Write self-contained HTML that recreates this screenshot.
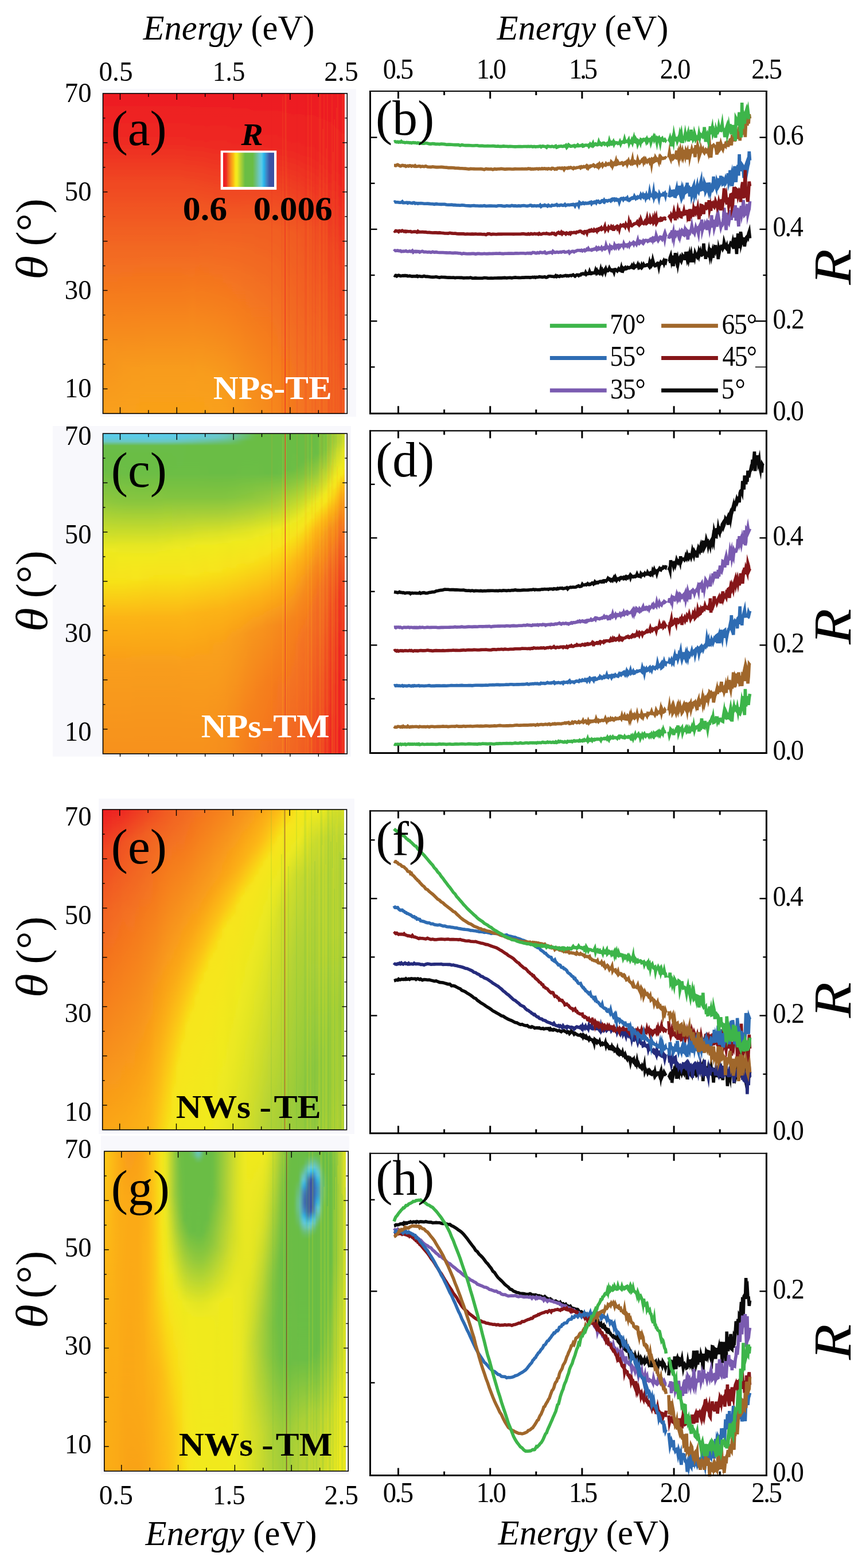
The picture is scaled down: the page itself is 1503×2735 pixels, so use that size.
<!DOCTYPE html>
<html lang="en"><head><meta charset="utf-8"><title>Reflectance maps</title>
<style>
html,body{margin:0;padding:0;background:#fff}
body{width:1503px;height:2735px;overflow:hidden}
svg{display:block}
text{font-family:"Liberation Serif",serif}
</style></head><body>
<svg width="1503" height="2735" viewBox="0 0 1503 2735">
<rect x="175.2" y="154.9" width="445.8" height="571.9" fill="#f8f8fc"/>
<rect x="92" y="743" width="520" height="576.5" fill="#f8f8fc"/>
<rect x="172" y="1393" width="446" height="585" fill="#f8f8fc"/>
<rect x="176" y="1981" width="433" height="591" fill="#f8f8fc"/>
<defs><linearGradient id="g1" x2="0" y2="1"><stop offset="0" stop-color="#ed1c24"/><stop offset=".15" stop-color="#ee2a24"/><stop offset=".275" stop-color="#f04723"/><stop offset=".463" stop-color="#f26521"/><stop offset=".8" stop-color="#f7921d"/><stop offset="1" stop-color="#f9a01a"/></linearGradient><linearGradient id="g2" x2="0" y2="1"><stop offset="0" stop-color="#ed1c24"/><stop offset=".15" stop-color="#ee2a24"/><stop offset=".275" stop-color="#f04723"/><stop offset=".463" stop-color="#f26521"/><stop offset=".8" stop-color="#f7921d"/><stop offset="1" stop-color="#f9a01a"/></linearGradient><linearGradient id="g3" x2="0" y2="1"><stop offset="0" stop-color="#ed1c24"/><stop offset=".15" stop-color="#ee2a24"/><stop offset=".275" stop-color="#f04723"/><stop offset=".463" stop-color="#f26521"/><stop offset=".8" stop-color="#f7921d"/><stop offset="1" stop-color="#f9a01a"/></linearGradient><linearGradient id="g4" x2="0" y2="1"><stop offset="0" stop-color="#ed1c24"/><stop offset=".15" stop-color="#ee2a24"/><stop offset=".275" stop-color="#f04723"/><stop offset=".463" stop-color="#f26521"/><stop offset=".8" stop-color="#f7921d"/><stop offset="1" stop-color="#f9a01a"/></linearGradient><linearGradient id="g5" x2="0" y2="1"><stop offset="0" stop-color="#ed1c24"/><stop offset=".15" stop-color="#ee2a24"/><stop offset=".275" stop-color="#f04723"/><stop offset=".463" stop-color="#f26521"/><stop offset=".812" stop-color="#f7941d"/><stop offset="1" stop-color="#f9a01a"/></linearGradient><linearGradient id="g6" x2="0" y2="1"><stop offset="0" stop-color="#ed1c24"/><stop offset=".15" stop-color="#ee2a24"/><stop offset=".275" stop-color="#f04723"/><stop offset=".463" stop-color="#f26521"/><stop offset=".838" stop-color="#f7971c"/><stop offset="1" stop-color="#f9a01a"/></linearGradient><linearGradient id="g7" x2="0" y2="1"><stop offset="0" stop-color="#ed1c24"/><stop offset=".15" stop-color="#ee2a24"/><stop offset=".275" stop-color="#f04723"/><stop offset=".463" stop-color="#f26521"/><stop offset=".85" stop-color="#f8991c"/><stop offset="1" stop-color="#f9a01a"/></linearGradient><linearGradient id="g8" x2="0" y2="1"><stop offset="0" stop-color="#ed1c24"/><stop offset=".15" stop-color="#ee2a24"/><stop offset=".275" stop-color="#f04723"/><stop offset=".463" stop-color="#f26521"/><stop offset=".85" stop-color="#f8991c"/><stop offset="1" stop-color="#f9a11a"/></linearGradient><linearGradient id="g9" x2="0" y2="1"><stop offset="0" stop-color="#ed1c24"/><stop offset=".15" stop-color="#ee2a24"/><stop offset=".275" stop-color="#f04723"/><stop offset=".463" stop-color="#f26521"/><stop offset=".863" stop-color="#f89b1b"/><stop offset="1" stop-color="#f9a11a"/></linearGradient><linearGradient id="g10" x2="0" y2="1"><stop offset="0" stop-color="#ed1c24"/><stop offset=".15" stop-color="#ee2a24"/><stop offset=".275" stop-color="#f04723"/><stop offset=".463" stop-color="#f26521"/><stop offset=".863" stop-color="#f89b1b"/><stop offset="1" stop-color="#f9a119"/></linearGradient><linearGradient id="g11" x2="0" y2="1"><stop offset="0" stop-color="#ed1c24"/><stop offset=".15" stop-color="#ee2a24"/><stop offset=".275" stop-color="#f04723"/><stop offset=".463" stop-color="#f26521"/><stop offset=".863" stop-color="#f89b1b"/><stop offset="1" stop-color="#f9a119"/></linearGradient><linearGradient id="g12" x2="0" y2="1"><stop offset="0" stop-color="#ed1c24"/><stop offset=".15" stop-color="#ee2a24"/><stop offset=".275" stop-color="#f04723"/><stop offset=".463" stop-color="#f26521"/><stop offset=".863" stop-color="#f89c1b"/><stop offset="1" stop-color="#f9a119"/></linearGradient><linearGradient id="g13" x2="0" y2="1"><stop offset="0" stop-color="#ed1c24"/><stop offset=".15" stop-color="#ee2a24"/><stop offset=".275" stop-color="#f04723"/><stop offset=".463" stop-color="#f26521"/><stop offset=".863" stop-color="#f89c1b"/><stop offset="1" stop-color="#f9a119"/></linearGradient><linearGradient id="g14" x2="0" y2="1"><stop offset="0" stop-color="#ed1c24"/><stop offset=".15" stop-color="#ee2a24"/><stop offset=".275" stop-color="#f04723"/><stop offset=".463" stop-color="#f26521"/><stop offset=".863" stop-color="#f89c1b"/><stop offset="1" stop-color="#f9a119"/></linearGradient><linearGradient id="g15" x2="0" y2="1"><stop offset="0" stop-color="#ed1c24"/><stop offset=".15" stop-color="#ee2a24"/><stop offset=".275" stop-color="#f04723"/><stop offset=".463" stop-color="#f26521"/><stop offset=".863" stop-color="#f89c1b"/><stop offset="1" stop-color="#f9a119"/></linearGradient><linearGradient id="g16" x2="0" y2="1"><stop offset="0" stop-color="#ed1c24"/><stop offset=".15" stop-color="#ee2a24"/><stop offset=".275" stop-color="#f04723"/><stop offset=".463" stop-color="#f26521"/><stop offset=".863" stop-color="#f89c1b"/><stop offset="1" stop-color="#f9a119"/></linearGradient><linearGradient id="g17" x2="0" y2="1"><stop offset="0" stop-color="#ed1c24"/><stop offset=".15" stop-color="#ee2a24"/><stop offset=".275" stop-color="#f04723"/><stop offset=".463" stop-color="#f26521"/><stop offset=".863" stop-color="#f89c1b"/><stop offset="1" stop-color="#f9a119"/></linearGradient><linearGradient id="g18" x2="0" y2="1"><stop offset="0" stop-color="#ed1c24"/><stop offset=".15" stop-color="#ee2a24"/><stop offset=".275" stop-color="#f04723"/><stop offset=".463" stop-color="#f26521"/><stop offset=".863" stop-color="#f89c1b"/><stop offset="1" stop-color="#f9a119"/></linearGradient><linearGradient id="g19" x2="0" y2="1"><stop offset="0" stop-color="#ed1c24"/><stop offset=".15" stop-color="#ee2a24"/><stop offset=".275" stop-color="#f04723"/><stop offset=".463" stop-color="#f26521"/><stop offset=".863" stop-color="#f89c1b"/><stop offset="1" stop-color="#f9a119"/></linearGradient><linearGradient id="g20" x2="0" y2="1"><stop offset="0" stop-color="#ed1c24"/><stop offset=".15" stop-color="#ee2a24"/><stop offset=".288" stop-color="#f04923"/><stop offset=".463" stop-color="#f26521"/><stop offset=".863" stop-color="#f89c1b"/><stop offset="1" stop-color="#f9a119"/></linearGradient><linearGradient id="g21" x2="0" y2="1"><stop offset="0" stop-color="#ed1c24"/><stop offset=".15" stop-color="#ee2924"/><stop offset=".3" stop-color="#f04b23"/><stop offset=".475" stop-color="#f26721"/><stop offset=".863" stop-color="#f89c1b"/><stop offset="1" stop-color="#f9a119"/></linearGradient><linearGradient id="g22" x2="0" y2="1"><stop offset="0" stop-color="#ed1c24"/><stop offset=".15" stop-color="#ee2924"/><stop offset=".312" stop-color="#f04e23"/><stop offset=".688" stop-color="#f6861e"/><stop offset=".9" stop-color="#f99e1a"/><stop offset="1" stop-color="#f9a119"/></linearGradient><linearGradient id="g23" x2="0" y2="1"><stop offset="0" stop-color="#ed1c24"/><stop offset=".15" stop-color="#ee2924"/><stop offset=".35" stop-color="#f15522"/><stop offset=".863" stop-color="#f89c1b"/><stop offset="1" stop-color="#f9a119"/></linearGradient><linearGradient id="g24" x2="0" y2="1"><stop offset="0" stop-color="#ed1c24"/><stop offset=".15" stop-color="#ee2924"/><stop offset=".375" stop-color="#f15a22"/><stop offset=".875" stop-color="#f89d1b"/><stop offset="1" stop-color="#f9a119"/></linearGradient><linearGradient id="g25" x2="0" y2="1"><stop offset="0" stop-color="#ed1c24"/><stop offset=".15" stop-color="#ee2824"/><stop offset=".388" stop-color="#f15c22"/><stop offset=".875" stop-color="#f89c1b"/><stop offset="1" stop-color="#f9a119"/></linearGradient><linearGradient id="g26" x2="0" y2="1"><stop offset="0" stop-color="#ed1c24"/><stop offset=".163" stop-color="#ee2a24"/><stop offset=".388" stop-color="#f15c22"/><stop offset=".888" stop-color="#f89d1b"/><stop offset="1" stop-color="#f9a11a"/></linearGradient><linearGradient id="g27" x2="0" y2="1"><stop offset="0" stop-color="#ed1c24"/><stop offset=".163" stop-color="#ee2a24"/><stop offset=".413" stop-color="#f25f22"/><stop offset=".888" stop-color="#f89c1b"/><stop offset="1" stop-color="#f9a01a"/></linearGradient><linearGradient id="g28" x2="0" y2="1"><stop offset="0" stop-color="#ed1c24"/><stop offset=".163" stop-color="#ee2a24"/><stop offset=".413" stop-color="#f25f22"/><stop offset=".9" stop-color="#f89c1b"/><stop offset="1" stop-color="#f9a01a"/></linearGradient><linearGradient id="g29" x2="0" y2="1"><stop offset="0" stop-color="#ed1c24"/><stop offset=".163" stop-color="#ee2a24"/><stop offset=".413" stop-color="#f25f22"/><stop offset=".9" stop-color="#f89b1b"/><stop offset="1" stop-color="#f99f1a"/></linearGradient><linearGradient id="g30" x2="0" y2="1"><stop offset="0" stop-color="#ed1c24"/><stop offset=".163" stop-color="#ee2924"/><stop offset=".413" stop-color="#f25f22"/><stop offset=".9" stop-color="#f8991c"/><stop offset="1" stop-color="#f99d1a"/></linearGradient><linearGradient id="g31" x2="0" y2="1"><stop offset="0" stop-color="#ed1c24"/><stop offset=".163" stop-color="#ee2924"/><stop offset=".413" stop-color="#f25f22"/><stop offset=".9" stop-color="#f8971c"/><stop offset="1" stop-color="#f89b1b"/></linearGradient><linearGradient id="g32" x2="0" y2="1"><stop offset="0" stop-color="#ed1c24"/><stop offset=".163" stop-color="#ee2924"/><stop offset=".413" stop-color="#f25f22"/><stop offset=".888" stop-color="#f7941d"/><stop offset="1" stop-color="#f8991c"/></linearGradient><linearGradient id="g33" x2="0" y2="1"><stop offset="0" stop-color="#ed1c24"/><stop offset=".163" stop-color="#ee2924"/><stop offset=".413" stop-color="#f15f22"/><stop offset=".888" stop-color="#f7911d"/><stop offset="1" stop-color="#f7971c"/></linearGradient><linearGradient id="g34" x2="0" y2="1"><stop offset="0" stop-color="#ed1c24"/><stop offset=".15" stop-color="#ee2724"/><stop offset=".413" stop-color="#f15f22"/><stop offset=".888" stop-color="#f68f1d"/><stop offset="1" stop-color="#f7941d"/></linearGradient><linearGradient id="g35" x2="0" y2="1"><stop offset="0" stop-color="#ed1c24"/><stop offset=".15" stop-color="#ee2624"/><stop offset=".413" stop-color="#f15f22"/><stop offset=".875" stop-color="#f68c1e"/><stop offset="1" stop-color="#f7921d"/></linearGradient><linearGradient id="g36" x2="0" y2="1"><stop offset="0" stop-color="#ed1c24"/><stop offset=".15" stop-color="#ee2624"/><stop offset=".413" stop-color="#f15e22"/><stop offset=".888" stop-color="#f68b1e"/><stop offset="1" stop-color="#f7901d"/></linearGradient><linearGradient id="g37" x2="0" y2="1"><stop offset="0" stop-color="#ed1c24"/><stop offset=".15" stop-color="#ee2624"/><stop offset=".413" stop-color="#f15e22"/><stop offset=".888" stop-color="#f6891e"/><stop offset="1" stop-color="#f68e1e"/></linearGradient><linearGradient id="g38" x2="0" y2="1"><stop offset="0" stop-color="#ed1c24"/><stop offset=".163" stop-color="#ee2724"/><stop offset=".413" stop-color="#f15e22"/><stop offset=".888" stop-color="#f6871e"/><stop offset="1" stop-color="#f68c1e"/></linearGradient><linearGradient id="g39" x2="0" y2="1"><stop offset="0" stop-color="#ed1c24"/><stop offset=".163" stop-color="#ee2724"/><stop offset=".413" stop-color="#f15d22"/><stop offset=".888" stop-color="#f5851e"/><stop offset="1" stop-color="#f6891e"/></linearGradient><linearGradient id="g40" x2="0" y2="1"><stop offset="0" stop-color="#ed1c24"/><stop offset=".163" stop-color="#ee2724"/><stop offset=".425" stop-color="#f15e22"/><stop offset=".9" stop-color="#f5831e"/><stop offset="1" stop-color="#f6861e"/></linearGradient><linearGradient id="g41" x2="0" y2="1"><stop offset="0" stop-color="#ed1c24"/><stop offset=".163" stop-color="#ee2624"/><stop offset=".425" stop-color="#f15d22"/><stop offset=".9" stop-color="#f5811f"/><stop offset="1" stop-color="#f5831e"/></linearGradient><linearGradient id="g42" x2="0" y2="1"><stop offset="0" stop-color="#ed1c24"/><stop offset=".163" stop-color="#ee2624"/><stop offset=".425" stop-color="#f15c22"/><stop offset=".913" stop-color="#f57e1f"/><stop offset="1" stop-color="#f5801f"/></linearGradient><linearGradient id="g43" x2="0" y2="1"><stop offset="0" stop-color="#ed1c24"/><stop offset=".163" stop-color="#ee2524"/><stop offset=".438" stop-color="#f15c22"/><stop offset=".925" stop-color="#f47b1f"/><stop offset="1" stop-color="#f57d1f"/></linearGradient><linearGradient id="g44" x2="0" y2="1"><stop offset="0" stop-color="#ed1c24"/><stop offset=".163" stop-color="#ee2524"/><stop offset=".312" stop-color="#ef4123"/><stop offset=".425" stop-color="#f15a22"/><stop offset=".925" stop-color="#f4781f"/><stop offset="1" stop-color="#f4791f"/></linearGradient><linearGradient id="g45" x2="0" y2="1"><stop offset="0" stop-color="#ed1c24"/><stop offset=".175" stop-color="#ee2624"/><stop offset=".312" stop-color="#ef4023"/><stop offset=".438" stop-color="#f15a22"/><stop offset=".95" stop-color="#f47620"/><stop offset="1" stop-color="#f47720"/></linearGradient><linearGradient id="g46" x2="0" y2="1"><stop offset="0" stop-color="#ed1c24"/><stop offset=".175" stop-color="#ee2524"/><stop offset=".3" stop-color="#ef3b23"/><stop offset=".425" stop-color="#f15622"/><stop offset=".913" stop-color="#f47320"/><stop offset="1" stop-color="#f47420"/></linearGradient><linearGradient id="g47" x2="0" y2="1"><stop offset="0" stop-color="#ed1c24"/><stop offset=".175" stop-color="#ee2524"/><stop offset=".288" stop-color="#ef3723"/><stop offset=".425" stop-color="#f15422"/><stop offset=".9" stop-color="#f37120"/><stop offset="1" stop-color="#f47220"/></linearGradient><linearGradient id="g48" x2="0" y2="1"><stop offset="0" stop-color="#ed1c24"/><stop offset=".188" stop-color="#ee2624"/><stop offset=".3" stop-color="#ef3823"/><stop offset=".425" stop-color="#f05122"/><stop offset=".825" stop-color="#f36b21"/><stop offset="1" stop-color="#f37020"/></linearGradient><linearGradient id="g49" x2="0" y2="1"><stop offset="0" stop-color="#ed1c24"/><stop offset=".188" stop-color="#ee2524"/><stop offset=".3" stop-color="#ef3624"/><stop offset=".425" stop-color="#f04e22"/><stop offset=".738" stop-color="#f26521"/><stop offset="1" stop-color="#f36e20"/></linearGradient><linearGradient id="g50" x2="0" y2="1"><stop offset="0" stop-color="#ed1c24"/><stop offset=".2" stop-color="#ee2524"/><stop offset=".312" stop-color="#ef3624"/><stop offset=".438" stop-color="#f04c23"/><stop offset=".738" stop-color="#f26221"/><stop offset="1" stop-color="#f36b20"/></linearGradient><linearGradient id="g51" x2="0" y2="1"><stop offset="0" stop-color="#ed1c24"/><stop offset=".213" stop-color="#ee2524"/><stop offset=".325" stop-color="#ef3624"/><stop offset=".45" stop-color="#f04923"/><stop offset=".788" stop-color="#f26221"/><stop offset="1" stop-color="#f26821"/></linearGradient><linearGradient id="g52" x2="0" y2="1"><stop offset="0" stop-color="#ed1c24"/><stop offset=".225" stop-color="#ee2524"/><stop offset=".475" stop-color="#f04723"/><stop offset=".825" stop-color="#f26021"/><stop offset="1" stop-color="#f26421"/></linearGradient><linearGradient id="g53" x2="0" y2="1"><stop offset="0" stop-color="#ed1c24"/><stop offset=".238" stop-color="#ee2424"/><stop offset=".5" stop-color="#f04523"/><stop offset=".875" stop-color="#f15f22"/><stop offset="1" stop-color="#f26121"/></linearGradient><linearGradient id="g54" x2="0" y2="1"><stop offset="0" stop-color="#ed1c24"/><stop offset=".238" stop-color="#ee2324"/><stop offset=".55" stop-color="#f04523"/><stop offset=".938" stop-color="#f15c22"/><stop offset="1" stop-color="#f15d22"/></linearGradient><linearGradient id="g55" x2="0" y2="1"><stop offset="0" stop-color="#ed1c24"/><stop offset=".25" stop-color="#ee2324"/><stop offset=".588" stop-color="#f04523"/><stop offset="1" stop-color="#f15a22"/></linearGradient><linearGradient id="g56" x2="0" y2="1"><stop offset="0" stop-color="#ed1c24"/><stop offset=".25" stop-color="#ee2324"/><stop offset=".6" stop-color="#f04623"/><stop offset="1" stop-color="#f15922"/></linearGradient><linearGradient id="g57" x2="0" y2="1"><stop offset="0" stop-color="#ed1c24"/><stop offset=".25" stop-color="#ee2324"/><stop offset=".6" stop-color="#f04623"/><stop offset="1" stop-color="#f15922"/></linearGradient>
<clipPath id="hca"><rect x="180" y="163" width="421" height="558.3"/></clipPath>
<filter id="hba" filterUnits="userSpaceOnUse" x="144" y="158" width="493" height="568.3"><feGaussianBlur stdDeviation="3 0"/></filter></defs>
<g clip-path="url(#hca)"><g filter="url(#hba)"><rect x="164" y="163" width="8.5" height="558.3" fill="url(#g1)"/><rect x="172" y="163" width="8.5" height="558.3" fill="url(#g2)"/><rect x="180" y="163" width="8.5" height="558.3" fill="url(#g3)"/><rect x="188" y="163" width="8.5" height="558.3" fill="url(#g4)"/><rect x="196" y="163" width="8.5" height="558.3" fill="url(#g5)"/><rect x="204" y="163" width="8.5" height="558.3" fill="url(#g6)"/><rect x="212" y="163" width="8.5" height="558.3" fill="url(#g7)"/><rect x="220" y="163" width="8.5" height="558.3" fill="url(#g8)"/><rect x="228" y="163" width="8.5" height="558.3" fill="url(#g9)"/><rect x="236" y="163" width="8.5" height="558.3" fill="url(#g10)"/><rect x="244" y="163" width="8.5" height="558.3" fill="url(#g11)"/><rect x="252" y="163" width="8.5" height="558.3" fill="url(#g12)"/><rect x="260" y="163" width="8.5" height="558.3" fill="url(#g13)"/><rect x="268" y="163" width="8.5" height="558.3" fill="url(#g14)"/><rect x="276" y="163" width="8.5" height="558.3" fill="url(#g15)"/><rect x="284" y="163" width="8.5" height="558.3" fill="url(#g16)"/><rect x="292" y="163" width="8.5" height="558.3" fill="url(#g17)"/><rect x="300" y="163" width="8.5" height="558.3" fill="url(#g18)"/><rect x="308" y="163" width="8.5" height="558.3" fill="url(#g19)"/><rect x="316" y="163" width="8.5" height="558.3" fill="url(#g20)"/><rect x="324" y="163" width="8.5" height="558.3" fill="url(#g21)"/><rect x="332" y="163" width="8.5" height="558.3" fill="url(#g22)"/><rect x="340" y="163" width="8.5" height="558.3" fill="url(#g23)"/><rect x="348" y="163" width="8.5" height="558.3" fill="url(#g24)"/><rect x="356" y="163" width="8.5" height="558.3" fill="url(#g25)"/><rect x="364" y="163" width="8.5" height="558.3" fill="url(#g26)"/><rect x="372" y="163" width="8.5" height="558.3" fill="url(#g27)"/><rect x="380" y="163" width="8.5" height="558.3" fill="url(#g28)"/><rect x="388" y="163" width="8.5" height="558.3" fill="url(#g29)"/><rect x="396" y="163" width="8.5" height="558.3" fill="url(#g30)"/><rect x="404" y="163" width="8.5" height="558.3" fill="url(#g31)"/><rect x="412" y="163" width="8.5" height="558.3" fill="url(#g32)"/><rect x="420" y="163" width="8.5" height="558.3" fill="url(#g33)"/><rect x="428" y="163" width="8.5" height="558.3" fill="url(#g34)"/><rect x="436" y="163" width="8.5" height="558.3" fill="url(#g35)"/><rect x="444" y="163" width="8.5" height="558.3" fill="url(#g36)"/><rect x="452" y="163" width="8.5" height="558.3" fill="url(#g37)"/><rect x="460" y="163" width="8.5" height="558.3" fill="url(#g38)"/><rect x="468" y="163" width="8.5" height="558.3" fill="url(#g39)"/><rect x="476" y="163" width="8.5" height="558.3" fill="url(#g40)"/><rect x="484" y="163" width="8.5" height="558.3" fill="url(#g41)"/><rect x="492" y="163" width="8.5" height="558.3" fill="url(#g42)"/><rect x="500" y="163" width="8.5" height="558.3" fill="url(#g43)"/><rect x="508" y="163" width="8.5" height="558.3" fill="url(#g44)"/><rect x="516" y="163" width="8.5" height="558.3" fill="url(#g45)"/><rect x="524" y="163" width="8.5" height="558.3" fill="url(#g46)"/><rect x="532" y="163" width="8.5" height="558.3" fill="url(#g47)"/><rect x="540" y="163" width="8.5" height="558.3" fill="url(#g48)"/><rect x="548" y="163" width="8.5" height="558.3" fill="url(#g49)"/><rect x="556" y="163" width="8.5" height="558.3" fill="url(#g50)"/><rect x="564" y="163" width="8.5" height="558.3" fill="url(#g51)"/><rect x="572" y="163" width="8.5" height="558.3" fill="url(#g52)"/><rect x="580" y="163" width="8.5" height="558.3" fill="url(#g53)"/><rect x="588" y="163" width="8.5" height="558.3" fill="url(#g54)"/><rect x="596" y="163" width="8.5" height="558.3" fill="url(#g55)"/><rect x="604" y="163" width="8.5" height="558.3" fill="url(#g56)"/><rect x="612" y="163" width="8.5" height="558.3" fill="url(#g57)"/></g></g>
<path d="M474 163V721M492 241V721M496 163V721M504 262V721M518 163V721M532 163V721M534 163V721M544 163V721M550 252V721M560 163V721M562 163V721M572 163V721M574 163V721M578 219V721M580 163V721M584 301V721M588 220V721M594 237V721M596 240V721M600 225V721" stroke="#ed1c24" stroke-opacity="0.14" stroke-width="1.6" fill="none"/>
<path d="M493 168V721M499 163V721M537 163V721M543 163V721M557 163V721M559 163V721M563 225V721M565 165V721M569 259V721M571 163V721M579 163V721M581 265V721M583 208V721M587 188V721M589 163V721M597 163V721M599 163V721" stroke="#f7941d" stroke-opacity="0.14" stroke-width="1.6" fill="none"/>
<rect x="601" y="163" width="4.3" height="558.3" fill="#fff"/>
<line x1="497.403" y1="163" x2="497.403" y2="721.3" stroke="#ee3a24" stroke-width="1.3"/>
<rect x="179.5" y="163" width="425.8" height="558.3" fill="none" stroke="#000" stroke-width="1.6"/>
<line x1="209.5" y1="163" x2="209.5" y2="174" stroke="#000" stroke-width="1.4"/>
<line x1="209.5" y1="721.3" x2="209.5" y2="710.3" stroke="#000" stroke-width="1.4"/>
<line x1="258.9" y1="163" x2="258.9" y2="169" stroke="#000" stroke-width="1.4"/>
<line x1="258.9" y1="721.3" x2="258.9" y2="715.3" stroke="#000" stroke-width="1.4"/>
<line x1="308.3" y1="163" x2="308.3" y2="174" stroke="#000" stroke-width="1.4"/>
<line x1="308.3" y1="721.3" x2="308.3" y2="710.3" stroke="#000" stroke-width="1.4"/>
<line x1="357.7" y1="163" x2="357.7" y2="169" stroke="#000" stroke-width="1.4"/>
<line x1="357.7" y1="721.3" x2="357.7" y2="715.3" stroke="#000" stroke-width="1.4"/>
<line x1="407.1" y1="163" x2="407.1" y2="174" stroke="#000" stroke-width="1.4"/>
<line x1="407.1" y1="721.3" x2="407.1" y2="710.3" stroke="#000" stroke-width="1.4"/>
<line x1="456.5" y1="163" x2="456.5" y2="169" stroke="#000" stroke-width="1.4"/>
<line x1="456.5" y1="721.3" x2="456.5" y2="715.3" stroke="#000" stroke-width="1.4"/>
<line x1="505.9" y1="163" x2="505.9" y2="174" stroke="#000" stroke-width="1.4"/>
<line x1="505.9" y1="721.3" x2="505.9" y2="710.3" stroke="#000" stroke-width="1.4"/>
<line x1="555.3" y1="163" x2="555.3" y2="169" stroke="#000" stroke-width="1.4"/>
<line x1="555.3" y1="721.3" x2="555.3" y2="715.3" stroke="#000" stroke-width="1.4"/>
<line x1="179.5" y1="205.946" x2="183.5" y2="205.946" stroke="#000" stroke-width="1.4"/>
<line x1="605.3" y1="205.946" x2="601.3" y2="205.946" stroke="#000" stroke-width="1.4"/>
<line x1="179.5" y1="248.892" x2="187.5" y2="248.892" stroke="#000" stroke-width="1.4"/>
<line x1="605.3" y1="248.892" x2="597.3" y2="248.892" stroke="#000" stroke-width="1.4"/>
<line x1="179.5" y1="291.838" x2="183.5" y2="291.838" stroke="#000" stroke-width="1.4"/>
<line x1="605.3" y1="291.838" x2="601.3" y2="291.838" stroke="#000" stroke-width="1.4"/>
<line x1="179.5" y1="334.785" x2="187.5" y2="334.785" stroke="#000" stroke-width="1.4"/>
<line x1="605.3" y1="334.785" x2="597.3" y2="334.785" stroke="#000" stroke-width="1.4"/>
<line x1="179.5" y1="377.731" x2="183.5" y2="377.731" stroke="#000" stroke-width="1.4"/>
<line x1="605.3" y1="377.731" x2="601.3" y2="377.731" stroke="#000" stroke-width="1.4"/>
<line x1="179.5" y1="420.677" x2="187.5" y2="420.677" stroke="#000" stroke-width="1.4"/>
<line x1="605.3" y1="420.677" x2="597.3" y2="420.677" stroke="#000" stroke-width="1.4"/>
<line x1="179.5" y1="463.623" x2="183.5" y2="463.623" stroke="#000" stroke-width="1.4"/>
<line x1="605.3" y1="463.623" x2="601.3" y2="463.623" stroke="#000" stroke-width="1.4"/>
<line x1="179.5" y1="506.569" x2="187.5" y2="506.569" stroke="#000" stroke-width="1.4"/>
<line x1="605.3" y1="506.569" x2="597.3" y2="506.569" stroke="#000" stroke-width="1.4"/>
<line x1="179.5" y1="549.515" x2="183.5" y2="549.515" stroke="#000" stroke-width="1.4"/>
<line x1="605.3" y1="549.515" x2="601.3" y2="549.515" stroke="#000" stroke-width="1.4"/>
<line x1="179.5" y1="592.462" x2="187.5" y2="592.462" stroke="#000" stroke-width="1.4"/>
<line x1="605.3" y1="592.462" x2="597.3" y2="592.462" stroke="#000" stroke-width="1.4"/>
<line x1="179.5" y1="635.408" x2="183.5" y2="635.408" stroke="#000" stroke-width="1.4"/>
<line x1="605.3" y1="635.408" x2="601.3" y2="635.408" stroke="#000" stroke-width="1.4"/>
<line x1="179.5" y1="678.354" x2="187.5" y2="678.354" stroke="#000" stroke-width="1.4"/>
<line x1="605.3" y1="678.354" x2="597.3" y2="678.354" stroke="#000" stroke-width="1.4"/>
<text transform="translate(112.79 178.03) scale(0.9724 1)" font-size="48.01">70</text>
<text transform="translate(112.79 349.82) scale(0.9724 1)" font-size="48.01">50</text>
<text transform="translate(112.79 521.60) scale(0.9724 1)" font-size="48.01">30</text>
<text transform="translate(112.79 693.38) scale(0.9724 1)" font-size="48.01">10</text>
<text transform="translate(82.44 487.86) rotate(-90) scale(1.0925 1)" font-size="78.00" font-style="italic">θ</text>
<text transform="translate(82.38 429.43) rotate(-90) scale(0.9935 1)" font-size="78.52">(°)</text>
<defs><linearGradient id="g58" x2="0" y2="1"><stop offset="0" stop-color="#5bcbe8"/><stop offset=".013" stop-color="#5dcbe4"/><stop offset=".025" stop-color="#6bc7c2"/><stop offset=".038" stop-color="#6abd4a"/><stop offset=".062" stop-color="#6abd45"/><stop offset=".113" stop-color="#6abd45"/><stop offset=".213" stop-color="#91c83c"/><stop offset=".363" stop-color="#ede920"/><stop offset=".463" stop-color="#f7e219"/><stop offset=".575" stop-color="#fcb414"/><stop offset=".713" stop-color="#f99e1a"/><stop offset="1" stop-color="#f7911d"/></linearGradient><linearGradient id="g59" x2="0" y2="1"><stop offset="0" stop-color="#5bcbe8"/><stop offset=".013" stop-color="#5dcbe4"/><stop offset=".025" stop-color="#6bc7c2"/><stop offset=".038" stop-color="#6abd4a"/><stop offset=".062" stop-color="#6abd45"/><stop offset=".113" stop-color="#6abd45"/><stop offset=".213" stop-color="#91c83c"/><stop offset=".363" stop-color="#ede920"/><stop offset=".463" stop-color="#f7e219"/><stop offset=".575" stop-color="#fcb414"/><stop offset=".713" stop-color="#f99e1a"/><stop offset="1" stop-color="#f7911d"/></linearGradient><linearGradient id="g60" x2="0" y2="1"><stop offset="0" stop-color="#5bcbe8"/><stop offset=".013" stop-color="#5dcbe4"/><stop offset=".025" stop-color="#6bc7c2"/><stop offset=".038" stop-color="#6abd4a"/><stop offset=".062" stop-color="#6abd45"/><stop offset=".113" stop-color="#6abd45"/><stop offset=".213" stop-color="#90c83c"/><stop offset=".363" stop-color="#ede920"/><stop offset=".463" stop-color="#f7e219"/><stop offset=".575" stop-color="#fcb414"/><stop offset=".713" stop-color="#f99e1a"/><stop offset="1" stop-color="#f7911d"/></linearGradient><linearGradient id="g61" x2="0" y2="1"><stop offset="0" stop-color="#5bcbe8"/><stop offset=".013" stop-color="#5dcbe4"/><stop offset=".025" stop-color="#6bc7c2"/><stop offset=".038" stop-color="#6abd4a"/><stop offset=".062" stop-color="#6abd45"/><stop offset=".125" stop-color="#6ebe44"/><stop offset=".213" stop-color="#8ec83d"/><stop offset=".363" stop-color="#ede920"/><stop offset=".463" stop-color="#f7e219"/><stop offset=".575" stop-color="#fcb414"/><stop offset=".713" stop-color="#f99e1a"/><stop offset="1" stop-color="#f7911d"/></linearGradient><linearGradient id="g62" x2="0" y2="1"><stop offset="0" stop-color="#5bcbe8"/><stop offset=".013" stop-color="#5dcbe4"/><stop offset=".025" stop-color="#6bc7c2"/><stop offset=".038" stop-color="#6abd4a"/><stop offset=".062" stop-color="#6abd45"/><stop offset=".125" stop-color="#6dbe44"/><stop offset=".213" stop-color="#8cc73d"/><stop offset=".363" stop-color="#ede920"/><stop offset=".463" stop-color="#f7e219"/><stop offset=".575" stop-color="#fcb414"/><stop offset=".713" stop-color="#f99e1a"/><stop offset="1" stop-color="#f7911d"/></linearGradient><linearGradient id="g63" x2="0" y2="1"><stop offset="0" stop-color="#5bcbe8"/><stop offset=".013" stop-color="#5dcbe4"/><stop offset=".025" stop-color="#6bc7c2"/><stop offset=".038" stop-color="#6abd4a"/><stop offset=".062" stop-color="#6abd45"/><stop offset=".125" stop-color="#6dbe44"/><stop offset=".213" stop-color="#8bc73e"/><stop offset=".35" stop-color="#e6e622"/><stop offset=".388" stop-color="#f2e91e"/><stop offset=".463" stop-color="#f7e219"/><stop offset=".575" stop-color="#fcb414"/><stop offset=".713" stop-color="#f99e1a"/><stop offset="1" stop-color="#f7911d"/></linearGradient><linearGradient id="g64" x2="0" y2="1"><stop offset="0" stop-color="#5bcbe8"/><stop offset=".013" stop-color="#5dcbe4"/><stop offset=".025" stop-color="#6bc7c2"/><stop offset=".038" stop-color="#6abd4a"/><stop offset=".062" stop-color="#6abd45"/><stop offset=".125" stop-color="#6cbe44"/><stop offset=".213" stop-color="#8ac63e"/><stop offset=".35" stop-color="#e6e622"/><stop offset=".388" stop-color="#f2e91e"/><stop offset=".463" stop-color="#f7e219"/><stop offset=".575" stop-color="#fcb414"/><stop offset=".713" stop-color="#f99e1a"/><stop offset="1" stop-color="#f7911d"/></linearGradient><linearGradient id="g65" x2="0" y2="1"><stop offset="0" stop-color="#5bcbe8"/><stop offset=".013" stop-color="#5dcbe4"/><stop offset=".025" stop-color="#6bc7c2"/><stop offset=".038" stop-color="#6abd4a"/><stop offset=".062" stop-color="#6abd45"/><stop offset=".125" stop-color="#6cbe45"/><stop offset=".213" stop-color="#8ac63e"/><stop offset=".35" stop-color="#e6e622"/><stop offset=".388" stop-color="#f2e91e"/><stop offset=".463" stop-color="#f7e119"/><stop offset=".575" stop-color="#fcb414"/><stop offset=".713" stop-color="#f99e1a"/><stop offset="1" stop-color="#f7911d"/></linearGradient><linearGradient id="g66" x2="0" y2="1"><stop offset="0" stop-color="#5bcbe8"/><stop offset=".013" stop-color="#5dcbe4"/><stop offset=".025" stop-color="#6bc7c2"/><stop offset=".038" stop-color="#6abd4a"/><stop offset=".062" stop-color="#6abd45"/><stop offset=".125" stop-color="#6cbe45"/><stop offset=".213" stop-color="#89c63e"/><stop offset=".35" stop-color="#e6e622"/><stop offset=".388" stop-color="#f2e91e"/><stop offset=".45" stop-color="#f7e51a"/><stop offset=".575" stop-color="#fcb414"/><stop offset=".725" stop-color="#f89d1b"/><stop offset="1" stop-color="#f7911d"/></linearGradient><linearGradient id="g67" x2="0" y2="1"><stop offset="0" stop-color="#5bcbe8"/><stop offset=".013" stop-color="#5dcbe4"/><stop offset=".025" stop-color="#6bc7c2"/><stop offset=".038" stop-color="#6abd4a"/><stop offset=".062" stop-color="#6abd45"/><stop offset=".125" stop-color="#6cbe45"/><stop offset=".213" stop-color="#89c63e"/><stop offset=".35" stop-color="#e6e623"/><stop offset=".388" stop-color="#f2e91e"/><stop offset=".45" stop-color="#f7e51a"/><stop offset=".575" stop-color="#fcb414"/><stop offset=".725" stop-color="#f89d1b"/><stop offset="1" stop-color="#f7911d"/></linearGradient><linearGradient id="g68" x2="0" y2="1"><stop offset="0" stop-color="#5bcbe8"/><stop offset=".013" stop-color="#5dcbe4"/><stop offset=".025" stop-color="#6bc7c2"/><stop offset=".038" stop-color="#6abd4a"/><stop offset=".062" stop-color="#6abd45"/><stop offset=".125" stop-color="#6cbe45"/><stop offset=".213" stop-color="#89c63e"/><stop offset=".35" stop-color="#e6e623"/><stop offset=".388" stop-color="#f2e91e"/><stop offset=".45" stop-color="#f7e31a"/><stop offset=".575" stop-color="#fcb314"/><stop offset=".725" stop-color="#f89d1b"/><stop offset="1" stop-color="#f7911d"/></linearGradient><linearGradient id="g69" x2="0" y2="1"><stop offset="0" stop-color="#5bcbe8"/><stop offset=".013" stop-color="#5dcbe4"/><stop offset=".025" stop-color="#6bc7c2"/><stop offset=".038" stop-color="#6abd4a"/><stop offset=".062" stop-color="#6abd45"/><stop offset=".125" stop-color="#6cbe45"/><stop offset=".213" stop-color="#89c63e"/><stop offset=".35" stop-color="#e6e623"/><stop offset=".388" stop-color="#f2e91e"/><stop offset=".45" stop-color="#f7e21a"/><stop offset=".575" stop-color="#fcb315"/><stop offset=".725" stop-color="#f89d1b"/><stop offset="1" stop-color="#f7911d"/></linearGradient><linearGradient id="g70" x2="0" y2="1"><stop offset="0" stop-color="#5bcbe8"/><stop offset=".013" stop-color="#5dcbe4"/><stop offset=".025" stop-color="#6bc7c2"/><stop offset=".038" stop-color="#6abd4a"/><stop offset=".062" stop-color="#6abd45"/><stop offset=".125" stop-color="#6cbe45"/><stop offset=".213" stop-color="#89c63e"/><stop offset=".35" stop-color="#e6e623"/><stop offset=".388" stop-color="#f2e91e"/><stop offset=".45" stop-color="#f7e219"/><stop offset=".575" stop-color="#fcb315"/><stop offset=".725" stop-color="#f89d1b"/><stop offset="1" stop-color="#f7911d"/></linearGradient><linearGradient id="g71" x2="0" y2="1"><stop offset="0" stop-color="#5bcbe8"/><stop offset=".013" stop-color="#5dcbe3"/><stop offset=".025" stop-color="#6bc7c2"/><stop offset=".038" stop-color="#6abd4a"/><stop offset=".062" stop-color="#6abd45"/><stop offset=".125" stop-color="#6cbe45"/><stop offset=".213" stop-color="#8ac63e"/><stop offset=".35" stop-color="#e6e622"/><stop offset=".388" stop-color="#f2e91e"/><stop offset=".45" stop-color="#f7e119"/><stop offset=".575" stop-color="#fcb315"/><stop offset=".725" stop-color="#f89d1b"/><stop offset="1" stop-color="#f7911d"/></linearGradient><linearGradient id="g72" x2="0" y2="1"><stop offset="0" stop-color="#5bcbe8"/><stop offset=".013" stop-color="#5ecbe3"/><stop offset=".025" stop-color="#6bc7c1"/><stop offset=".038" stop-color="#6abd4a"/><stop offset=".062" stop-color="#6abd45"/><stop offset=".125" stop-color="#6cbe45"/><stop offset=".213" stop-color="#8ac63e"/><stop offset=".338" stop-color="#e0e425"/><stop offset=".375" stop-color="#f1e91e"/><stop offset=".45" stop-color="#f7e219"/><stop offset=".575" stop-color="#fcb315"/><stop offset=".725" stop-color="#f89d1b"/><stop offset="1" stop-color="#f7911d"/></linearGradient><linearGradient id="g73" x2="0" y2="1"><stop offset="0" stop-color="#5bcbe8"/><stop offset=".013" stop-color="#5ecae2"/><stop offset=".025" stop-color="#6bc7bf"/><stop offset=".038" stop-color="#6abd4a"/><stop offset=".062" stop-color="#6abd45"/><stop offset=".125" stop-color="#6cbe45"/><stop offset=".2" stop-color="#83c43f"/><stop offset=".35" stop-color="#e8e722"/><stop offset=".375" stop-color="#f1e91e"/><stop offset=".45" stop-color="#f7e219"/><stop offset=".575" stop-color="#fcb315"/><stop offset=".725" stop-color="#f89d1b"/><stop offset="1" stop-color="#f7911d"/></linearGradient><linearGradient id="g74" x2="0" y2="1"><stop offset="0" stop-color="#5bcbe7"/><stop offset=".013" stop-color="#5ecae2"/><stop offset=".025" stop-color="#6bc7bd"/><stop offset=".038" stop-color="#6abd4a"/><stop offset=".062" stop-color="#6abd45"/><stop offset=".125" stop-color="#6cbe45"/><stop offset=".2" stop-color="#83c43f"/><stop offset=".35" stop-color="#e9e721"/><stop offset=".375" stop-color="#f1e91e"/><stop offset=".45" stop-color="#f7e219"/><stop offset=".575" stop-color="#fcb315"/><stop offset=".725" stop-color="#f89d1b"/><stop offset="1" stop-color="#f7911d"/></linearGradient><linearGradient id="g75" x2="0" y2="1"><stop offset="0" stop-color="#5bcbe7"/><stop offset=".013" stop-color="#5fcae1"/><stop offset=".025" stop-color="#6bc6ba"/><stop offset=".038" stop-color="#6abd49"/><stop offset=".075" stop-color="#6abd45"/><stop offset=".125" stop-color="#6cbe45"/><stop offset=".2" stop-color="#83c43f"/><stop offset=".263" stop-color="#aed136"/><stop offset=".338" stop-color="#e4e523"/><stop offset=".363" stop-color="#f0ea1f"/><stop offset=".45" stop-color="#f7e219"/><stop offset=".575" stop-color="#fcb315"/><stop offset=".725" stop-color="#f89d1b"/><stop offset="1" stop-color="#f7911d"/></linearGradient><linearGradient id="g76" x2="0" y2="1"><stop offset="0" stop-color="#5ccbe7"/><stop offset=".013" stop-color="#5fcae0"/><stop offset=".025" stop-color="#6bc6b8"/><stop offset=".038" stop-color="#6abd48"/><stop offset=".125" stop-color="#6cbe45"/><stop offset=".2" stop-color="#83c43f"/><stop offset=".263" stop-color="#afd135"/><stop offset=".338" stop-color="#e5e623"/><stop offset=".363" stop-color="#f0ea1f"/><stop offset=".45" stop-color="#f7e219"/><stop offset=".575" stop-color="#fcb315"/><stop offset=".738" stop-color="#f89c1b"/><stop offset="1" stop-color="#f7911d"/></linearGradient><linearGradient id="g77" x2="0" y2="1"><stop offset="0" stop-color="#5ccbe5"/><stop offset=".013" stop-color="#60cade"/><stop offset=".025" stop-color="#6bc5b4"/><stop offset=".038" stop-color="#6abd46"/><stop offset=".125" stop-color="#6cbe45"/><stop offset=".2" stop-color="#83c43f"/><stop offset=".263" stop-color="#afd135"/><stop offset=".338" stop-color="#e5e623"/><stop offset=".375" stop-color="#f2e91e"/><stop offset=".45" stop-color="#f8e119"/><stop offset=".562" stop-color="#fcb614"/><stop offset=".713" stop-color="#f99e1a"/><stop offset="1" stop-color="#f7911d"/></linearGradient><linearGradient id="g78" x2="0" y2="1"><stop offset="0" stop-color="#5ecae2"/><stop offset=".013" stop-color="#61cadb"/><stop offset=".025" stop-color="#6bc5af"/><stop offset=".038" stop-color="#6abd45"/><stop offset=".125" stop-color="#6cbe45"/><stop offset=".2" stop-color="#83c43f"/><stop offset=".263" stop-color="#b0d235"/><stop offset=".338" stop-color="#e6e622"/><stop offset=".363" stop-color="#f1e91e"/><stop offset=".438" stop-color="#f7e51a"/><stop offset=".562" stop-color="#fcb514"/><stop offset=".713" stop-color="#f99e1a"/><stop offset="1" stop-color="#f7911d"/></linearGradient><linearGradient id="g79" x2="0" y2="1"><stop offset="0" stop-color="#5fcadf"/><stop offset=".013" stop-color="#63cad8"/><stop offset=".025" stop-color="#6bc4aa"/><stop offset=".038" stop-color="#6abd45"/><stop offset=".125" stop-color="#6cbe45"/><stop offset=".2" stop-color="#83c43f"/><stop offset=".25" stop-color="#a6cf37"/><stop offset=".325" stop-color="#dfe425"/><stop offset=".35" stop-color="#eee920"/><stop offset=".438" stop-color="#f7e41a"/><stop offset=".562" stop-color="#fcb414"/><stop offset=".713" stop-color="#f99e1a"/><stop offset="1" stop-color="#f7911d"/></linearGradient><linearGradient id="g80" x2="0" y2="1"><stop offset="0" stop-color="#61cadc"/><stop offset=".013" stop-color="#64c9d5"/><stop offset=".025" stop-color="#6cc3a4"/><stop offset=".038" stop-color="#6abd45"/><stop offset=".125" stop-color="#6cbe45"/><stop offset=".2" stop-color="#83c43f"/><stop offset=".25" stop-color="#a6cf37"/><stop offset=".312" stop-color="#d8e127"/><stop offset=".35" stop-color="#efea1f"/><stop offset=".438" stop-color="#f7e31a"/><stop offset=".562" stop-color="#fcb315"/><stop offset=".7" stop-color="#f99f1a"/><stop offset="1" stop-color="#f7911d"/></linearGradient><linearGradient id="g81" x2="0" y2="1"><stop offset="0" stop-color="#62cad9"/><stop offset=".013" stop-color="#66c9d2"/><stop offset=".025" stop-color="#6cc39f"/><stop offset=".038" stop-color="#6abd45"/><stop offset=".125" stop-color="#6cbd45"/><stop offset=".2" stop-color="#83c43f"/><stop offset=".25" stop-color="#a7cf37"/><stop offset=".312" stop-color="#d9e127"/><stop offset=".35" stop-color="#f0ea1f"/><stop offset=".438" stop-color="#f7e219"/><stop offset=".562" stop-color="#fcb215"/><stop offset=".7" stop-color="#f99f1a"/><stop offset="1" stop-color="#f7911d"/></linearGradient><linearGradient id="g82" x2="0" y2="1"><stop offset="0" stop-color="#64c9d6"/><stop offset=".013" stop-color="#67c9d0"/><stop offset=".025" stop-color="#6cc299"/><stop offset=".038" stop-color="#6abd45"/><stop offset=".125" stop-color="#6cbd45"/><stop offset=".2" stop-color="#83c43f"/><stop offset=".25" stop-color="#a7cf37"/><stop offset=".312" stop-color="#dae127"/><stop offset=".35" stop-color="#f0ea1f"/><stop offset=".438" stop-color="#f8e119"/><stop offset=".562" stop-color="#fcb115"/><stop offset=".7" stop-color="#f99f1a"/><stop offset="1" stop-color="#f7901d"/></linearGradient><linearGradient id="g83" x2="0" y2="1"><stop offset="0" stop-color="#65c9d3"/><stop offset=".013" stop-color="#69c8cc"/><stop offset=".025" stop-color="#6cc194"/><stop offset=".038" stop-color="#6abd45"/><stop offset=".125" stop-color="#6bbd45"/><stop offset=".2" stop-color="#83c43f"/><stop offset=".25" stop-color="#a7cf37"/><stop offset=".312" stop-color="#dbe227"/><stop offset=".35" stop-color="#f0ea1f"/><stop offset=".425" stop-color="#f7e51a"/><stop offset=".55" stop-color="#fcb414"/><stop offset=".663" stop-color="#f9a119"/><stop offset=".925" stop-color="#f7921d"/><stop offset="1" stop-color="#f7901d"/></linearGradient><linearGradient id="g84" x2="0" y2="1"><stop offset="0" stop-color="#67c9cf"/><stop offset=".013" stop-color="#6bc8c9"/><stop offset=".025" stop-color="#6cc08e"/><stop offset=".038" stop-color="#6abd45"/><stop offset=".125" stop-color="#6bbd45"/><stop offset=".2" stop-color="#83c43f"/><stop offset=".25" stop-color="#a8cf37"/><stop offset=".312" stop-color="#dbe226"/><stop offset=".35" stop-color="#f1ea1f"/><stop offset=".425" stop-color="#f7e41a"/><stop offset=".55" stop-color="#fcb315"/><stop offset=".663" stop-color="#f9a11a"/><stop offset=".925" stop-color="#f7921d"/><stop offset="1" stop-color="#f78f1d"/></linearGradient><linearGradient id="g85" x2="0" y2="1"><stop offset="0" stop-color="#69c8cb"/><stop offset=".013" stop-color="#6bc7c1"/><stop offset=".025" stop-color="#6cc087"/><stop offset=".038" stop-color="#6abd45"/><stop offset=".125" stop-color="#6bbd45"/><stop offset=".2" stop-color="#83c43f"/><stop offset=".25" stop-color="#a8cf37"/><stop offset=".312" stop-color="#dce226"/><stop offset=".35" stop-color="#f1e91e"/><stop offset=".425" stop-color="#f7e31a"/><stop offset=".55" stop-color="#fcb315"/><stop offset=".663" stop-color="#f9a01a"/><stop offset=".913" stop-color="#f7911d"/><stop offset="1" stop-color="#f68e1d"/></linearGradient><linearGradient id="g86" x2="0" y2="1"><stop offset="0" stop-color="#6bc7c4"/><stop offset=".013" stop-color="#6bc6b7"/><stop offset=".038" stop-color="#6abd45"/><stop offset=".125" stop-color="#6bbd45"/><stop offset=".2" stop-color="#83c43f"/><stop offset=".25" stop-color="#a9cf37"/><stop offset=".312" stop-color="#dee326"/><stop offset=".35" stop-color="#f1e91e"/><stop offset=".425" stop-color="#f7e119"/><stop offset=".55" stop-color="#fcb215"/><stop offset=".663" stop-color="#f99e1a"/><stop offset=".913" stop-color="#f7901d"/><stop offset="1" stop-color="#f68d1e"/></linearGradient><linearGradient id="g87" x2="0" y2="1"><stop offset="0" stop-color="#6bc6b7"/><stop offset=".013" stop-color="#6bc4aa"/><stop offset=".038" stop-color="#6abd45"/><stop offset=".125" stop-color="#6bbd45"/><stop offset=".2" stop-color="#84c53f"/><stop offset=".25" stop-color="#aad037"/><stop offset=".312" stop-color="#dfe325"/><stop offset=".338" stop-color="#eee920"/><stop offset=".425" stop-color="#f8e019"/><stop offset=".537" stop-color="#fcb414"/><stop offset=".638" stop-color="#f99f1a"/><stop offset=".875" stop-color="#f68f1d"/><stop offset="1" stop-color="#f68b1e"/></linearGradient><linearGradient id="g88" x2="0" y2="1"><stop offset="0" stop-color="#6cc3a5"/><stop offset=".013" stop-color="#6cc299"/><stop offset=".025" stop-color="#6bbf6b"/><stop offset=".038" stop-color="#6abd45"/><stop offset=".125" stop-color="#6bbd45"/><stop offset=".2" stop-color="#85c53f"/><stop offset=".25" stop-color="#acd036"/><stop offset=".3" stop-color="#d8e128"/><stop offset=".338" stop-color="#efea1f"/><stop offset=".413" stop-color="#f7e31a"/><stop offset=".537" stop-color="#fcb215"/><stop offset=".638" stop-color="#f89d1b"/><stop offset=".888" stop-color="#f68c1e"/><stop offset="1" stop-color="#f6881e"/></linearGradient><linearGradient id="g89" x2="0" y2="1"><stop offset="0" stop-color="#6cc192"/><stop offset=".013" stop-color="#6cc086"/><stop offset=".025" stop-color="#6bbe5d"/><stop offset=".038" stop-color="#6abd45"/><stop offset=".125" stop-color="#6cbd45"/><stop offset=".2" stop-color="#87c63e"/><stop offset=".25" stop-color="#aed136"/><stop offset=".3" stop-color="#dae127"/><stop offset=".338" stop-color="#f0ea1f"/><stop offset=".413" stop-color="#f8e119"/><stop offset=".537" stop-color="#fcb115"/><stop offset=".638" stop-color="#f89b1b"/><stop offset=".913" stop-color="#f6871e"/><stop offset="1" stop-color="#f5851e"/></linearGradient><linearGradient id="g90" x2="0" y2="1"><stop offset="0" stop-color="#6cbf7f"/><stop offset=".013" stop-color="#6bbf75"/><stop offset=".025" stop-color="#6abd4e"/><stop offset=".038" stop-color="#6abd45"/><stop offset=".125" stop-color="#6cbe45"/><stop offset=".2" stop-color="#89c63e"/><stop offset=".25" stop-color="#b0d235"/><stop offset=".3" stop-color="#dce226"/><stop offset=".338" stop-color="#f0ea1f"/><stop offset=".413" stop-color="#f8df19"/><stop offset=".525" stop-color="#fcb315"/><stop offset=".625" stop-color="#f89a1b"/><stop offset=".863" stop-color="#f6861e"/><stop offset="1" stop-color="#f5811f"/></linearGradient><linearGradient id="g91" x2="0" y2="1"><stop offset="0" stop-color="#6bbf6d"/><stop offset=".013" stop-color="#6bbe63"/><stop offset=".025" stop-color="#6abd45"/><stop offset=".125" stop-color="#6cbe45"/><stop offset=".2" stop-color="#8bc73d"/><stop offset=".25" stop-color="#b2d235"/><stop offset=".3" stop-color="#dee326"/><stop offset=".338" stop-color="#f1e91e"/><stop offset=".4" stop-color="#f7e21a"/><stop offset=".525" stop-color="#fcb115"/><stop offset=".625" stop-color="#f7971c"/><stop offset=".875" stop-color="#f5821f"/><stop offset="1" stop-color="#f57e1f"/></linearGradient><linearGradient id="g92" x2="0" y2="1"><stop offset="0" stop-color="#6bbe59"/><stop offset=".025" stop-color="#6abd45"/><stop offset=".125" stop-color="#6cbe45"/><stop offset=".2" stop-color="#8dc73d"/><stop offset=".25" stop-color="#b4d334"/><stop offset=".3" stop-color="#e0e425"/><stop offset=".338" stop-color="#f1e91e"/><stop offset=".388" stop-color="#f7e51a"/><stop offset=".513" stop-color="#fcb315"/><stop offset=".625" stop-color="#f7941d"/><stop offset=".888" stop-color="#f57f1f"/><stop offset="1" stop-color="#f47b1f"/></linearGradient><linearGradient id="g93" x2="0" y2="1"><stop offset="0" stop-color="#6abd45"/><stop offset=".125" stop-color="#6cbe45"/><stop offset=".213" stop-color="#98ca3b"/><stop offset=".3" stop-color="#e2e524"/><stop offset=".325" stop-color="#f0ea1f"/><stop offset=".388" stop-color="#f7e31a"/><stop offset=".513" stop-color="#fcb215"/><stop offset=".613" stop-color="#f7941d"/><stop offset=".8" stop-color="#f5821f"/><stop offset="1" stop-color="#f4791f"/></linearGradient><linearGradient id="g94" x2="0" y2="1"><stop offset="0" stop-color="#6abd45"/><stop offset=".125" stop-color="#6cbd45"/><stop offset=".213" stop-color="#9acb3a"/><stop offset=".3" stop-color="#e5e623"/><stop offset=".338" stop-color="#f2e81d"/><stop offset=".388" stop-color="#f8e019"/><stop offset=".5" stop-color="#fcb414"/><stop offset=".613" stop-color="#f7921d"/><stop offset=".8" stop-color="#f5801f"/><stop offset="1" stop-color="#f47620"/></linearGradient><linearGradient id="g95" x2="0" y2="1"><stop offset="0" stop-color="#6abd45"/><stop offset=".125" stop-color="#6bbd45"/><stop offset=".213" stop-color="#9dcc3a"/><stop offset=".3" stop-color="#e7e722"/><stop offset=".325" stop-color="#f2e91e"/><stop offset=".375" stop-color="#f7e31a"/><stop offset=".5" stop-color="#fcb115"/><stop offset=".6" stop-color="#f7911d"/><stop offset=".775" stop-color="#f57f1f"/><stop offset="1" stop-color="#f47420"/></linearGradient><linearGradient id="g96" x2="0" y2="1"><stop offset="0" stop-color="#6abd45"/><stop offset=".125" stop-color="#6bbd45"/><stop offset=".213" stop-color="#a0cd39"/><stop offset=".3" stop-color="#eae821"/><stop offset=".338" stop-color="#f4e71c"/><stop offset=".363" stop-color="#f7e51a"/><stop offset=".488" stop-color="#fcb315"/><stop offset=".6" stop-color="#f68f1d"/><stop offset=".775" stop-color="#f57d1f"/><stop offset="1" stop-color="#f37120"/></linearGradient><linearGradient id="g97" x2="0" y2="1"><stop offset="0" stop-color="#6abd45"/><stop offset=".125" stop-color="#6bbd45"/><stop offset=".225" stop-color="#add136"/><stop offset=".3" stop-color="#eee920"/><stop offset=".363" stop-color="#f8e119"/><stop offset=".475" stop-color="#fcb414"/><stop offset=".6" stop-color="#f68c1e"/><stop offset=".788" stop-color="#f4791f"/><stop offset="1" stop-color="#f36f20"/></linearGradient><linearGradient id="g98" x2="0" y2="1"><stop offset="0" stop-color="#6abd45"/><stop offset=".125" stop-color="#6cbe45"/><stop offset=".225" stop-color="#b2d235"/><stop offset=".3" stop-color="#f0ea1f"/><stop offset=".35" stop-color="#f7e31a"/><stop offset=".463" stop-color="#fcb414"/><stop offset=".6" stop-color="#f6891e"/><stop offset=".8" stop-color="#f47620"/><stop offset="1" stop-color="#f36d20"/></linearGradient><linearGradient id="g99" x2="0" y2="1"><stop offset="0" stop-color="#6abd45"/><stop offset=".113" stop-color="#6abd45"/><stop offset=".15" stop-color="#7ec340"/><stop offset=".25" stop-color="#cddc2b"/><stop offset=".288" stop-color="#ece820"/><stop offset=".338" stop-color="#f7e51a"/><stop offset=".438" stop-color="#fdb714"/><stop offset=".6" stop-color="#f6861e"/><stop offset=".863" stop-color="#f37020"/><stop offset="1" stop-color="#f36b21"/></linearGradient><linearGradient id="g100" x2="0" y2="1"><stop offset="0" stop-color="#6abd45"/><stop offset=".113" stop-color="#6bbd45"/><stop offset=".163" stop-color="#8cc73d"/><stop offset=".263" stop-color="#dde326"/><stop offset=".288" stop-color="#f0ea1f"/><stop offset=".338" stop-color="#f8e019"/><stop offset=".425" stop-color="#fcb614"/><stop offset=".588" stop-color="#f5851e"/><stop offset=".812" stop-color="#f37120"/><stop offset="1" stop-color="#f26821"/></linearGradient><linearGradient id="g101" x2="0" y2="1"><stop offset="0" stop-color="#6abd45"/><stop offset=".113" stop-color="#6dbe44"/><stop offset=".163" stop-color="#92c93c"/><stop offset=".275" stop-color="#ede920"/><stop offset=".325" stop-color="#f7e219"/><stop offset=".4" stop-color="#fdb813"/><stop offset=".575" stop-color="#f5841e"/><stop offset=".775" stop-color="#f37120"/><stop offset="1" stop-color="#f26521"/></linearGradient><linearGradient id="g102" x2="0" y2="1"><stop offset="0" stop-color="#6abd45"/><stop offset=".1" stop-color="#6cbd45"/><stop offset=".138" stop-color="#81c440"/><stop offset=".263" stop-color="#ebe821"/><stop offset=".3" stop-color="#f6e61b"/><stop offset=".4" stop-color="#fcb215"/><stop offset=".537" stop-color="#f6881e"/><stop offset=".663" stop-color="#f47520"/><stop offset="1" stop-color="#f26221"/></linearGradient><linearGradient id="g103" x2="0" y2="1"><stop offset="0" stop-color="#6abd45"/><stop offset=".088" stop-color="#6bbd45"/><stop offset=".125" stop-color="#7dc341"/><stop offset=".25" stop-color="#eae821"/><stop offset=".288" stop-color="#f6e61b"/><stop offset=".375" stop-color="#fcb414"/><stop offset=".5" stop-color="#f68b1e"/><stop offset=".638" stop-color="#f47320"/><stop offset="1" stop-color="#f15e22"/></linearGradient><linearGradient id="g104" x2="0" y2="1"><stop offset="0" stop-color="#6abd45"/><stop offset=".075" stop-color="#6abd45"/><stop offset=".125" stop-color="#84c53f"/><stop offset=".238" stop-color="#ebe821"/><stop offset=".275" stop-color="#f7e51a"/><stop offset=".35" stop-color="#fcb514"/><stop offset=".463" stop-color="#f68c1e"/><stop offset=".613" stop-color="#f37120"/><stop offset="1" stop-color="#f15822"/></linearGradient><linearGradient id="g105" x2="0" y2="1"><stop offset="0" stop-color="#6abd45"/><stop offset=".075" stop-color="#6dbe44"/><stop offset=".125" stop-color="#8dc73d"/><stop offset=".225" stop-color="#ece820"/><stop offset=".263" stop-color="#f7e31a"/><stop offset=".312" stop-color="#fdbc13"/><stop offset=".438" stop-color="#f68a1e"/><stop offset=".562" stop-color="#f37120"/><stop offset=".763" stop-color="#f26021"/><stop offset="1" stop-color="#f05022"/></linearGradient><linearGradient id="g106" x2="0" y2="1"><stop offset="0" stop-color="#6abd45"/><stop offset=".062" stop-color="#6bbd45"/><stop offset=".125" stop-color="#97ca3b"/><stop offset=".213" stop-color="#ede920"/><stop offset=".238" stop-color="#f5e61b"/><stop offset=".263" stop-color="#f9d317"/><stop offset=".3" stop-color="#fcb514"/><stop offset=".413" stop-color="#f6881e"/><stop offset=".525" stop-color="#f36e20"/><stop offset=".75" stop-color="#f15b22"/><stop offset="1" stop-color="#f04623"/></linearGradient><linearGradient id="g107" x2="0" y2="1"><stop offset="0" stop-color="#6dbe44"/><stop offset=".062" stop-color="#72bf43"/><stop offset=".15" stop-color="#bbd532"/><stop offset=".2" stop-color="#eee920"/><stop offset=".225" stop-color="#f6e61b"/><stop offset=".275" stop-color="#fdb813"/><stop offset=".338" stop-color="#f8971c"/><stop offset=".475" stop-color="#f36d20"/><stop offset=".75" stop-color="#f05122"/><stop offset="1" stop-color="#ef3b23"/></linearGradient><linearGradient id="g108" x2="0" y2="1"><stop offset="0" stop-color="#79c142"/><stop offset=".05" stop-color="#7ec340"/><stop offset=".088" stop-color="#98ca3b"/><stop offset=".163" stop-color="#dae127"/><stop offset=".188" stop-color="#f0ea1f"/><stop offset=".213" stop-color="#f6e51a"/><stop offset=".263" stop-color="#fcb414"/><stop offset=".312" stop-color="#f7951d"/><stop offset=".45" stop-color="#f36921"/><stop offset=".675" stop-color="#f04a23"/><stop offset="1" stop-color="#ee2c24"/></linearGradient><linearGradient id="g109" x2="0" y2="1"><stop offset="0" stop-color="#8ac63e"/><stop offset=".038" stop-color="#91c93c"/><stop offset=".088" stop-color="#b0d235"/><stop offset=".163" stop-color="#eee920"/><stop offset=".2" stop-color="#f8e019"/><stop offset=".238" stop-color="#fdba13"/><stop offset=".3" stop-color="#f68e1e"/><stop offset=".425" stop-color="#f26421"/><stop offset=".575" stop-color="#f04823"/><stop offset=".95" stop-color="#ee2624"/><stop offset="1" stop-color="#ee2424"/></linearGradient><linearGradient id="g110" x2="0" y2="1"><stop offset="0" stop-color="#9ecc39"/><stop offset=".025" stop-color="#a1cd39"/><stop offset=".125" stop-color="#e5e623"/><stop offset=".138" stop-color="#f0ea1f"/><stop offset=".163" stop-color="#f6e61b"/><stop offset=".188" stop-color="#f9d317"/><stop offset=".225" stop-color="#fcb115"/><stop offset=".288" stop-color="#f6861e"/><stop offset=".388" stop-color="#f26221"/><stop offset=".525" stop-color="#ef4123"/><stop offset=".788" stop-color="#ee2824"/><stop offset="1" stop-color="#ed2024"/></linearGradient><linearGradient id="g111" x2="0" y2="1"><stop offset="0" stop-color="#b3d234"/><stop offset=".025" stop-color="#b7d433"/><stop offset=".062" stop-color="#d2de2a"/><stop offset=".113" stop-color="#f0ea1f"/><stop offset=".138" stop-color="#f6e61b"/><stop offset=".188" stop-color="#fcb614"/><stop offset=".275" stop-color="#f57d1f"/><stop offset=".363" stop-color="#f15d22"/><stop offset=".5" stop-color="#ef3823"/><stop offset=".688" stop-color="#ee2624"/><stop offset="1" stop-color="#ed1d24"/></linearGradient><linearGradient id="g112" x2="0" y2="1"><stop offset="0" stop-color="#c7da2d"/><stop offset=".025" stop-color="#cddc2b"/><stop offset=".05" stop-color="#e2e424"/><stop offset=".1" stop-color="#f2e91e"/><stop offset=".125" stop-color="#f7e51a"/><stop offset=".163" stop-color="#fdb714"/><stop offset=".213" stop-color="#f68f1d"/><stop offset=".312" stop-color="#f26121"/><stop offset=".438" stop-color="#ef3b23"/><stop offset=".537" stop-color="#ee2a24"/><stop offset=".85" stop-color="#ed1d24"/><stop offset="1" stop-color="#ed1c24"/></linearGradient><linearGradient id="g113" x2="0" y2="1"><stop offset="0" stop-color="#c9db2d"/><stop offset=".025" stop-color="#cfdd2b"/><stop offset=".05" stop-color="#e4e523"/><stop offset=".1" stop-color="#f2e81d"/><stop offset=".125" stop-color="#f7e31a"/><stop offset=".163" stop-color="#fcb514"/><stop offset=".2" stop-color="#f7941d"/><stop offset=".3" stop-color="#f26521"/><stop offset=".425" stop-color="#ef3d23"/><stop offset=".525" stop-color="#ee2a24"/><stop offset=".838" stop-color="#ed1d24"/><stop offset="1" stop-color="#ed1c24"/></linearGradient><linearGradient id="g114" x2="0" y2="1"><stop offset="0" stop-color="#c9db2d"/><stop offset=".025" stop-color="#cfdd2b"/><stop offset=".05" stop-color="#e4e523"/><stop offset=".1" stop-color="#f2e81d"/><stop offset=".125" stop-color="#f7e31a"/><stop offset=".163" stop-color="#fcb514"/><stop offset=".2" stop-color="#f7941d"/><stop offset=".3" stop-color="#f26521"/><stop offset=".425" stop-color="#ef3d23"/><stop offset=".525" stop-color="#ee2a24"/><stop offset=".838" stop-color="#ed1d24"/><stop offset="1" stop-color="#ed1c24"/></linearGradient>
<clipPath id="hcc"><rect x="180" y="756.2" width="421" height="558.6"/></clipPath>
<filter id="hbc" filterUnits="userSpaceOnUse" x="144" y="751.2" width="493" height="568.6"><feGaussianBlur stdDeviation="3 0"/></filter></defs>
<g clip-path="url(#hcc)"><g filter="url(#hbc)"><rect x="164" y="756.2" width="8.5" height="558.6" fill="url(#g58)"/><rect x="172" y="756.2" width="8.5" height="558.6" fill="url(#g59)"/><rect x="180" y="756.2" width="8.5" height="558.6" fill="url(#g60)"/><rect x="188" y="756.2" width="8.5" height="558.6" fill="url(#g61)"/><rect x="196" y="756.2" width="8.5" height="558.6" fill="url(#g62)"/><rect x="204" y="756.2" width="8.5" height="558.6" fill="url(#g63)"/><rect x="212" y="756.2" width="8.5" height="558.6" fill="url(#g64)"/><rect x="220" y="756.2" width="8.5" height="558.6" fill="url(#g65)"/><rect x="228" y="756.2" width="8.5" height="558.6" fill="url(#g66)"/><rect x="236" y="756.2" width="8.5" height="558.6" fill="url(#g67)"/><rect x="244" y="756.2" width="8.5" height="558.6" fill="url(#g68)"/><rect x="252" y="756.2" width="8.5" height="558.6" fill="url(#g69)"/><rect x="260" y="756.2" width="8.5" height="558.6" fill="url(#g70)"/><rect x="268" y="756.2" width="8.5" height="558.6" fill="url(#g71)"/><rect x="276" y="756.2" width="8.5" height="558.6" fill="url(#g72)"/><rect x="284" y="756.2" width="8.5" height="558.6" fill="url(#g73)"/><rect x="292" y="756.2" width="8.5" height="558.6" fill="url(#g74)"/><rect x="300" y="756.2" width="8.5" height="558.6" fill="url(#g75)"/><rect x="308" y="756.2" width="8.5" height="558.6" fill="url(#g76)"/><rect x="316" y="756.2" width="8.5" height="558.6" fill="url(#g77)"/><rect x="324" y="756.2" width="8.5" height="558.6" fill="url(#g78)"/><rect x="332" y="756.2" width="8.5" height="558.6" fill="url(#g79)"/><rect x="340" y="756.2" width="8.5" height="558.6" fill="url(#g80)"/><rect x="348" y="756.2" width="8.5" height="558.6" fill="url(#g81)"/><rect x="356" y="756.2" width="8.5" height="558.6" fill="url(#g82)"/><rect x="364" y="756.2" width="8.5" height="558.6" fill="url(#g83)"/><rect x="372" y="756.2" width="8.5" height="558.6" fill="url(#g84)"/><rect x="380" y="756.2" width="8.5" height="558.6" fill="url(#g85)"/><rect x="388" y="756.2" width="8.5" height="558.6" fill="url(#g86)"/><rect x="396" y="756.2" width="8.5" height="558.6" fill="url(#g87)"/><rect x="404" y="756.2" width="8.5" height="558.6" fill="url(#g88)"/><rect x="412" y="756.2" width="8.5" height="558.6" fill="url(#g89)"/><rect x="420" y="756.2" width="8.5" height="558.6" fill="url(#g90)"/><rect x="428" y="756.2" width="8.5" height="558.6" fill="url(#g91)"/><rect x="436" y="756.2" width="8.5" height="558.6" fill="url(#g92)"/><rect x="444" y="756.2" width="8.5" height="558.6" fill="url(#g93)"/><rect x="452" y="756.2" width="8.5" height="558.6" fill="url(#g94)"/><rect x="460" y="756.2" width="8.5" height="558.6" fill="url(#g95)"/><rect x="468" y="756.2" width="8.5" height="558.6" fill="url(#g96)"/><rect x="476" y="756.2" width="8.5" height="558.6" fill="url(#g97)"/><rect x="484" y="756.2" width="8.5" height="558.6" fill="url(#g98)"/><rect x="492" y="756.2" width="8.5" height="558.6" fill="url(#g99)"/><rect x="500" y="756.2" width="8.5" height="558.6" fill="url(#g100)"/><rect x="508" y="756.2" width="8.5" height="558.6" fill="url(#g101)"/><rect x="516" y="756.2" width="8.5" height="558.6" fill="url(#g102)"/><rect x="524" y="756.2" width="8.5" height="558.6" fill="url(#g103)"/><rect x="532" y="756.2" width="8.5" height="558.6" fill="url(#g104)"/><rect x="540" y="756.2" width="8.5" height="558.6" fill="url(#g105)"/><rect x="548" y="756.2" width="8.5" height="558.6" fill="url(#g106)"/><rect x="556" y="756.2" width="8.5" height="558.6" fill="url(#g107)"/><rect x="564" y="756.2" width="8.5" height="558.6" fill="url(#g108)"/><rect x="572" y="756.2" width="8.5" height="558.6" fill="url(#g109)"/><rect x="580" y="756.2" width="8.5" height="558.6" fill="url(#g110)"/><rect x="588" y="756.2" width="8.5" height="558.6" fill="url(#g111)"/><rect x="596" y="756.2" width="8.5" height="558.6" fill="url(#g112)"/><rect x="604" y="756.2" width="8.5" height="558.6" fill="url(#g113)"/><rect x="612" y="756.2" width="8.5" height="558.6" fill="url(#g114)"/></g></g>
<path d="M474 756V1315M492 834V1315M496 756V1315M504 855V1315M518 756V1315M532 756V1315M534 756V1315M544 756V1315M550 846V1315M560 756V1315M562 756V1315M572 756V1315M574 756V1315M578 812V1315M580 756V1315M584 894V1315M588 813V1315M594 830V1315M596 833V1315M600 819V1315" stroke="#f7941d" stroke-opacity="0.14" stroke-width="1.6" fill="none"/>
<path d="M493 762V1315M499 756V1315M537 756V1315M543 756V1315M557 756V1315M559 756V1315M563 818V1315M565 759V1315M569 853V1315M571 756V1315M579 756V1315M581 859V1315M583 801V1315M587 781V1315M589 756V1315M597 756V1315M599 756V1315" stroke="#f5eb1b" stroke-opacity="0.14" stroke-width="1.6" fill="none"/>
<rect x="601" y="756.2" width="4.2" height="558.6" fill="#fff"/>
<line x1="497.403" y1="756.2" x2="497.403" y2="1314.8" stroke="#e8452a" stroke-width="1.3"/>
<rect x="179.5" y="756.2" width="425.7" height="558.6" fill="none" stroke="#000" stroke-width="1.6"/>
<line x1="209.5" y1="756.2" x2="209.5" y2="767.2" stroke="#000" stroke-width="1.4"/>
<line x1="209.5" y1="1314.8" x2="209.5" y2="1319.8" stroke="#000" stroke-width="1.4"/>
<line x1="258.9" y1="756.2" x2="258.9" y2="762.2" stroke="#000" stroke-width="1.4"/>
<line x1="258.9" y1="1314.8" x2="258.9" y2="1319.8" stroke="#000" stroke-width="1.4"/>
<line x1="308.3" y1="756.2" x2="308.3" y2="767.2" stroke="#000" stroke-width="1.4"/>
<line x1="308.3" y1="1314.8" x2="308.3" y2="1319.8" stroke="#000" stroke-width="1.4"/>
<line x1="357.7" y1="756.2" x2="357.7" y2="762.2" stroke="#000" stroke-width="1.4"/>
<line x1="357.7" y1="1314.8" x2="357.7" y2="1319.8" stroke="#000" stroke-width="1.4"/>
<line x1="407.1" y1="756.2" x2="407.1" y2="767.2" stroke="#000" stroke-width="1.4"/>
<line x1="407.1" y1="1314.8" x2="407.1" y2="1319.8" stroke="#000" stroke-width="1.4"/>
<line x1="456.5" y1="756.2" x2="456.5" y2="762.2" stroke="#000" stroke-width="1.4"/>
<line x1="456.5" y1="1314.8" x2="456.5" y2="1319.8" stroke="#000" stroke-width="1.4"/>
<line x1="505.9" y1="756.2" x2="505.9" y2="767.2" stroke="#000" stroke-width="1.4"/>
<line x1="505.9" y1="1314.8" x2="505.9" y2="1319.8" stroke="#000" stroke-width="1.4"/>
<line x1="555.3" y1="756.2" x2="555.3" y2="762.2" stroke="#000" stroke-width="1.4"/>
<line x1="555.3" y1="1314.8" x2="555.3" y2="1319.8" stroke="#000" stroke-width="1.4"/>
<line x1="179.5" y1="799.169" x2="183.5" y2="799.169" stroke="#000" stroke-width="1.4"/>
<line x1="605.2" y1="799.169" x2="601.2" y2="799.169" stroke="#000" stroke-width="1.4"/>
<line x1="179.5" y1="842.138" x2="187.5" y2="842.138" stroke="#000" stroke-width="1.4"/>
<line x1="605.2" y1="842.138" x2="597.2" y2="842.138" stroke="#000" stroke-width="1.4"/>
<line x1="179.5" y1="885.108" x2="183.5" y2="885.108" stroke="#000" stroke-width="1.4"/>
<line x1="605.2" y1="885.108" x2="601.2" y2="885.108" stroke="#000" stroke-width="1.4"/>
<line x1="179.5" y1="928.077" x2="187.5" y2="928.077" stroke="#000" stroke-width="1.4"/>
<line x1="605.2" y1="928.077" x2="597.2" y2="928.077" stroke="#000" stroke-width="1.4"/>
<line x1="179.5" y1="971.046" x2="183.5" y2="971.046" stroke="#000" stroke-width="1.4"/>
<line x1="605.2" y1="971.046" x2="601.2" y2="971.046" stroke="#000" stroke-width="1.4"/>
<line x1="179.5" y1="1014.02" x2="187.5" y2="1014.02" stroke="#000" stroke-width="1.4"/>
<line x1="605.2" y1="1014.02" x2="597.2" y2="1014.02" stroke="#000" stroke-width="1.4"/>
<line x1="179.5" y1="1056.98" x2="183.5" y2="1056.98" stroke="#000" stroke-width="1.4"/>
<line x1="605.2" y1="1056.98" x2="601.2" y2="1056.98" stroke="#000" stroke-width="1.4"/>
<line x1="179.5" y1="1099.95" x2="187.5" y2="1099.95" stroke="#000" stroke-width="1.4"/>
<line x1="605.2" y1="1099.95" x2="597.2" y2="1099.95" stroke="#000" stroke-width="1.4"/>
<line x1="179.5" y1="1142.92" x2="183.5" y2="1142.92" stroke="#000" stroke-width="1.4"/>
<line x1="605.2" y1="1142.92" x2="601.2" y2="1142.92" stroke="#000" stroke-width="1.4"/>
<line x1="179.5" y1="1185.89" x2="187.5" y2="1185.89" stroke="#000" stroke-width="1.4"/>
<line x1="605.2" y1="1185.89" x2="597.2" y2="1185.89" stroke="#000" stroke-width="1.4"/>
<line x1="179.5" y1="1228.86" x2="183.5" y2="1228.86" stroke="#000" stroke-width="1.4"/>
<line x1="605.2" y1="1228.86" x2="601.2" y2="1228.86" stroke="#000" stroke-width="1.4"/>
<line x1="179.5" y1="1271.83" x2="187.5" y2="1271.83" stroke="#000" stroke-width="1.4"/>
<line x1="605.2" y1="1271.83" x2="597.2" y2="1271.83" stroke="#000" stroke-width="1.4"/>
<text transform="translate(112.79 776.23) scale(0.9724 1)" font-size="48.01">70</text>
<text transform="translate(112.79 948.11) scale(0.9724 1)" font-size="48.01">50</text>
<text transform="translate(112.79 1119.98) scale(0.9724 1)" font-size="48.01">30</text>
<text transform="translate(112.79 1291.86) scale(0.9724 1)" font-size="48.01">10</text>
<text transform="translate(82.44 1101.96) rotate(-90) scale(1.0925 1)" font-size="78.00" font-style="italic">θ</text>
<text transform="translate(82.38 1043.53) rotate(-90) scale(0.9935 1)" font-size="78.52">(°)</text>
<defs><linearGradient id="g115" x2="0" y2="1"><stop offset="0" stop-color="#ed1d24"/><stop offset=".138" stop-color="#f04723"/><stop offset=".325" stop-color="#f26421"/><stop offset="1" stop-color="#faa618"/></linearGradient><linearGradient id="g116" x2="0" y2="1"><stop offset="0" stop-color="#ed1d24"/><stop offset=".138" stop-color="#f04723"/><stop offset=".325" stop-color="#f26421"/><stop offset="1" stop-color="#faa618"/></linearGradient><linearGradient id="g117" x2="0" y2="1"><stop offset="0" stop-color="#ed1e24"/><stop offset=".125" stop-color="#f04623"/><stop offset=".312" stop-color="#f26321"/><stop offset="1" stop-color="#faa618"/></linearGradient><linearGradient id="g118" x2="0" y2="1"><stop offset="0" stop-color="#ed2124"/><stop offset=".125" stop-color="#f04a23"/><stop offset=".325" stop-color="#f26721"/><stop offset=".988" stop-color="#faa618"/><stop offset="1" stop-color="#faa718"/></linearGradient><linearGradient id="g119" x2="0" y2="1"><stop offset="0" stop-color="#ee2424"/><stop offset=".113" stop-color="#f04c23"/><stop offset=".312" stop-color="#f36921"/><stop offset=".988" stop-color="#faa718"/><stop offset="1" stop-color="#faa718"/></linearGradient><linearGradient id="g120" x2="0" y2="1"><stop offset="0" stop-color="#ee2624"/><stop offset=".113" stop-color="#f05022"/><stop offset=".338" stop-color="#f36d20"/><stop offset=".988" stop-color="#faa818"/><stop offset="1" stop-color="#faa818"/></linearGradient><linearGradient id="g121" x2="0" y2="1"><stop offset="0" stop-color="#ee2924"/><stop offset=".1" stop-color="#f05222"/><stop offset=".3" stop-color="#f36d20"/><stop offset=".988" stop-color="#faa917"/><stop offset="1" stop-color="#faa917"/></linearGradient><linearGradient id="g122" x2="0" y2="1"><stop offset="0" stop-color="#ee2e24"/><stop offset=".1" stop-color="#f15622"/><stop offset=".338" stop-color="#f47220"/><stop offset=".988" stop-color="#fbaa17"/><stop offset="1" stop-color="#fbaa17"/></linearGradient><linearGradient id="g123" x2="0" y2="1"><stop offset="0" stop-color="#ef3424"/><stop offset=".1" stop-color="#f15a22"/><stop offset=".35" stop-color="#f47620"/><stop offset=".988" stop-color="#fbac17"/><stop offset="1" stop-color="#fbac17"/></linearGradient><linearGradient id="g124" x2="0" y2="1"><stop offset="0" stop-color="#ef3923"/><stop offset=".088" stop-color="#f15b22"/><stop offset=".35" stop-color="#f4781f"/><stop offset=".975" stop-color="#fbad16"/><stop offset="1" stop-color="#fbae16"/></linearGradient><linearGradient id="g125" x2="0" y2="1"><stop offset="0" stop-color="#ef3f23"/><stop offset=".088" stop-color="#f15e22"/><stop offset=".35" stop-color="#f47b1f"/><stop offset=".963" stop-color="#fbaf16"/><stop offset="1" stop-color="#fbb016"/></linearGradient><linearGradient id="g126" x2="0" y2="1"><stop offset="0" stop-color="#f04423"/><stop offset=".075" stop-color="#f15f22"/><stop offset=".35" stop-color="#f57e1f"/><stop offset=".938" stop-color="#fcb015"/><stop offset="1" stop-color="#fcb215"/></linearGradient><linearGradient id="g127" x2="0" y2="1"><stop offset="0" stop-color="#f04923"/><stop offset=".075" stop-color="#f26221"/><stop offset=".363" stop-color="#f5821f"/><stop offset=".888" stop-color="#fcb115"/><stop offset="1" stop-color="#fdb713"/></linearGradient><linearGradient id="g128" x2="0" y2="1"><stop offset="0" stop-color="#f04f22"/><stop offset=".088" stop-color="#f26721"/><stop offset=".75" stop-color="#fbad16"/><stop offset="1" stop-color="#fcc214"/></linearGradient><linearGradient id="g129" x2="0" y2="1"><stop offset="0" stop-color="#f15422"/><stop offset=".113" stop-color="#f36e20"/><stop offset=".9" stop-color="#fcc214"/><stop offset="1" stop-color="#face16"/></linearGradient><linearGradient id="g130" x2="0" y2="1"><stop offset="0" stop-color="#f15922"/><stop offset=".138" stop-color="#f47320"/><stop offset=".625" stop-color="#fbaa17"/><stop offset=".838" stop-color="#fbc715"/><stop offset="1" stop-color="#f8da18"/></linearGradient><linearGradient id="g131" x2="0" y2="1"><stop offset="0" stop-color="#f15d22"/><stop offset=".138" stop-color="#f47620"/><stop offset=".562" stop-color="#faa818"/><stop offset=".75" stop-color="#fbc515"/><stop offset="1" stop-color="#f7e51a"/></linearGradient><linearGradient id="g132" x2="0" y2="1"><stop offset="0" stop-color="#f26121"/><stop offset=".15" stop-color="#f47a1f"/><stop offset=".525" stop-color="#faa818"/><stop offset=".688" stop-color="#fbc515"/><stop offset=".888" stop-color="#f7e51a"/><stop offset="1" stop-color="#f4e71c"/></linearGradient><linearGradient id="g133" x2="0" y2="1"><stop offset="0" stop-color="#f26421"/><stop offset=".163" stop-color="#f57d1f"/><stop offset=".488" stop-color="#faa718"/><stop offset=".638" stop-color="#fbc415"/><stop offset=".8" stop-color="#f7e51a"/><stop offset="1" stop-color="#f3e81d"/></linearGradient><linearGradient id="g134" x2="0" y2="1"><stop offset="0" stop-color="#f26721"/><stop offset=".175" stop-color="#f5811f"/><stop offset=".463" stop-color="#faa917"/><stop offset=".6" stop-color="#fbc615"/><stop offset=".738" stop-color="#f7e51a"/><stop offset="1" stop-color="#f2e81d"/></linearGradient><linearGradient id="g135" x2="0" y2="1"><stop offset="0" stop-color="#f36a21"/><stop offset=".425" stop-color="#faa818"/><stop offset=".55" stop-color="#fcc315"/><stop offset=".675" stop-color="#f7e51a"/><stop offset="1" stop-color="#f2e91e"/></linearGradient><linearGradient id="g136" x2="0" y2="1"><stop offset="0" stop-color="#f36d20"/><stop offset=".388" stop-color="#faa618"/><stop offset=".513" stop-color="#fcc315"/><stop offset=".638" stop-color="#f7e51a"/><stop offset="1" stop-color="#f2e91e"/></linearGradient><linearGradient id="g137" x2="0" y2="1"><stop offset="0" stop-color="#f37120"/><stop offset=".35" stop-color="#faa419"/><stop offset=".475" stop-color="#fcc214"/><stop offset=".588" stop-color="#f7e51a"/><stop offset="1" stop-color="#f1e91e"/></linearGradient><linearGradient id="g138" x2="0" y2="1"><stop offset="0" stop-color="#f47420"/><stop offset=".312" stop-color="#f9a219"/><stop offset=".438" stop-color="#fcc014"/><stop offset=".55" stop-color="#f7e51a"/><stop offset="1" stop-color="#f1e91e"/></linearGradient><linearGradient id="g139" x2="0" y2="1"><stop offset="0" stop-color="#f47720"/><stop offset=".288" stop-color="#f9a219"/><stop offset=".413" stop-color="#fcc214"/><stop offset=".513" stop-color="#f7e51a"/><stop offset=".988" stop-color="#f1ea1f"/><stop offset="1" stop-color="#f1ea1f"/></linearGradient><linearGradient id="g140" x2="0" y2="1"><stop offset="0" stop-color="#f47a1f"/><stop offset=".263" stop-color="#f9a219"/><stop offset=".388" stop-color="#fcc415"/><stop offset=".475" stop-color="#f7e51a"/><stop offset="1" stop-color="#f0ea1f"/></linearGradient><linearGradient id="g141" x2="0" y2="1"><stop offset="0" stop-color="#f57d1f"/><stop offset=".25" stop-color="#faa519"/><stop offset=".35" stop-color="#fcc114"/><stop offset=".45" stop-color="#f7e51a"/><stop offset="1" stop-color="#eee920"/></linearGradient><linearGradient id="g142" x2="0" y2="1"><stop offset="0" stop-color="#f5801f"/><stop offset=".225" stop-color="#faa419"/><stop offset=".325" stop-color="#fcc114"/><stop offset=".413" stop-color="#f7e41a"/><stop offset=".75" stop-color="#f1ea1f"/><stop offset="1" stop-color="#ebe821"/></linearGradient><linearGradient id="g143" x2="0" y2="1"><stop offset="0" stop-color="#f5831e"/><stop offset=".213" stop-color="#faa718"/><stop offset=".312" stop-color="#fbc615"/><stop offset=".375" stop-color="#f7e41a"/><stop offset=".763" stop-color="#f0ea1f"/><stop offset="1" stop-color="#e7e722"/></linearGradient><linearGradient id="g144" x2="0" y2="1"><stop offset="0" stop-color="#f6861e"/><stop offset=".2" stop-color="#faa917"/><stop offset=".288" stop-color="#fbc715"/><stop offset=".363" stop-color="#f6e61b"/><stop offset=".838" stop-color="#eae821"/><stop offset="1" stop-color="#e3e523"/></linearGradient><linearGradient id="g145" x2="0" y2="1"><stop offset="0" stop-color="#f68a1e"/><stop offset=".188" stop-color="#fbac17"/><stop offset=".25" stop-color="#fcc114"/><stop offset=".338" stop-color="#f7e51a"/><stop offset=".75" stop-color="#ebe821"/><stop offset="1" stop-color="#dfe325"/></linearGradient><linearGradient id="g146" x2="0" y2="1"><stop offset="0" stop-color="#f68d1e"/><stop offset=".175" stop-color="#fbaf16"/><stop offset=".225" stop-color="#fcc014"/><stop offset=".3" stop-color="#f7e31a"/><stop offset=".575" stop-color="#efea1f"/><stop offset="1" stop-color="#dbe227"/></linearGradient><linearGradient id="g147" x2="0" y2="1"><stop offset="0" stop-color="#f7911d"/><stop offset=".163" stop-color="#fcb215"/><stop offset=".225" stop-color="#fbcb16"/><stop offset=".275" stop-color="#f7e51a"/><stop offset=".613" stop-color="#eae821"/><stop offset="1" stop-color="#d6e028"/></linearGradient><linearGradient id="g148" x2="0" y2="1"><stop offset="0" stop-color="#f7951d"/><stop offset=".15" stop-color="#fcb614"/><stop offset=".263" stop-color="#f6e61b"/><stop offset=".55" stop-color="#eae821"/><stop offset="1" stop-color="#d1de2a"/></linearGradient><linearGradient id="g149" x2="0" y2="1"><stop offset="0" stop-color="#f8991c"/><stop offset=".125" stop-color="#fcb514"/><stop offset=".238" stop-color="#f7e51a"/><stop offset=".488" stop-color="#ebe821"/><stop offset="1" stop-color="#cadb2c"/></linearGradient><linearGradient id="g150" x2="0" y2="1"><stop offset="0" stop-color="#f99e1a"/><stop offset=".113" stop-color="#fdb813"/><stop offset=".213" stop-color="#f7e51a"/><stop offset=".425" stop-color="#ebe821"/><stop offset="1" stop-color="#c3d92f"/></linearGradient><linearGradient id="g151" x2="0" y2="1"><stop offset="0" stop-color="#f9a219"/><stop offset=".1" stop-color="#fdbc14"/><stop offset=".188" stop-color="#f6e51a"/><stop offset=".375" stop-color="#ebe821"/><stop offset=".888" stop-color="#c5d92e"/><stop offset="1" stop-color="#bbd532"/></linearGradient><linearGradient id="g152" x2="0" y2="1"><stop offset="0" stop-color="#faa818"/><stop offset=".088" stop-color="#fcc214"/><stop offset=".163" stop-color="#f7e51a"/><stop offset=".325" stop-color="#ebe821"/><stop offset=".875" stop-color="#bfd730"/><stop offset="1" stop-color="#b4d334"/></linearGradient><linearGradient id="g153" x2="0" y2="1"><stop offset="0" stop-color="#fbad16"/><stop offset=".075" stop-color="#fbc815"/><stop offset=".15" stop-color="#f6e61b"/><stop offset=".275" stop-color="#ebe821"/><stop offset=".513" stop-color="#d4df29"/><stop offset=".85" stop-color="#bbd532"/><stop offset="1" stop-color="#afd135"/></linearGradient><linearGradient id="g154" x2="0" y2="1"><stop offset="0" stop-color="#fcb414"/><stop offset=".113" stop-color="#f7e31a"/><stop offset=".238" stop-color="#ebe821"/><stop offset=".375" stop-color="#d8e128"/><stop offset="1" stop-color="#aad036"/></linearGradient><linearGradient id="g155" x2="0" y2="1"><stop offset="0" stop-color="#fdbc13"/><stop offset=".088" stop-color="#f7e51a"/><stop offset=".213" stop-color="#ebe821"/><stop offset=".312" stop-color="#d6e028"/><stop offset=".975" stop-color="#a7cf37"/><stop offset="1" stop-color="#a6cf37"/></linearGradient><linearGradient id="g156" x2="0" y2="1"><stop offset="0" stop-color="#fbc615"/><stop offset=".062" stop-color="#f7e41a"/><stop offset=".175" stop-color="#ebe821"/><stop offset=".312" stop-color="#cfdd2b"/><stop offset=".95" stop-color="#a3ce38"/><stop offset="1" stop-color="#a3ce38"/></linearGradient><linearGradient id="g157" x2="0" y2="1"><stop offset="0" stop-color="#fad117"/><stop offset=".05" stop-color="#f7e51a"/><stop offset=".138" stop-color="#ece920"/><stop offset=".263" stop-color="#cfdd2b"/><stop offset=".575" stop-color="#b4d334"/><stop offset=".938" stop-color="#9fcc39"/><stop offset="1" stop-color="#9fcd39"/></linearGradient><linearGradient id="g158" x2="0" y2="1"><stop offset="0" stop-color="#f8dd19"/><stop offset=".05" stop-color="#f5e61b"/><stop offset=".125" stop-color="#ebe821"/><stop offset=".213" stop-color="#cfdd2b"/><stop offset=".463" stop-color="#b4d334"/><stop offset=".938" stop-color="#9acb3a"/><stop offset="1" stop-color="#9ccc3a"/></linearGradient><linearGradient id="g159" x2="0" y2="1"><stop offset="0" stop-color="#f6e61b"/><stop offset=".1" stop-color="#eee920"/><stop offset=".2" stop-color="#cbdb2c"/><stop offset=".4" stop-color="#b4d334"/><stop offset=".913" stop-color="#95ca3b"/><stop offset="1" stop-color="#99cb3a"/></linearGradient><linearGradient id="g160" x2="0" y2="1"><stop offset="0" stop-color="#f4e71c"/><stop offset=".075" stop-color="#ebe821"/><stop offset=".213" stop-color="#c3d82f"/><stop offset=".425" stop-color="#b0d235"/><stop offset=".875" stop-color="#91c93c"/><stop offset="1" stop-color="#97ca3b"/></linearGradient><linearGradient id="g161" x2="0" y2="1"><stop offset="0" stop-color="#f2e81d"/><stop offset=".038" stop-color="#ece820"/><stop offset=".188" stop-color="#c2d82f"/><stop offset=".363" stop-color="#b3d235"/><stop offset=".838" stop-color="#8fc83d"/><stop offset=".988" stop-color="#94c93c"/><stop offset="1" stop-color="#95ca3b"/></linearGradient><linearGradient id="g162" x2="0" y2="1"><stop offset="0" stop-color="#f1e91e"/><stop offset=".125" stop-color="#c9db2d"/><stop offset=".238" stop-color="#b9d433"/><stop offset=".525" stop-color="#a6cf37"/><stop offset=".812" stop-color="#8dc73d"/><stop offset=".963" stop-color="#90c83c"/><stop offset="1" stop-color="#94c93c"/></linearGradient><linearGradient id="g163" x2="0" y2="1"><stop offset="0" stop-color="#f1ea1f"/><stop offset=".1" stop-color="#c9db2d"/><stop offset=".213" stop-color="#b8d433"/><stop offset=".5" stop-color="#a9cf37"/><stop offset=".8" stop-color="#8cc73d"/><stop offset=".963" stop-color="#90c83c"/><stop offset="1" stop-color="#94c93c"/></linearGradient><linearGradient id="g164" x2="0" y2="1"><stop offset="0" stop-color="#ede920"/><stop offset=".088" stop-color="#c7da2e"/><stop offset=".2" stop-color="#b7d433"/><stop offset=".475" stop-color="#abd036"/><stop offset=".788" stop-color="#8dc73d"/><stop offset=".963" stop-color="#91c93c"/><stop offset="1" stop-color="#95ca3b"/></linearGradient><linearGradient id="g165" x2="0" y2="1"><stop offset="0" stop-color="#e4e523"/><stop offset=".088" stop-color="#c2d82f"/><stop offset=".2" stop-color="#b5d334"/><stop offset=".425" stop-color="#afd135"/><stop offset=".75" stop-color="#91c93c"/><stop offset=".938" stop-color="#93c93c"/><stop offset="1" stop-color="#99cb3a"/></linearGradient><linearGradient id="g166" x2="0" y2="1"><stop offset="0" stop-color="#dae127"/><stop offset=".088" stop-color="#bdd631"/><stop offset=".213" stop-color="#b3d334"/><stop offset=".4" stop-color="#b1d235"/><stop offset=".688" stop-color="#98ca3b"/><stop offset=".863" stop-color="#95ca3b"/><stop offset="1" stop-color="#9ecc39"/></linearGradient><linearGradient id="g167" x2="0" y2="1"><stop offset="0" stop-color="#d2de2a"/><stop offset=".088" stop-color="#bad532"/><stop offset=".225" stop-color="#b3d235"/><stop offset=".388" stop-color="#b2d235"/><stop offset=".65" stop-color="#9ccc3a"/><stop offset=".863" stop-color="#9bcb3a"/><stop offset="1" stop-color="#a4ce38"/></linearGradient><linearGradient id="g168" x2="0" y2="1"><stop offset="0" stop-color="#d0dd2a"/><stop offset=".088" stop-color="#b8d433"/><stop offset=".238" stop-color="#b2d235"/><stop offset=".388" stop-color="#b2d235"/><stop offset=".625" stop-color="#9ecc39"/><stop offset=".863" stop-color="#a3ce38"/><stop offset="1" stop-color="#acd036"/></linearGradient><linearGradient id="g169" x2="0" y2="1"><stop offset="0" stop-color="#cfdd2b"/><stop offset=".088" stop-color="#b7d433"/><stop offset=".238" stop-color="#b2d235"/><stop offset=".375" stop-color="#b2d235"/><stop offset=".625" stop-color="#a0cd39"/><stop offset="1" stop-color="#b2d235"/></linearGradient><linearGradient id="g170" x2="0" y2="1"><stop offset="0" stop-color="#cfdd2b"/><stop offset=".088" stop-color="#b7d433"/><stop offset=".238" stop-color="#b2d235"/><stop offset=".375" stop-color="#b2d235"/><stop offset=".625" stop-color="#a0cd39"/><stop offset="1" stop-color="#b3d235"/></linearGradient><linearGradient id="g171" x2="0" y2="1"><stop offset="0" stop-color="#cfdd2b"/><stop offset=".088" stop-color="#b7d433"/><stop offset=".238" stop-color="#b2d235"/><stop offset=".375" stop-color="#b2d235"/><stop offset=".625" stop-color="#a0cd39"/><stop offset="1" stop-color="#b3d235"/></linearGradient>
<clipPath id="hce"><rect x="179" y="1412" width="421" height="558.7"/></clipPath>
<filter id="hbe" filterUnits="userSpaceOnUse" x="143" y="1407" width="493" height="568.7"><feGaussianBlur stdDeviation="3 0"/></filter></defs>
<g clip-path="url(#hce)"><g filter="url(#hbe)"><rect x="163" y="1412" width="8.5" height="558.7" fill="url(#g115)"/><rect x="171" y="1412" width="8.5" height="558.7" fill="url(#g116)"/><rect x="179" y="1412" width="8.5" height="558.7" fill="url(#g117)"/><rect x="187" y="1412" width="8.5" height="558.7" fill="url(#g118)"/><rect x="195" y="1412" width="8.5" height="558.7" fill="url(#g119)"/><rect x="203" y="1412" width="8.5" height="558.7" fill="url(#g120)"/><rect x="211" y="1412" width="8.5" height="558.7" fill="url(#g121)"/><rect x="219" y="1412" width="8.5" height="558.7" fill="url(#g122)"/><rect x="227" y="1412" width="8.5" height="558.7" fill="url(#g123)"/><rect x="235" y="1412" width="8.5" height="558.7" fill="url(#g124)"/><rect x="243" y="1412" width="8.5" height="558.7" fill="url(#g125)"/><rect x="251" y="1412" width="8.5" height="558.7" fill="url(#g126)"/><rect x="259" y="1412" width="8.5" height="558.7" fill="url(#g127)"/><rect x="267" y="1412" width="8.5" height="558.7" fill="url(#g128)"/><rect x="275" y="1412" width="8.5" height="558.7" fill="url(#g129)"/><rect x="283" y="1412" width="8.5" height="558.7" fill="url(#g130)"/><rect x="291" y="1412" width="8.5" height="558.7" fill="url(#g131)"/><rect x="299" y="1412" width="8.5" height="558.7" fill="url(#g132)"/><rect x="307" y="1412" width="8.5" height="558.7" fill="url(#g133)"/><rect x="315" y="1412" width="8.5" height="558.7" fill="url(#g134)"/><rect x="323" y="1412" width="8.5" height="558.7" fill="url(#g135)"/><rect x="331" y="1412" width="8.5" height="558.7" fill="url(#g136)"/><rect x="339" y="1412" width="8.5" height="558.7" fill="url(#g137)"/><rect x="347" y="1412" width="8.5" height="558.7" fill="url(#g138)"/><rect x="355" y="1412" width="8.5" height="558.7" fill="url(#g139)"/><rect x="363" y="1412" width="8.5" height="558.7" fill="url(#g140)"/><rect x="371" y="1412" width="8.5" height="558.7" fill="url(#g141)"/><rect x="379" y="1412" width="8.5" height="558.7" fill="url(#g142)"/><rect x="387" y="1412" width="8.5" height="558.7" fill="url(#g143)"/><rect x="395" y="1412" width="8.5" height="558.7" fill="url(#g144)"/><rect x="403" y="1412" width="8.5" height="558.7" fill="url(#g145)"/><rect x="411" y="1412" width="8.5" height="558.7" fill="url(#g146)"/><rect x="419" y="1412" width="8.5" height="558.7" fill="url(#g147)"/><rect x="427" y="1412" width="8.5" height="558.7" fill="url(#g148)"/><rect x="435" y="1412" width="8.5" height="558.7" fill="url(#g149)"/><rect x="443" y="1412" width="8.5" height="558.7" fill="url(#g150)"/><rect x="451" y="1412" width="8.5" height="558.7" fill="url(#g151)"/><rect x="459" y="1412" width="8.5" height="558.7" fill="url(#g152)"/><rect x="467" y="1412" width="8.5" height="558.7" fill="url(#g153)"/><rect x="475" y="1412" width="8.5" height="558.7" fill="url(#g154)"/><rect x="483" y="1412" width="8.5" height="558.7" fill="url(#g155)"/><rect x="491" y="1412" width="8.5" height="558.7" fill="url(#g156)"/><rect x="499" y="1412" width="8.5" height="558.7" fill="url(#g157)"/><rect x="507" y="1412" width="8.5" height="558.7" fill="url(#g158)"/><rect x="515" y="1412" width="8.5" height="558.7" fill="url(#g159)"/><rect x="523" y="1412" width="8.5" height="558.7" fill="url(#g160)"/><rect x="531" y="1412" width="8.5" height="558.7" fill="url(#g161)"/><rect x="539" y="1412" width="8.5" height="558.7" fill="url(#g162)"/><rect x="547" y="1412" width="8.5" height="558.7" fill="url(#g163)"/><rect x="555" y="1412" width="8.5" height="558.7" fill="url(#g164)"/><rect x="563" y="1412" width="8.5" height="558.7" fill="url(#g165)"/><rect x="571" y="1412" width="8.5" height="558.7" fill="url(#g166)"/><rect x="579" y="1412" width="8.5" height="558.7" fill="url(#g167)"/><rect x="587" y="1412" width="8.5" height="558.7" fill="url(#g168)"/><rect x="595" y="1412" width="8.5" height="558.7" fill="url(#g169)"/><rect x="603" y="1412" width="8.5" height="558.7" fill="url(#g170)"/><rect x="611" y="1412" width="8.5" height="558.7" fill="url(#g171)"/></g></g>
<path d="M473 1412V1971M491 1490V1971M495 1412V1971M503 1511V1971M517 1412V1971M531 1412V1971M533 1412V1971M543 1412V1971M549 1502V1971M559 1412V1971M561 1412V1971M571 1412V1971M573 1412V1971M577 1468V1971M579 1412V1971M583 1550V1971M587 1469V1971M593 1486V1971M595 1489V1971M599 1474V1971" stroke="#6abd45" stroke-opacity="0.2" stroke-width="1.6" fill="none"/>
<path d="M492 1417V1971M498 1412V1971M536 1412V1971M542 1412V1971M556 1412V1971M558 1412V1971M562 1474V1971M564 1414V1971M568 1508V1971M570 1412V1971M578 1412V1971M580 1514V1971M582 1457V1971M586 1437V1971M588 1412V1971M596 1412V1971M598 1412V1971" stroke="#f5eb1b" stroke-opacity="0.2" stroke-width="1.6" fill="none"/>
<rect x="600" y="1412" width="4.5" height="558.7" fill="#fff"/>
<line x1="496.603" y1="1412" x2="496.603" y2="1970.7" stroke="#b5652a" stroke-width="1.3"/>
<rect x="178.7" y="1412" width="425.8" height="558.7" fill="none" stroke="#000" stroke-width="1.6"/>
<line x1="208.7" y1="1412" x2="208.7" y2="1423" stroke="#000" stroke-width="1.4"/>
<line x1="208.7" y1="1970.7" x2="208.7" y2="1959.7" stroke="#000" stroke-width="1.4"/>
<line x1="258.1" y1="1412" x2="258.1" y2="1418" stroke="#000" stroke-width="1.4"/>
<line x1="258.1" y1="1970.7" x2="258.1" y2="1964.7" stroke="#000" stroke-width="1.4"/>
<line x1="307.5" y1="1412" x2="307.5" y2="1423" stroke="#000" stroke-width="1.4"/>
<line x1="307.5" y1="1970.7" x2="307.5" y2="1959.7" stroke="#000" stroke-width="1.4"/>
<line x1="356.9" y1="1412" x2="356.9" y2="1418" stroke="#000" stroke-width="1.4"/>
<line x1="356.9" y1="1970.7" x2="356.9" y2="1964.7" stroke="#000" stroke-width="1.4"/>
<line x1="406.3" y1="1412" x2="406.3" y2="1423" stroke="#000" stroke-width="1.4"/>
<line x1="406.3" y1="1970.7" x2="406.3" y2="1959.7" stroke="#000" stroke-width="1.4"/>
<line x1="455.7" y1="1412" x2="455.7" y2="1418" stroke="#000" stroke-width="1.4"/>
<line x1="455.7" y1="1970.7" x2="455.7" y2="1964.7" stroke="#000" stroke-width="1.4"/>
<line x1="505.1" y1="1412" x2="505.1" y2="1423" stroke="#000" stroke-width="1.4"/>
<line x1="505.1" y1="1970.7" x2="505.1" y2="1959.7" stroke="#000" stroke-width="1.4"/>
<line x1="554.5" y1="1412" x2="554.5" y2="1418" stroke="#000" stroke-width="1.4"/>
<line x1="554.5" y1="1970.7" x2="554.5" y2="1964.7" stroke="#000" stroke-width="1.4"/>
<line x1="178.7" y1="1454.98" x2="182.7" y2="1454.98" stroke="#000" stroke-width="1.4"/>
<line x1="604.5" y1="1454.98" x2="600.5" y2="1454.98" stroke="#000" stroke-width="1.4"/>
<line x1="178.7" y1="1497.95" x2="186.7" y2="1497.95" stroke="#000" stroke-width="1.4"/>
<line x1="604.5" y1="1497.95" x2="596.5" y2="1497.95" stroke="#000" stroke-width="1.4"/>
<line x1="178.7" y1="1540.93" x2="182.7" y2="1540.93" stroke="#000" stroke-width="1.4"/>
<line x1="604.5" y1="1540.93" x2="600.5" y2="1540.93" stroke="#000" stroke-width="1.4"/>
<line x1="178.7" y1="1583.91" x2="186.7" y2="1583.91" stroke="#000" stroke-width="1.4"/>
<line x1="604.5" y1="1583.91" x2="596.5" y2="1583.91" stroke="#000" stroke-width="1.4"/>
<line x1="178.7" y1="1626.88" x2="182.7" y2="1626.88" stroke="#000" stroke-width="1.4"/>
<line x1="604.5" y1="1626.88" x2="600.5" y2="1626.88" stroke="#000" stroke-width="1.4"/>
<line x1="178.7" y1="1669.86" x2="186.7" y2="1669.86" stroke="#000" stroke-width="1.4"/>
<line x1="604.5" y1="1669.86" x2="596.5" y2="1669.86" stroke="#000" stroke-width="1.4"/>
<line x1="178.7" y1="1712.84" x2="182.7" y2="1712.84" stroke="#000" stroke-width="1.4"/>
<line x1="604.5" y1="1712.84" x2="600.5" y2="1712.84" stroke="#000" stroke-width="1.4"/>
<line x1="178.7" y1="1755.82" x2="186.7" y2="1755.82" stroke="#000" stroke-width="1.4"/>
<line x1="604.5" y1="1755.82" x2="596.5" y2="1755.82" stroke="#000" stroke-width="1.4"/>
<line x1="178.7" y1="1798.79" x2="182.7" y2="1798.79" stroke="#000" stroke-width="1.4"/>
<line x1="604.5" y1="1798.79" x2="600.5" y2="1798.79" stroke="#000" stroke-width="1.4"/>
<line x1="178.7" y1="1841.77" x2="186.7" y2="1841.77" stroke="#000" stroke-width="1.4"/>
<line x1="604.5" y1="1841.77" x2="596.5" y2="1841.77" stroke="#000" stroke-width="1.4"/>
<line x1="178.7" y1="1884.75" x2="182.7" y2="1884.75" stroke="#000" stroke-width="1.4"/>
<line x1="604.5" y1="1884.75" x2="600.5" y2="1884.75" stroke="#000" stroke-width="1.4"/>
<line x1="178.7" y1="1927.72" x2="186.7" y2="1927.72" stroke="#000" stroke-width="1.4"/>
<line x1="604.5" y1="1927.72" x2="596.5" y2="1927.72" stroke="#000" stroke-width="1.4"/>
<text transform="translate(112.79 1439.63) scale(0.9724 1)" font-size="48.01">70</text>
<text transform="translate(112.79 1611.54) scale(0.9724 1)" font-size="48.01">50</text>
<text transform="translate(112.79 1783.45) scale(0.9724 1)" font-size="48.01">30</text>
<text transform="translate(112.79 1955.35) scale(0.9724 1)" font-size="48.01">10</text>
<text transform="translate(82.44 1740.16) rotate(-90) scale(1.0925 1)" font-size="78.00" font-style="italic">θ</text>
<text transform="translate(82.38 1681.73) rotate(-90) scale(0.9935 1)" font-size="78.52">(°)</text>
<defs><linearGradient id="g172" x2="0" y2="1"><stop offset="0" stop-color="#fbc916"/><stop offset=".413" stop-color="#fcb115"/><stop offset="1" stop-color="#fbae16"/></linearGradient><linearGradient id="g173" x2="0" y2="1"><stop offset="0" stop-color="#fbc916"/><stop offset=".413" stop-color="#fcb115"/><stop offset="1" stop-color="#fbae16"/></linearGradient><linearGradient id="g174" x2="0" y2="1"><stop offset="0" stop-color="#fbc615"/><stop offset=".438" stop-color="#fcb115"/><stop offset="1" stop-color="#fbad16"/></linearGradient><linearGradient id="g175" x2="0" y2="1"><stop offset="0" stop-color="#fdbc13"/><stop offset=".675" stop-color="#fbab17"/><stop offset="1" stop-color="#fbac16"/></linearGradient><linearGradient id="g176" x2="0" y2="1"><stop offset="0" stop-color="#fcb215"/><stop offset=".988" stop-color="#fbaa17"/><stop offset="1" stop-color="#fbaa17"/></linearGradient><linearGradient id="g177" x2="0" y2="1"><stop offset="0" stop-color="#faa917"/><stop offset=".263" stop-color="#fbad16"/><stop offset="1" stop-color="#faa718"/></linearGradient><linearGradient id="g178" x2="0" y2="1"><stop offset="0" stop-color="#f9a01a"/><stop offset=".2" stop-color="#fbac17"/><stop offset=".825" stop-color="#faa618"/><stop offset="1" stop-color="#faa419"/></linearGradient><linearGradient id="g179" x2="0" y2="1"><stop offset="0" stop-color="#f89d1b"/><stop offset=".175" stop-color="#fbaa17"/><stop offset=".788" stop-color="#faa718"/><stop offset="1" stop-color="#f9a319"/></linearGradient><linearGradient id="g180" x2="0" y2="1"><stop offset="0" stop-color="#f99e1a"/><stop offset=".163" stop-color="#fbaa17"/><stop offset=".763" stop-color="#faa818"/><stop offset="1" stop-color="#f9a319"/></linearGradient><linearGradient id="g181" x2="0" y2="1"><stop offset="0" stop-color="#f9a219"/><stop offset=".163" stop-color="#fbaa17"/><stop offset=".688" stop-color="#fbab17"/><stop offset="1" stop-color="#f9a319"/></linearGradient><linearGradient id="g182" x2="0" y2="1"><stop offset="0" stop-color="#faa817"/><stop offset=".312" stop-color="#fcb115"/><stop offset=".725" stop-color="#fbaa17"/><stop offset="1" stop-color="#faa519"/></linearGradient><linearGradient id="g183" x2="0" y2="1"><stop offset="0" stop-color="#fcb315"/><stop offset=".5" stop-color="#fdb614"/><stop offset=".95" stop-color="#faa917"/><stop offset="1" stop-color="#faa917"/></linearGradient><linearGradient id="g184" x2="0" y2="1"><stop offset="0" stop-color="#fcc215"/><stop offset=".475" stop-color="#fcc014"/><stop offset=".788" stop-color="#fbae16"/><stop offset="1" stop-color="#fbae16"/></linearGradient><linearGradient id="g185" x2="0" y2="1"><stop offset="0" stop-color="#f9d618"/><stop offset=".45" stop-color="#facd16"/><stop offset=".688" stop-color="#fdb714"/><stop offset="1" stop-color="#fcb215"/></linearGradient><linearGradient id="g186" x2="0" y2="1"><stop offset="0" stop-color="#f5e61b"/><stop offset=".375" stop-color="#f7e219"/><stop offset=".7" stop-color="#fcbd14"/><stop offset="1" stop-color="#fdb614"/></linearGradient><linearGradient id="g187" x2="0" y2="1"><stop offset="0" stop-color="#e5e623"/><stop offset=".175" stop-color="#e9e721"/><stop offset=".375" stop-color="#f4e71c"/><stop offset=".488" stop-color="#f8e119"/><stop offset=".713" stop-color="#fbc515"/><stop offset=".963" stop-color="#fdbb13"/><stop offset="1" stop-color="#fdbb13"/></linearGradient><linearGradient id="g188" x2="0" y2="1"><stop offset="0" stop-color="#bad532"/><stop offset=".138" stop-color="#bbd532"/><stop offset=".263" stop-color="#d4df29"/><stop offset=".388" stop-color="#f0ea1f"/><stop offset=".55" stop-color="#f8e019"/><stop offset=".838" stop-color="#fbc515"/><stop offset="1" stop-color="#fcc214"/></linearGradient><linearGradient id="g189" x2="0" y2="1"><stop offset="0" stop-color="#8fc83d"/><stop offset=".138" stop-color="#93c93c"/><stop offset=".238" stop-color="#abd036"/><stop offset=".375" stop-color="#dfe325"/><stop offset=".45" stop-color="#f1e91e"/><stop offset=".625" stop-color="#f8e019"/><stop offset=".9" stop-color="#fbcb16"/><stop offset="1" stop-color="#fbcb16"/></linearGradient><linearGradient id="g190" x2="0" y2="1"><stop offset="0" stop-color="#6cbe45"/><stop offset=".175" stop-color="#7bc241"/><stop offset=".238" stop-color="#8dc73d"/><stop offset=".438" stop-color="#e6e623"/><stop offset=".475" stop-color="#f1e91e"/><stop offset=".713" stop-color="#f8e019"/><stop offset=".913" stop-color="#f9d517"/><stop offset="1" stop-color="#f9d517"/></linearGradient><linearGradient id="g191" x2="0" y2="1"><stop offset="0" stop-color="#6abd45"/><stop offset=".213" stop-color="#6abd45"/><stop offset=".338" stop-color="#a7cf37"/><stop offset=".475" stop-color="#ece920"/><stop offset=".6" stop-color="#f4e71c"/><stop offset="1" stop-color="#f8e019"/></linearGradient><linearGradient id="g192" x2="0" y2="1"><stop offset="0" stop-color="#6abd45"/><stop offset=".25" stop-color="#6cbe45"/><stop offset=".375" stop-color="#b0d235"/><stop offset=".475" stop-color="#e8e722"/><stop offset=".513" stop-color="#f1ea1f"/><stop offset="1" stop-color="#f6e61b"/></linearGradient><linearGradient id="g193" x2="0" y2="1"><stop offset="0" stop-color="#6bbf75"/><stop offset=".013" stop-color="#6bbe66"/><stop offset=".025" stop-color="#6abd45"/><stop offset=".25" stop-color="#6abd45"/><stop offset=".338" stop-color="#93c93c"/><stop offset=".475" stop-color="#e5e623"/><stop offset=".525" stop-color="#f1ea1f"/><stop offset="1" stop-color="#f4e71c"/></linearGradient><linearGradient id="g194" x2="0" y2="1"><stop offset="0" stop-color="#6bc8c7"/><stop offset=".013" stop-color="#6bc4ad"/><stop offset=".025" stop-color="#6bbf72"/><stop offset=".038" stop-color="#6abd45"/><stop offset=".263" stop-color="#6cbe45"/><stop offset=".338" stop-color="#90c83c"/><stop offset=".475" stop-color="#e3e524"/><stop offset=".525" stop-color="#f0ea1f"/><stop offset="1" stop-color="#f3e81d"/></linearGradient><linearGradient id="g195" x2="0" y2="1"><stop offset="0" stop-color="#6bbe5b"/><stop offset=".025" stop-color="#6abd45"/><stop offset=".25" stop-color="#6abd45"/><stop offset=".338" stop-color="#91c93c"/><stop offset=".475" stop-color="#e4e523"/><stop offset=".525" stop-color="#f0ea1f"/><stop offset="1" stop-color="#f2e91e"/></linearGradient><linearGradient id="g196" x2="0" y2="1"><stop offset="0" stop-color="#6abd45"/><stop offset=".213" stop-color="#6bbd45"/><stop offset=".312" stop-color="#8bc73d"/><stop offset=".475" stop-color="#e6e622"/><stop offset=".525" stop-color="#f0ea1f"/><stop offset="1" stop-color="#f2e91e"/></linearGradient><linearGradient id="g197" x2="0" y2="1"><stop offset="0" stop-color="#6abd45"/><stop offset=".138" stop-color="#6cbe45"/><stop offset=".288" stop-color="#8ec73d"/><stop offset=".363" stop-color="#b1d235"/><stop offset=".475" stop-color="#eae821"/><stop offset=".537" stop-color="#f1ea1f"/><stop offset="1" stop-color="#f1e91e"/></linearGradient><linearGradient id="g198" x2="0" y2="1"><stop offset="0" stop-color="#7bc241"/><stop offset=".138" stop-color="#7ec341"/><stop offset=".3" stop-color="#a0cd39"/><stop offset=".475" stop-color="#ede920"/><stop offset=".85" stop-color="#f1e91e"/><stop offset="1" stop-color="#f1e91e"/></linearGradient><linearGradient id="g199" x2="0" y2="1"><stop offset="0" stop-color="#92c93c"/><stop offset=".15" stop-color="#95ca3b"/><stop offset=".312" stop-color="#b4d334"/><stop offset=".475" stop-color="#f0ea1f"/><stop offset="1" stop-color="#f1e91e"/></linearGradient><linearGradient id="g200" x2="0" y2="1"><stop offset="0" stop-color="#a8cf37"/><stop offset=".163" stop-color="#acd036"/><stop offset=".3" stop-color="#c0d730"/><stop offset=".463" stop-color="#efea1f"/><stop offset="1" stop-color="#f1e91e"/></linearGradient><linearGradient id="g201" x2="0" y2="1"><stop offset="0" stop-color="#bdd631"/><stop offset=".213" stop-color="#c3d92f"/><stop offset=".338" stop-color="#d6e028"/><stop offset=".463" stop-color="#efea1f"/><stop offset="1" stop-color="#f0ea1f"/></linearGradient><linearGradient id="g202" x2="0" y2="1"><stop offset="0" stop-color="#d1de2a"/><stop offset=".275" stop-color="#d7e028"/><stop offset=".425" stop-color="#ebe821"/><stop offset="1" stop-color="#ede920"/></linearGradient><linearGradient id="g203" x2="0" y2="1"><stop offset="0" stop-color="#e1e424"/><stop offset=".288" stop-color="#e1e424"/><stop offset=".438" stop-color="#eae821"/><stop offset="1" stop-color="#e9e722"/></linearGradient><linearGradient id="g204" x2="0" y2="1"><stop offset="0" stop-color="#ede920"/><stop offset=".488" stop-color="#e3e524"/><stop offset=".713" stop-color="#dde326"/><stop offset="1" stop-color="#e4e523"/></linearGradient><linearGradient id="g205" x2="0" y2="1"><stop offset="0" stop-color="#f1e91e"/><stop offset=".363" stop-color="#e5e623"/><stop offset=".613" stop-color="#d1de2a"/><stop offset=".763" stop-color="#d6e028"/><stop offset=".95" stop-color="#dee325"/><stop offset="1" stop-color="#dee325"/></linearGradient><linearGradient id="g206" x2="0" y2="1"><stop offset="0" stop-color="#f1e91e"/><stop offset=".338" stop-color="#e1e424"/><stop offset=".6" stop-color="#c1d830"/><stop offset=".75" stop-color="#cadb2d"/><stop offset=".913" stop-color="#d7e028"/><stop offset="1" stop-color="#d6e028"/></linearGradient><linearGradient id="g207" x2="0" y2="1"><stop offset="0" stop-color="#f1e91e"/><stop offset=".25" stop-color="#e0e425"/><stop offset=".575" stop-color="#b1d235"/><stop offset=".713" stop-color="#b7d433"/><stop offset=".875" stop-color="#cddc2b"/><stop offset="1" stop-color="#cedd2b"/></linearGradient><linearGradient id="g208" x2="0" y2="1"><stop offset="0" stop-color="#f0ea1f"/><stop offset=".238" stop-color="#d7e028"/><stop offset=".513" stop-color="#a6ce37"/><stop offset=".625" stop-color="#a0cd39"/><stop offset=".888" stop-color="#c4d92f"/><stop offset="1" stop-color="#c5d92e"/></linearGradient><linearGradient id="g209" x2="0" y2="1"><stop offset="0" stop-color="#e7e722"/><stop offset=".225" stop-color="#c7da2e"/><stop offset=".388" stop-color="#a3ce38"/><stop offset=".537" stop-color="#91c83c"/><stop offset=".638" stop-color="#92c93c"/><stop offset=".863" stop-color="#b7d433"/><stop offset="1" stop-color="#bcd632"/></linearGradient><linearGradient id="g210" x2="0" y2="1"><stop offset="0" stop-color="#d5e028"/><stop offset=".25" stop-color="#a8cf37"/><stop offset=".413" stop-color="#89c63e"/><stop offset=".55" stop-color="#80c340"/><stop offset=".638" stop-color="#83c43f"/><stop offset=".863" stop-color="#acd036"/><stop offset="1" stop-color="#b3d334"/></linearGradient><linearGradient id="g211" x2="0" y2="1"><stop offset="0" stop-color="#bcd631"/><stop offset=".375" stop-color="#79c142"/><stop offset=".525" stop-color="#70bf44"/><stop offset=".65" stop-color="#79c142"/><stop offset=".863" stop-color="#a3ce38"/><stop offset="1" stop-color="#acd036"/></linearGradient><linearGradient id="g212" x2="0" y2="1"><stop offset="0" stop-color="#9fcc39"/><stop offset=".138" stop-color="#83c43f"/><stop offset=".338" stop-color="#6abd45"/><stop offset=".638" stop-color="#6dbe44"/><stop offset=".875" stop-color="#9ecc39"/><stop offset="1" stop-color="#a5ce38"/></linearGradient><linearGradient id="g213" x2="0" y2="1"><stop offset="0" stop-color="#83c43f"/><stop offset=".1" stop-color="#6abd45"/><stop offset=".663" stop-color="#6dbe44"/><stop offset=".875" stop-color="#9bcb3a"/><stop offset="1" stop-color="#a2cd38"/></linearGradient><linearGradient id="g214" x2="0" y2="1"><stop offset="0" stop-color="#6bbd45"/><stop offset=".663" stop-color="#6dbe44"/><stop offset=".875" stop-color="#a0cd39"/><stop offset="1" stop-color="#a7cf37"/></linearGradient><linearGradient id="g215" x2="0" y2="1"><stop offset="0" stop-color="#6abd45"/><stop offset=".65" stop-color="#6cbd45"/><stop offset=".863" stop-color="#a6cf37"/><stop offset="1" stop-color="#b0d135"/></linearGradient><linearGradient id="g216" x2="0" y2="1"><stop offset="0" stop-color="#6abd45"/><stop offset=".088" stop-color="#6abd48"/><stop offset=".125" stop-color="#6cc086"/><stop offset=".15" stop-color="#6cc3a3"/><stop offset=".163" stop-color="#6cc4a8"/><stop offset=".175" stop-color="#6cc3a6"/><stop offset=".188" stop-color="#6cc29b"/><stop offset=".225" stop-color="#6bbe64"/><stop offset=".238" stop-color="#6abd4f"/><stop offset=".25" stop-color="#6abd45"/><stop offset=".65" stop-color="#6cbe45"/><stop offset=".85" stop-color="#aad036"/><stop offset=".963" stop-color="#b5d334"/><stop offset="1" stop-color="#b6d334"/></linearGradient><linearGradient id="g217" x2="0" y2="1"><stop offset="0" stop-color="#6abd45"/><stop offset=".038" stop-color="#6abd45"/><stop offset=".05" stop-color="#6bbe60"/><stop offset=".062" stop-color="#6cc087"/><stop offset=".075" stop-color="#6bc6ba"/><stop offset=".088" stop-color="#61cadd"/><stop offset=".1" stop-color="#3fbfe9"/><stop offset=".113" stop-color="#2fa5de"/><stop offset=".125" stop-color="#3f86c6"/><stop offset=".138" stop-color="#3d74ba"/><stop offset=".15" stop-color="#3d6bb4"/><stop offset=".163" stop-color="#3d6cb5"/><stop offset=".175" stop-color="#3e79bd"/><stop offset=".188" stop-color="#3a90ce"/><stop offset=".2" stop-color="#29b1e7"/><stop offset=".213" stop-color="#4ec6e8"/><stop offset=".225" stop-color="#65c9d3"/><stop offset=".238" stop-color="#6cc4a8"/><stop offset=".25" stop-color="#6cbf7a"/><stop offset=".263" stop-color="#6abe56"/><stop offset=".275" stop-color="#6abd45"/><stop offset=".65" stop-color="#6cbe45"/><stop offset=".838" stop-color="#abd036"/><stop offset=".938" stop-color="#b8d433"/><stop offset="1" stop-color="#bad532"/></linearGradient><linearGradient id="g218" x2="0" y2="1"><stop offset="0" stop-color="#6abd45"/><stop offset=".013" stop-color="#6abd45"/><stop offset=".025" stop-color="#6bbe60"/><stop offset=".038" stop-color="#6cc08d"/><stop offset=".05" stop-color="#6ac8cb"/><stop offset=".062" stop-color="#4ec5e9"/><stop offset=".075" stop-color="#339dd8"/><stop offset=".088" stop-color="#3d68b1"/><stop offset=".1" stop-color="#3b52a3"/><stop offset=".188" stop-color="#3b52a3"/><stop offset=".2" stop-color="#3c66b0"/><stop offset=".213" stop-color="#349bd6"/><stop offset=".225" stop-color="#4bc4e9"/><stop offset=".238" stop-color="#69c8cc"/><stop offset=".25" stop-color="#6cc190"/><stop offset=".263" stop-color="#6bbe62"/><stop offset=".275" stop-color="#6abd45"/><stop offset=".65" stop-color="#6cbe45"/><stop offset=".738" stop-color="#8ac63e"/><stop offset=".812" stop-color="#a7cf37"/><stop offset=".913" stop-color="#bad532"/><stop offset="1" stop-color="#bdd631"/></linearGradient><linearGradient id="g219" x2="0" y2="1"><stop offset="0" stop-color="#6abd45"/><stop offset=".013" stop-color="#6abe52"/><stop offset=".025" stop-color="#6cbf7c"/><stop offset=".038" stop-color="#6bc5b5"/><stop offset=".05" stop-color="#5ecae1"/><stop offset=".062" stop-color="#28b5ea"/><stop offset=".075" stop-color="#3e7ec1"/><stop offset=".088" stop-color="#3b55a5"/><stop offset=".175" stop-color="#3b53a4"/><stop offset=".188" stop-color="#3d6bb4"/><stop offset=".2" stop-color="#329fd9"/><stop offset=".213" stop-color="#4dc5e9"/><stop offset=".225" stop-color="#69c8cc"/><stop offset=".238" stop-color="#6cc191"/><stop offset=".25" stop-color="#6bbe64"/><stop offset=".263" stop-color="#6abd45"/><stop offset=".638" stop-color="#6abd45"/><stop offset=".738" stop-color="#8bc73d"/><stop offset=".812" stop-color="#a9cf37"/><stop offset=".913" stop-color="#bcd632"/><stop offset="1" stop-color="#bfd730"/></linearGradient><linearGradient id="g220" x2="0" y2="1"><stop offset="0" stop-color="#6abd45"/><stop offset=".013" stop-color="#6abd45"/><stop offset=".025" stop-color="#6bbe5b"/><stop offset=".038" stop-color="#6cc080"/><stop offset=".05" stop-color="#6bc5ae"/><stop offset=".062" stop-color="#65c9d4"/><stop offset=".075" stop-color="#54c8e8"/><stop offset=".088" stop-color="#32baea"/><stop offset=".1" stop-color="#2ea7df"/><stop offset=".113" stop-color="#3698d4"/><stop offset=".125" stop-color="#3894d1"/><stop offset=".138" stop-color="#349bd6"/><stop offset=".15" stop-color="#2cace3"/><stop offset=".163" stop-color="#39bde9"/><stop offset=".175" stop-color="#5bcbe7"/><stop offset=".188" stop-color="#68c9cf"/><stop offset=".213" stop-color="#6cbf7b"/><stop offset=".225" stop-color="#6bbe59"/><stop offset=".238" stop-color="#6abd45"/><stop offset=".625" stop-color="#6bbd45"/><stop offset=".725" stop-color="#89c63e"/><stop offset=".812" stop-color="#aad036"/><stop offset=".913" stop-color="#bdd631"/><stop offset="1" stop-color="#c1d830"/></linearGradient><linearGradient id="g221" x2="0" y2="1"><stop offset="0" stop-color="#6abd45"/><stop offset=".05" stop-color="#6abd45"/><stop offset=".088" stop-color="#6bbf70"/><stop offset=".113" stop-color="#6cbf7b"/><stop offset=".138" stop-color="#6bbf72"/><stop offset=".175" stop-color="#6abd47"/><stop offset=".6" stop-color="#6dbe44"/><stop offset=".725" stop-color="#8fc83d"/><stop offset=".825" stop-color="#b2d235"/><stop offset=".913" stop-color="#c1d830"/><stop offset="1" stop-color="#c5d92e"/></linearGradient><linearGradient id="g222" x2="0" y2="1"><stop offset="0" stop-color="#6abd45"/><stop offset=".5" stop-color="#6cbe45"/><stop offset=".65" stop-color="#87c53e"/><stop offset=".838" stop-color="#bfd730"/><stop offset=".95" stop-color="#cddc2b"/><stop offset="1" stop-color="#cfdd2b"/></linearGradient><linearGradient id="g223" x2="0" y2="1"><stop offset="0" stop-color="#74c043"/><stop offset=".05" stop-color="#6abd45"/><stop offset=".35" stop-color="#6dbe44"/><stop offset=".638" stop-color="#99cb3a"/><stop offset=".825" stop-color="#ccdc2c"/><stop offset=".963" stop-color="#dbe227"/><stop offset="1" stop-color="#dce226"/></linearGradient><linearGradient id="g224" x2="0" y2="1"><stop offset="0" stop-color="#92c93c"/><stop offset=".1" stop-color="#84c43f"/><stop offset=".338" stop-color="#88c63e"/><stop offset=".525" stop-color="#a4ce38"/><stop offset=".638" stop-color="#b0d135"/><stop offset=".812" stop-color="#d9e127"/><stop offset=".975" stop-color="#e7e622"/><stop offset="1" stop-color="#e7e622"/></linearGradient><linearGradient id="g225" x2="0" y2="1"><stop offset="0" stop-color="#b6d334"/><stop offset=".125" stop-color="#add136"/><stop offset=".35" stop-color="#b1d235"/><stop offset=".537" stop-color="#c3d82f"/><stop offset=".638" stop-color="#cbdc2c"/><stop offset=".788" stop-color="#e4e523"/><stop offset=".975" stop-color="#f0ea1f"/><stop offset="1" stop-color="#f0ea1f"/></linearGradient><linearGradient id="g226" x2="0" y2="1"><stop offset="0" stop-color="#dbe226"/><stop offset=".388" stop-color="#dbe227"/><stop offset=".638" stop-color="#e4e523"/><stop offset=".763" stop-color="#efea1f"/><stop offset="1" stop-color="#f2e91e"/></linearGradient><linearGradient id="g227" x2="0" y2="1"><stop offset="0" stop-color="#dfe325"/><stop offset=".425" stop-color="#dfe425"/><stop offset=".638" stop-color="#e6e623"/><stop offset=".75" stop-color="#f0ea1f"/><stop offset="1" stop-color="#f2e91e"/></linearGradient><linearGradient id="g228" x2="0" y2="1"><stop offset="0" stop-color="#dfe325"/><stop offset=".425" stop-color="#dfe425"/><stop offset=".638" stop-color="#e6e623"/><stop offset=".75" stop-color="#f0ea1f"/><stop offset="1" stop-color="#f2e91e"/></linearGradient>
<clipPath id="hcg"><rect x="182" y="2008.2" width="421" height="557.8"/></clipPath>
<filter id="hbg" filterUnits="userSpaceOnUse" x="146" y="2003.2" width="493" height="567.8"><feGaussianBlur stdDeviation="3 0"/></filter></defs>
<g clip-path="url(#hcg)"><g filter="url(#hbg)"><rect x="166" y="2008.2" width="8.5" height="557.8" fill="url(#g172)"/><rect x="174" y="2008.2" width="8.5" height="557.8" fill="url(#g173)"/><rect x="182" y="2008.2" width="8.5" height="557.8" fill="url(#g174)"/><rect x="190" y="2008.2" width="8.5" height="557.8" fill="url(#g175)"/><rect x="198" y="2008.2" width="8.5" height="557.8" fill="url(#g176)"/><rect x="206" y="2008.2" width="8.5" height="557.8" fill="url(#g177)"/><rect x="214" y="2008.2" width="8.5" height="557.8" fill="url(#g178)"/><rect x="222" y="2008.2" width="8.5" height="557.8" fill="url(#g179)"/><rect x="230" y="2008.2" width="8.5" height="557.8" fill="url(#g180)"/><rect x="238" y="2008.2" width="8.5" height="557.8" fill="url(#g181)"/><rect x="246" y="2008.2" width="8.5" height="557.8" fill="url(#g182)"/><rect x="254" y="2008.2" width="8.5" height="557.8" fill="url(#g183)"/><rect x="262" y="2008.2" width="8.5" height="557.8" fill="url(#g184)"/><rect x="270" y="2008.2" width="8.5" height="557.8" fill="url(#g185)"/><rect x="278" y="2008.2" width="8.5" height="557.8" fill="url(#g186)"/><rect x="286" y="2008.2" width="8.5" height="557.8" fill="url(#g187)"/><rect x="294" y="2008.2" width="8.5" height="557.8" fill="url(#g188)"/><rect x="302" y="2008.2" width="8.5" height="557.8" fill="url(#g189)"/><rect x="310" y="2008.2" width="8.5" height="557.8" fill="url(#g190)"/><rect x="318" y="2008.2" width="8.5" height="557.8" fill="url(#g191)"/><rect x="326" y="2008.2" width="8.5" height="557.8" fill="url(#g192)"/><rect x="334" y="2008.2" width="8.5" height="557.8" fill="url(#g193)"/><rect x="342" y="2008.2" width="8.5" height="557.8" fill="url(#g194)"/><rect x="350" y="2008.2" width="8.5" height="557.8" fill="url(#g195)"/><rect x="358" y="2008.2" width="8.5" height="557.8" fill="url(#g196)"/><rect x="366" y="2008.2" width="8.5" height="557.8" fill="url(#g197)"/><rect x="374" y="2008.2" width="8.5" height="557.8" fill="url(#g198)"/><rect x="382" y="2008.2" width="8.5" height="557.8" fill="url(#g199)"/><rect x="390" y="2008.2" width="8.5" height="557.8" fill="url(#g200)"/><rect x="398" y="2008.2" width="8.5" height="557.8" fill="url(#g201)"/><rect x="406" y="2008.2" width="8.5" height="557.8" fill="url(#g202)"/><rect x="414" y="2008.2" width="8.5" height="557.8" fill="url(#g203)"/><rect x="422" y="2008.2" width="8.5" height="557.8" fill="url(#g204)"/><rect x="430" y="2008.2" width="8.5" height="557.8" fill="url(#g205)"/><rect x="438" y="2008.2" width="8.5" height="557.8" fill="url(#g206)"/><rect x="446" y="2008.2" width="8.5" height="557.8" fill="url(#g207)"/><rect x="454" y="2008.2" width="8.5" height="557.8" fill="url(#g208)"/><rect x="462" y="2008.2" width="8.5" height="557.8" fill="url(#g209)"/><rect x="470" y="2008.2" width="8.5" height="557.8" fill="url(#g210)"/><rect x="478" y="2008.2" width="8.5" height="557.8" fill="url(#g211)"/><rect x="486" y="2008.2" width="8.5" height="557.8" fill="url(#g212)"/><rect x="494" y="2008.2" width="8.5" height="557.8" fill="url(#g213)"/><rect x="502" y="2008.2" width="8.5" height="557.8" fill="url(#g214)"/><rect x="510" y="2008.2" width="8.5" height="557.8" fill="url(#g215)"/><rect x="518" y="2008.2" width="8.5" height="557.8" fill="url(#g216)"/><rect x="526" y="2008.2" width="8.5" height="557.8" fill="url(#g217)"/><rect x="534" y="2008.2" width="8.5" height="557.8" fill="url(#g218)"/><rect x="542" y="2008.2" width="8.5" height="557.8" fill="url(#g219)"/><rect x="550" y="2008.2" width="8.5" height="557.8" fill="url(#g220)"/><rect x="558" y="2008.2" width="8.5" height="557.8" fill="url(#g221)"/><rect x="566" y="2008.2" width="8.5" height="557.8" fill="url(#g222)"/><rect x="574" y="2008.2" width="8.5" height="557.8" fill="url(#g223)"/><rect x="582" y="2008.2" width="8.5" height="557.8" fill="url(#g224)"/><rect x="590" y="2008.2" width="8.5" height="557.8" fill="url(#g225)"/><rect x="598" y="2008.2" width="8.5" height="557.8" fill="url(#g226)"/><rect x="606" y="2008.2" width="8.5" height="557.8" fill="url(#g227)"/><rect x="614" y="2008.2" width="8.5" height="557.8" fill="url(#g228)"/></g></g>
<path d="M476 2008V2566M494 2086V2566M498 2008V2566M506 2107V2566M520 2008V2566M534 2008V2566M536 2008V2566M546 2008V2566M552 2098V2566M562 2008V2566M564 2008V2566M574 2008V2566M576 2008V2566M580 2064V2566M582 2008V2566M586 2146V2566M590 2065V2566M596 2082V2566M598 2085V2566M602 2071V2566" stroke="#6abd45" stroke-opacity="0.2" stroke-width="1.6" fill="none"/>
<path d="M495 2014V2566M501 2008V2566M539 2008V2566M545 2008V2566M559 2008V2566M561 2008V2566M565 2070V2566M567 2011V2566M571 2104V2566M573 2008V2566M581 2008V2566M583 2110V2566M585 2053V2566M589 2033V2566M591 2008V2566M599 2008V2566M601 2008V2566" stroke="#f5eb1b" stroke-opacity="0.2" stroke-width="1.6" fill="none"/>
<rect x="603" y="2008.2" width="4.2" height="557.8" fill="#fff"/>
<line x1="499.703" y1="2008.2" x2="499.703" y2="2566" stroke="#7a4a2a" stroke-width="1.3"/>
<rect x="181.8" y="2008.2" width="425.4" height="557.8" fill="none" stroke="#000" stroke-width="1.6"/>
<line x1="211.8" y1="2008.2" x2="211.8" y2="2019.2" stroke="#000" stroke-width="1.4"/>
<line x1="211.8" y1="2566" x2="211.8" y2="2555" stroke="#000" stroke-width="1.4"/>
<line x1="261.2" y1="2008.2" x2="261.2" y2="2014.2" stroke="#000" stroke-width="1.4"/>
<line x1="261.2" y1="2566" x2="261.2" y2="2560" stroke="#000" stroke-width="1.4"/>
<line x1="310.6" y1="2008.2" x2="310.6" y2="2019.2" stroke="#000" stroke-width="1.4"/>
<line x1="310.6" y1="2566" x2="310.6" y2="2555" stroke="#000" stroke-width="1.4"/>
<line x1="360" y1="2008.2" x2="360" y2="2014.2" stroke="#000" stroke-width="1.4"/>
<line x1="360" y1="2566" x2="360" y2="2560" stroke="#000" stroke-width="1.4"/>
<line x1="409.4" y1="2008.2" x2="409.4" y2="2019.2" stroke="#000" stroke-width="1.4"/>
<line x1="409.4" y1="2566" x2="409.4" y2="2555" stroke="#000" stroke-width="1.4"/>
<line x1="458.8" y1="2008.2" x2="458.8" y2="2014.2" stroke="#000" stroke-width="1.4"/>
<line x1="458.8" y1="2566" x2="458.8" y2="2560" stroke="#000" stroke-width="1.4"/>
<line x1="508.2" y1="2008.2" x2="508.2" y2="2019.2" stroke="#000" stroke-width="1.4"/>
<line x1="508.2" y1="2566" x2="508.2" y2="2555" stroke="#000" stroke-width="1.4"/>
<line x1="557.6" y1="2008.2" x2="557.6" y2="2014.2" stroke="#000" stroke-width="1.4"/>
<line x1="557.6" y1="2566" x2="557.6" y2="2560" stroke="#000" stroke-width="1.4"/>
<line x1="181.8" y1="2051.11" x2="185.8" y2="2051.11" stroke="#000" stroke-width="1.4"/>
<line x1="607.2" y1="2051.11" x2="603.2" y2="2051.11" stroke="#000" stroke-width="1.4"/>
<line x1="181.8" y1="2094.02" x2="189.8" y2="2094.02" stroke="#000" stroke-width="1.4"/>
<line x1="607.2" y1="2094.02" x2="599.2" y2="2094.02" stroke="#000" stroke-width="1.4"/>
<line x1="181.8" y1="2136.92" x2="185.8" y2="2136.92" stroke="#000" stroke-width="1.4"/>
<line x1="607.2" y1="2136.92" x2="603.2" y2="2136.92" stroke="#000" stroke-width="1.4"/>
<line x1="181.8" y1="2179.83" x2="189.8" y2="2179.83" stroke="#000" stroke-width="1.4"/>
<line x1="607.2" y1="2179.83" x2="599.2" y2="2179.83" stroke="#000" stroke-width="1.4"/>
<line x1="181.8" y1="2222.74" x2="185.8" y2="2222.74" stroke="#000" stroke-width="1.4"/>
<line x1="607.2" y1="2222.74" x2="603.2" y2="2222.74" stroke="#000" stroke-width="1.4"/>
<line x1="181.8" y1="2265.65" x2="189.8" y2="2265.65" stroke="#000" stroke-width="1.4"/>
<line x1="607.2" y1="2265.65" x2="599.2" y2="2265.65" stroke="#000" stroke-width="1.4"/>
<line x1="181.8" y1="2308.55" x2="185.8" y2="2308.55" stroke="#000" stroke-width="1.4"/>
<line x1="607.2" y1="2308.55" x2="603.2" y2="2308.55" stroke="#000" stroke-width="1.4"/>
<line x1="181.8" y1="2351.46" x2="189.8" y2="2351.46" stroke="#000" stroke-width="1.4"/>
<line x1="607.2" y1="2351.46" x2="599.2" y2="2351.46" stroke="#000" stroke-width="1.4"/>
<line x1="181.8" y1="2394.37" x2="185.8" y2="2394.37" stroke="#000" stroke-width="1.4"/>
<line x1="607.2" y1="2394.37" x2="603.2" y2="2394.37" stroke="#000" stroke-width="1.4"/>
<line x1="181.8" y1="2437.28" x2="189.8" y2="2437.28" stroke="#000" stroke-width="1.4"/>
<line x1="607.2" y1="2437.28" x2="599.2" y2="2437.28" stroke="#000" stroke-width="1.4"/>
<line x1="181.8" y1="2480.18" x2="185.8" y2="2480.18" stroke="#000" stroke-width="1.4"/>
<line x1="607.2" y1="2480.18" x2="603.2" y2="2480.18" stroke="#000" stroke-width="1.4"/>
<line x1="181.8" y1="2523.09" x2="189.8" y2="2523.09" stroke="#000" stroke-width="1.4"/>
<line x1="607.2" y1="2523.09" x2="599.2" y2="2523.09" stroke="#000" stroke-width="1.4"/>
<text transform="translate(112.79 2020.03) scale(0.9724 1)" font-size="48.01">70</text>
<text transform="translate(112.79 2191.66) scale(0.9724 1)" font-size="48.01">50</text>
<text transform="translate(112.79 2363.29) scale(0.9724 1)" font-size="48.01">30</text>
<text transform="translate(112.79 2534.92) scale(0.9724 1)" font-size="48.01">10</text>
<text transform="translate(82.44 2316.96) rotate(-90) scale(1.0925 1)" font-size="78.00" font-style="italic">θ</text>
<text transform="translate(82.38 2265.03) rotate(-90) scale(0.9935 1)" font-size="78.52">(°)</text>
<text transform="translate(193.66 253.19) scale(1.0117 1)" font-size="86.46">(a)</text>
<text transform="translate(193.76 849.19) scale(1.0117 1)" font-size="86.46">(c)</text>
<text transform="translate(193.76 1505.59) scale(1.0117 1)" font-size="86.46">(e)</text>
<text transform="translate(193.75 2100.80) scale(1.0159 1)" font-size="86.19">(g)</text>
<text transform="translate(371.84 695.74) scale(1.0699 1)" font-size="57.03" font-weight="bold" fill="#fff">NPs-TE</text>
<text transform="translate(350.84 1285.94) scale(1.0682 1)" font-size="57.18" font-weight="bold" fill="#fff">NPs-TM</text>
<text transform="translate(306.82 1950.34) scale(1.0824 1)" font-size="57.02" font-weight="bold"><tspan>NWs -</tspan><tspan dx="3.99">TE</tspan></text>
<text transform="translate(311.84 2538.84) scale(1.0727 1)" font-size="57.02" font-weight="bold"><tspan>NWs -</tspan><tspan dx="3.99">TM</tspan></text>
<defs><linearGradient id="cb" x1="0" y1="0" x2="1" y2="0"><stop offset="0" stop-color="#ed1c24"/><stop offset="0.06" stop-color="#ee2a24"/><stop offset="0.095" stop-color="#f15a22"/><stop offset="0.155" stop-color="#f7941d"/><stop offset="0.2" stop-color="#fdb913"/><stop offset="0.24" stop-color="#f7e51a"/><stop offset="0.275" stop-color="#f0ea1f"/><stop offset="0.34" stop-color="#b5d334"/><stop offset="0.43" stop-color="#6abd45"/><stop offset="0.58" stop-color="#6abd45"/><stop offset="0.65" stop-color="#6cc08b"/><stop offset="0.71" stop-color="#6bc8c8"/><stop offset="0.755" stop-color="#5bcbe8"/><stop offset="0.8" stop-color="#27b5ea"/><stop offset="0.85" stop-color="#3f86c6"/><stop offset="0.91" stop-color="#3b55a5"/><stop offset="1" stop-color="#3b50a2"/></linearGradient></defs>
<rect x="384.7" y="262.7" width="97.5" height="68.2" fill="#fff"/>
<rect x="389" y="266.3" width="89" height="59.7" fill="url(#cb)"/>
<text transform="translate(420.38 252.50) scale(1.0245 1)" font-size="55.90" font-weight="bold" font-style="italic">R</text>
<text transform="translate(318.85 383.56) scale(1.0392 1)" font-size="59.48" font-weight="bold">0.6</text>
<text transform="translate(441.66 383.56) scale(1.0322 1)" font-size="59.48" font-weight="bold">0.006</text>
<text transform="translate(172.40 141.02) scale(0.9920 1)" font-size="47.70">0.5</text>
<text transform="translate(172.70 2624.12) scale(0.9799 1)" font-size="48.29">0.5</text>
<text transform="translate(370.82 141.02) scale(0.9433 1)" font-size="48.05">1.5</text>
<text transform="translate(371.12 2624.11) scale(0.9318 1)" font-size="48.64">1.5</text>
<text transform="translate(565.31 141.02) scale(0.9927 1)" font-size="47.91">2.5</text>
<text transform="translate(565.61 2624.11) scale(0.9806 1)" font-size="48.50">2.5</text>
<text transform="translate(249.41 69.19) scale(0.9833 1)" font-size="61.67"><tspan font-style="italic">Energy</tspan><tspan>&#160;(eV)</tspan></text>
<text transform="translate(866.51 68.69) scale(0.9826 1)" font-size="61.67"><tspan font-style="italic">Energy</tspan><tspan>&#160;(eV)</tspan></text>
<text transform="translate(253.41 2695.19) scale(0.9829 1)" font-size="61.67"><tspan font-style="italic">Energy</tspan><tspan>&#160;(eV)</tspan></text>
<text transform="translate(868.61 2694.19) scale(0.9842 1)" font-size="61.67"><tspan font-style="italic">Energy</tspan><tspan>&#160;(eV)</tspan></text>
<rect x="645.5" y="159" width="690.9" height="562.3" fill="#fff"/>
<clipPath id="clb"><rect x="645.5" y="159" width="690.9" height="564.3"/></clipPath>
<g clip-path="url(#clb)" fill="none" stroke-width="5.6" stroke-linejoin="miter" stroke-miterlimit="7">
<path d="M687 288.5l1.6 0 1.6 .5 1.6-1.3 1.6-.4 1.6 .9 1.6 .7 1.6 .8 1.6-.4 1.6-.9 1.6 .1 1.6 .8 1.6-.5 1.6 1.5 1.6-.6 1.6-.5 1.6 .7 1.6-1 1.6 .1 1.6 1 1.6-.7 1.6 .2 1.6 .6 1.6-1.2 1.6 1.4 1.6-.1 1.6-.2 1.6-.3 1.6 0 1.6 1.1 3-.7 3 .6 3-1 3 1.3 3 .2 3 .2 3-.6 3 .4 3 .4 3 0 3-.1 3-.2 3 .3 3 .4 3 .1 3 .5 3 0 3-.1 3 .2 3 .4 3 .1 3 .2 3 .3 3 0 3 .3 3 .1 3 .3 3 .6 3-.6 3 .1 3 .1 3 .1 3 .1 3-.1 3-.1 3 .4 3 .7 3-1.3 3 .5 3 .1 3-.2 3 .9 3-1 3 .4 3-.4 3-.1 3-.3 3 .4 3 .4 3-.2 3-.2 3 .1 3 .2 3-.1 3-.3 3 .1 3 0 3 0 3-.2 3 .3 3-.2 3 .1 1.6-.7 1.6 .4 1.6-.3 1.6 1 1.6-.4 1.6 .2 1.6 0 1.6-.4 1.6 .1 1.6-.3 1.6 0 1.6 .6 1.6-.7 1.6 .3 1.6 .1 1.6-.7 1.6 .7 1.6-.5 1.6-.2 1.6 .6 1.6-.3 1.6 .7 1.6-.9 1.6 .2 1.6 .3 1.6 .4 1.6-1.5 1.6 .1 1.6 .7 1.6 1 1.6-.9 1.6 .6 1.6-1.6 1.6 0 1.6-.2 1.6 .2 1.6 .6 1.6-1 1.6 .4 1.6 2.4 1.6-2.8 1.6 .6 1.6-.4 1.6 .5 1.6-1.2 1.6 .6 1.6-.9 1.6 .4 1.6 .9 1.6 .9 1.6-1.8 1.6 .7 1.6-.2 1.6-.7 1.6 0 1.6-.4 1.6-.6 1.6 1.6 1.6-2 1.6 .9 1.1-.8 1.2-.6 1.1 .8 1.2-.4 1.1-.3 1.2-1.1 1.1 2.6 1.2-1.3 1.1 2.3 1.2-1.6 1.1-.1 1.2-1.7 1.1 .4 1.2-.9 1.1 .1 1.2-.2 1.1-1.4 1.2 .7 1.1 1.9 1.2-.7 1.1 .1 1.2 .8 1.1-3.1 1.2-.7 1.1 3.2 1.2-2.8 1.1 2.2 1.2-1.5 1.1-1 1.2-.8 1.1 3.2 1.2-1.8 1.1 .1 1.2 .5 1.1 .4 1.2-2.7 1.1 1.3 1.2-.4 1.1 .3 1.2-1.4 1.1 .3 1.2 .2 1.1 1.5 1.2-4.8 1.1 1.1 1.2 5.2 1.1-2.6 1.2-1.3 1.1 1.2 1.2-1.4 1.1-3.6 1.2 5.6 1.1-.4 1.2-3.4 1.1 1.9 1.2 .3 1.1 .4 1.2-.5 1.1-1 1.2-.4 1.1 1.2 1.2 2.2 1.1-1 1.2-2.2 1.1-.5 1.2 1.3 1.1-1.5 1.2 3.3 1.1-2.9 1.2-2.8 1.1 3.2 1.2 .3 1.1 1 1.2-2.7 1.1 1.2 1.2-5.3 1.1 6.8 1.2-.7 1.1-.1 1.2-2.4 1.1 .7 1.2 .1 1.1 2.3 1.2-6 1.1 3.5 1.2-.3 1.1 1.6 1.2-1.5 1.1-1.2 1.2 .2 1.1-3.4 1.2-.9 1.1 4.9 1.2-3.3 1.1 2.6 1.2-2.8 1.1 2.4 1.2 1.3 1.1-1.8 1.2-1 1.1-.8 1.2 3.1 1.1-3.3 1.2-.3 1.1 7.3 1.2-7.8 1.1 .6 1.2-1.1 1.1 4.4 1.2-.8 1.1-5.9 1.2 2.1 1.1 1.9 1.2-1.3 1.1 .7 1.2 3.5 1.1-5.3 1.2 2.7 1.1-5.5 1.2 1.5 1.1 1.2 1.2 .2 1.1-.5 1.2-.4 1.1 0 1.2-.5 1.1 1.5M1166 274.5l1.2-7.5 1.1 7.3 1.2 2.9 1.1-5.7 1.2 .1 1.1-.3 1.2 4.9 1.1-1.1 1.2-.3 1.1-3.2 1.2-1.7 1.1-7.1 1.2 15.6 1.1-7 1.2 5 1.1-10.2 1.2 3.7 1.1-7.2 1.2 5.1 1.1 4.3 1.2-6.4 1.1 5.3 1.2-6.7 1.1 .8 1.2 5.5 1.1-6.6 1.2 3.3 1.1-2.9 1.2 13.9 1.1-9.9 1.2-8.1 1.1 12.2 1.2-5.9 1.1-.5 1.2-5.2 1.1 4 1.2-.2 1.1-1.8 1.2 3 1.1 8.1 1.2-20.9 1.1 7.5 1.2 6.8 1.1-11.8 1.2 5.3 1.1 12.1 1.2-3.6 1.1-3.1 1.2-6.7 1.1 3.8 1.2-.3 1.1-2.3 1.2 3.9 1.1 1.6 1.2-2.6 1.1-2.1 1.2 2 1.1-1.6 1.2 .8 1.1 3.5 1.2-8.2 1.1-4.7 1.2 14.9 1.1 6.6 1.2-14.9 1.1-5.3 1.2-.7 1.1-1 1.2 1.5 1.1 .8 1.2 1.3 1.1 4.5 1.2 8.5 1.1-19.5 1.2-.1 1.1 12.9 1.2-1.6 1.1-5.8 1.2-5.3 1.1 3.5 1.2 4.7 1.1 2.1 1.2-4.6 1.1-2.2 1.2 .1 1.1 1.1 1.2-8.1 1.1 9.2 1.2-10.6 1.1 10.7 1.2-9.8 1.1 6.9 1.2-9.4 1.1-.6 1.2 10.4 1.1-13.2 1.2 1.3 1.1-3.3 1.2-13.7 1.1 22 1.2-6.7 1.1-5.9 1.2 8.2 1.1-8.1 1.2-4.1 1.1 11.6 1.2-14.8 1.1 18.4 1.2-14.2 1.1-3.8 1.2-14.1 1.1 18.9 1.2-1.7 1.1-3.7 1.2-28.4 1.1 40.8 1.2-27.3 1.1-4.4 1.2 11.7 1.1-16.8 1.2 13.3 1.1-16.1 1.2 7.2" stroke="#a0672b"/>
<path d="M687 247.5l1.6-.6 1.6 .4 1.6 .5 1.6-.5 1.6 .8 1.6-.6 1.6 .4 1.6-1.4 1.6 1.5 1.6 .3 1.6 0 1.6 .5 1.6-.2 1.6-.3 1.6 .4 1.6-.1 1.6 .5 1.6-.3 1.6 .7 1.6-.5 1.6-.4 1.6 .5 1.6-.3 1.6 .5 1.6 .3 1.6-.5 1.6 .9 1.6-.5 1.6 .2 3 .5 3 0 3-.7 3 .6 3 .8 3 .2 3-.5 3 .3 3 .5 3-.2 3 .4 3-.5 3 .2 3 .3 3 .6 3-.1 3 0 3 .1 3 .3 3 .1 3 0 3 0 3 1.1 3-1 3 .5 3 .4 3 0 3 0 3 .2 3 .2 3 0 3-.3 3 .1 3 .7 3-.2 3 .1 3 .4 3-.1 3-.2 3 .2 3 0 3-.2 3 .4 3 .4 3-.4 3 .5 3 0 3-.5 3 .2 3 .1 3 .4 3-.3 3 .2 3 .2 3 .2 3-.1 3-.2 3-.1 3 .3 3-.3 3 0 3 .1 1.6-.3 1.6 .3 1.6-.1 1.6-.1 1.6 .1 1.6 .5 1.6-.5 1.6 .1 1.6 .5 1.6-.4 1.6 0 1.6-.1 1.6-.4 1.6-.2 1.6 1.2 1.6-1.1 1.6-.2 1.6 .4 1.6 .2 1.6 .3 1.6 1.3 1.6-2.1 1.6 .1 1.6 .3 1.6 .4 1.6-.1 1.6-.6 1.6 .5 1.6 .4 1.6-.8 1.6-.7 1.6 2.6 1.6-.6 1.6-1.2 1.6 .1 1.6-.4 1.6-.2 1.6 .6 1.6 0 1.6-.8 1.6 .5 1.6-1.5 1.6 3.5 1.6-1.8 1.6-2.8 1.6 1.1 1.6 1.6 1.6 0 1.6-.7 1.6 .1 1.6-.7 1.6 1.7 1.6-1.3 1.6 .2 1.6-1.7 1.6 1.7 1.6-.3 1.6-.1 1.6-.7 1.6-.6 1.1 2.3 1.2-.2 1.1-.8 1.2-.8 1.1 0 1.2-.2 1.1 .5 1.2 .1 1.1-.5 1.2 2.1 1.1-1.3 1.2-2.5 1.1 1.3 1.2 1.2 1.1-1.6 1.2-2.3 1.1 3.7 1.2-1.1 1.1-1.1 1.2-.6 1.1 1.1 1.2 .5 1.1 0 1.2-.9 1.1-3.9 1.2 3.1 1.1-.7 1.2 2.1 1.1 .5 1.2-1.8 1.1-1.2 1.2-.5 1.1 .2 1.2 2.2 1.1-.6 1.2 .5 1.1-.9 1.2 1.8 1.1-1.9 1.2 .8 1.1-5 1.2 4 1.1 1 1.2 .1 1.1-3 1.2 .7 1.1-1.9 1.2 3.7 1.1-2.5 1.2 1.3 1.1-.6 1.2-.4 1.1 .3 1.2 1.2 1.1-.6 1.2 .3 1.1-2.4 1.2 3.2 1.1-2.7 1.2-.3 1.1-.4 1.2 .9 1.1-.3 1.2-4.8 1.1 4 1.2-.9 1.1 .5 1.2 .1 1.1-.6 1.2-2.1 1.1 5.6 1.2-3 1.1 1.2 1.2 .7 1.1-3.3 1.2 3.3 1.1-3.8 1.2-3.9 1.1 5.8 1.2 .5 1.1-4.7 1.2 2 1.1-.2 1.2 6.5 1.1-2.9 1.2-2.2 1.1-.4 1.2 3.3 1.1-5.4 1.2 .5 1.1 2.3 1.2-1.3 1.1-1.8 1.2 .1 1.1 1.1 1.2-1.1 1.1 3.4 1.2-3.2 1.1 2.9 1.2-2.7 1.1 .8 1.2-1 1.1-.6 1.2 5.8 1.1-3.4 1.2-4.2 1.1 .8 1.2-2.6 1.1 4 1.2-3 1.1 3.2 1.2-.4 1.1 5 1.2-7 1.1 .9 1.2-1.3 1.1 2.9 1.2 5.6 1.1-6.9 1.2 .3 1.1-1 1.2 3.1 1.1 .8 1.2-.9 1.1-1 1.2 1.7 1.1-1.7M1166 242.5l1.2 1.9 1.1-3.5 1.2 4.5 1.1 9.9 1.2-11.3 1.1-3.6 1.2 5.7 1.1-10.1 1.2 6.1 1.1 .9 1.2-2 1.1 .2 1.2 5 1.1-2.9 1.2-3 1.1 1.7 1.2-7.7 1.1 4.1 1.2-5.3 1.1 7.7 1.2 8.6 1.1-9.1 1.2 .2 1.1 .7 1.2-7.4 1.1 6 1.2-3.1 1.1 .7 1.2-4 1.1 13.4 1.2-7.6 1.1 3.1 1.2 0 1.1-16 1.2 10.7 1.1 1.7 1.2 4.7 1.1-1.9 1.2-8.8 1.1 3.8 1.2 6.1 1.1-2.1 1.2-1.2 1.1 1.6 1.2 .9 1.1-7.7 1.2 5.5 1.1-5.2 1.2 1.2 1.1 1 1.2 1.3 1.1-3.6 1.2 7.1 1.1-19.7 1.2 11.6 1.1 14.1 1.2-10.7 1.1-2.3 1.2 5.2 1.1 4.9 1.2-8.6 1.1-5.5 1.2-10 1.1 13.7 1.2-6.1 1.1-5 1.2 9.9 1.1-3.2 1.2 7.2 1.1-13.5 1.2 16.8 1.1-13.3 1.2 3.9 1.1 .5 1.2-2.9 1.1-7.8 1.2 5 1.1 1.6 1.2 .3 1.1-4.1 1.2-6.8 1.1 9.6 1.2-.6 1.1 1.1 1.2 12.6 1.1-11 1.2-3.6 1.1-3.3 1.2 12.6 1.1-4.5 1.2-8.3 1.1 7.4 1.2-12 1.1 7.5 1.2 10 1.1-8.3 1.2 .3 1.1-8.2 1.2 20.4 1.1-13.4 1.2 20.7 1.1-38.9 1.2 2.4 1.1 9.8 1.2-8.8 1.1-3.5 1.2-10.8 1.1 28.4 1.2-1 1.1 16.5 1.2-60.7 1.1 45.7 1.2-25.6 1.1 4.2 1.2 12.5 1.1-18.1 1.2-1.6 1.1-4.1 1.2 5.4 1.1-4.9 1.2 9.5 1.1 2.8 1.2-.5" stroke="#3db54a"/>
<path d="M687 352.8l1.6-.8 1.6 .7 1.6 0 1.6 .1 1.6 .2 1.6 .2 1.6 .1 1.6-.4 1.6-1.2 1.6 2.1 1.6 0 1.6-.3 1.6 0 1.6-.3 1.6 1.1 1.6-1 1.6 .1 1.6 .7 1.6 .1 1.6 .3 1.6-1 1.6 0 1.6 1.4 1.6-.4 1.6 0 1.6 .7 1.6-.6 1.6 .1 1.6-.2 3 .3 3 .4 3 0 3-.1 3 .3 3 .3 3 0 3 .6 3-.7 3 .4 3 .3 3 .1 3-.1 3 0 3 .7 3 .2 3 0 3-.1 3 .5 3 0 3 .4 3 0 3 .3 3-.5 3 .2 3 .5 3 .2 3 .2 3 .2 3-.4 3-.1 3 .4 3 0 3 .2 3-.2 3 .2 3-.5 3 .8 3-.2 3-.2 3 0 3 .1 3 .1 3 .3 3-.9 3 .1 3 .1 3 .6 3 .1 3-.8 3 .5 3 .1 3-.9 3 .6 3-.2 3 .6 3-.6 3 .4 3-.5 3-.3 3 .5 3 .4 1.6-.5 1.6-.2 1.6-.7 1.6 .1 1.6 1.1 1.6-.3 1.6 .2 1.6-.4 1.6 .4 1.6 .2 1.6-.4 1.6 .1 1.6 .1 1.6-1.4 1.6 2.5 1.6-1.2 1.6-.6 1.6 .3 1.6-1.1 1.6 1 1.6 0 1.6 1 1.6-1.7 1.6 1 1.6 .3 1.6 .2 1.6-1.6 1.6 .4 1.6 .1 1.6-.4 1.6-.3 1.6-.8 1.6 1.8 1.6-.5 1.6 .4 1.6-.8 1.6-.3 1.6 .6 1.6 .4 1.6-.4 1.6-1.5 1.6 2 1.6-.7 1.6-.4 1.6 0 1.6 .3 1.6-.4 1.6-.4 1.6 .3 1.6-.9 1.6 .5 1.6 2.5 1.6-3 1.6-.2 1.6-.5 1.6 3.1 1.6-5.5 1.6 1.2 1.6 1.1 1.6-.7 1.1-1 1.2 1.2 1.1 .4 1.2-1.1 1.1-.1 1.2 .6 1.1-.1 1.2-.4 1.1 .4 1.2-.3 1.1-1.2 1.2 .1 1.1-.6 1.2 2.5 1.1-1.5 1.2-.7 1.1 .8 1.2-.2 1.1-1.6 1.2-.1 1.1 1.6 1.2-2.5 1.1 .3 1.2-.4 1.1 1.4 1.2 1.1 1.1-.1 1.2-1 1.1-1.5 1.2-1 1.1 0 1.2 1.5 1.1-1.9 1.2 2.1 1.1-1.6 1.2-.1 1.1 .2 1.2 .8 1.1-.6 1.2-.7 1.1-.2 1.2-.1 1.1 1.1 1.2-1.9 1.1 .6 1.2-1.9 1.1 .2 1.2-.3 1.1 1.7 1.2-1.5 1.1-.1 1.2 2.1 1.1-.2 1.2-.8 1.1 .5 1.2 3.7 1.1-3.1 1.2-2.4 1.1-.7 1.2-.2 1.1 .2 1.2 1.9 1.1-1.8 1.2 .8 1.1 .2 1.2-1.2 1.1 .8 1.2-1.6 1.1 3.2 1.2-.3 1.1 1.3 1.2-.8 1.1-1.9 1.2-.2 1.1-1.4 1.2-.3 1.1 1.1 1.2-.5 1.1-2.9 1.2 2.1 1.1 1.6 1.2-1.5 1.1 .7 1.2-1.8 1.1 1 1.2-.2 1.1-1.5 1.2 1.3 1.1-4.1 1.2 2.1 1.1 .7 1.2-2.8 1.1 2.3 1.2-2.6 1.1-.1 1.2 4.7 1.1-3.4 1.2 4.2 1.1-.7 1.2-2.7 1.1 1.5 1.2-7.5 1.1 5.9 1.2-.3 1.1-.3 1.2-1.1 1.1 2.3 1.2-7.2 1.1 8.6 1.2-3.4 1.1-1.8 1.2 2.8 1.1-2.1 1.2 1.5 1.1-.4 1.2 4.7 1.1-6.3 1.2 2.6 1.1-1.1 1.2-.5 1.1 .1 1.2 .2 1.1-2.4 1.2 .6 1.1-1.2 1.2 4.2 1.1-5.3M1166 343.9l1.2-2.9 1.1-6.6 1.2 4.4 1.1 1.9 1.2-.4 1.1-6.9 1.2-.2 1.1 3.8 1.2 5.6 1.1 .2 1.2-9.6 1.1-4.3 1.2 8.5 1.1-1.5 1.2 .7 1.1-12.5 1.2 11.9 1.1 4.4 1.2-6.3 1.1 11 1.2-2.8 1.1-9.8 1.2 4.8 1.1-4.9 1.2-2.8 1.1 5.8 1.2-.9 1.1-15.7 1.2 15.2 1.1-10.2 1.2 10.2 1.1 8.6 1.2-9.2 1.1-7.2 1.2 15.1 1.1-3.9 1.2-10.7 1.1-2.9 1.2 14 1.1-5.2 1.2 4.5 1.1-8.1 1.2-5 1.1 8.9 1.2 2 1.1-4.9 1.2-6.3 1.1-3.5 1.2-4.7 1.1 15.2 1.2-.4 1.1-3.5 1.2 2 1.1-10.2 1.2 3.1 1.1 12.2 1.2-2.6 1.1-12.6 1.2 10.1 1.1 3.8 1.2-14.2 1.1 10.1 1.2 5.9 1.1-5.5 1.2 1.4 1.1-6.7 1.2 1 1.1-16.6 1.2 15.4 1.1-2.8 1.2 3.4 1.1 3.6 1.2-11.1 1.1 3.2 1.2-8.8 1.1 12.8 1.2-2.2 1.1-5.1 1.2-9.7 1.1 13.2 1.2-11.6 1.1 13 1.2-.7 1.1-10.9 1.2 6.8 1.1-3.9 1.2 4.6 1.1-2.3 1.2-3.4 1.1-9.2 1.2 14.5 1.1-4.4 1.2-15.5 1.1 13.3 1.2-5 1.1 19.3 1.2-6.9 1.1-10.3 1.2-9.1 1.1-8.2 1.2 14.1 1.1 13.6 1.2-20.2 1.1 8.1 1.2-17.9 1.1 18.7 1.2-37.4 1.1 25.4 1.2-9.2 1.1 13.5 1.2-11.5 1.1 1.6 1.2 9.1 1.1 12.3 1.2-7.6 1.1-10.1 1.2-4.4 1.1-3.1 1.2 10.6 1.1-6.1 1.2-4.3 1.1-21.1 1.2 15.7" stroke="#2e6cb3"/>
<path d="M687 438.6l1.6-1.6 1.6 .2 1.6 0 1.6-.3 1.6 .6 1.6 .1 1.6-.2 1.6 1.4 1.6-.3 1.6-.3 1.6 .2 1.6-.3 1.6-.5 1.6 1 1.6 .1 1.6-.2 1.6-.5 1.6 .6 1.6-.1 1.6-1.2 1.6 2.6 1.6-1.1 1.6-.5 1.6 1 1.6-.9 1.6 .7 1.6-.5 1.6 1.3 1.6-.9 3-.8 3 1.4 3-.3 3 .6 3-.3 3 .7 3-1.1 3 .9 3-.4 3 .6 3 .2 3 0 3 0 3 .3 3 .1 3 .1 3-.2 3 .5 3 .1 3-.4 3 .3 3 .3 3 .2 3 1 3-.9 3 .5 3 .3 3-.1 3 0 3-.2 3 0 3 .7 3-.7 3 0 3 .3 3 0 3-.4 3 .5 3-.2 3-.2 3 .1 3-.1 3-.1 3-.3 3 .2 3-.3 3 .5 3 .2 3-.4 3 .1 3-.2 3 0 3 0 3 .2 3-.4 3-.2 3 .3 3-.2 3-.1 3 0 3 .5 3-.7 1.6 .1 1.6 .2 1.6-.3 1.6 .7 1.6-.9 1.6-1 1.6 .2 1.6 .2 1.6 .9 1.6 .1 1.6-1.1 1.6 .5 1.6 0 1.6-1.2 1.6 .3 1.6 .6 1.6-.2 1.6-.1 1.6-.9 1.6 2 1.6 .2 1.6-.6 1.6-.7 1.6 .2 1.6-.6 1.6 0 1.6 1 1.6-2.8 1.6 1.3 1.6 .8 1.6-.1 1.6-.6 1.6 .1 1.6 .6 1.6-.5 1.6-.4 1.6 .5 1.6-.7 1.6-.3 1.6-.2 1.6 1.3 1.6-.3 1.6-.3 1.6-.4 1.6-.6 1.6 2.7 1.6-1.7 1.6-.4 1.6-.7 1.6 0 1.6 1.1 1.6-1.2 1.6-.3 1.6-.9 1.6-.6 1.6 .2 1.6-.1 1.6 .6 1.6-.8 1.6 1.3 1.1-.9 1.2-.3 1.1-.5 1.2 1.3 1.1-.9 1.2-.1 1.1-1.7 1.2 .5 1.1-1.6 1.2 2.2 1.1-.2 1.2 .3 1.1 .1 1.2 .5 1.1-1.2 1.2 .3 1.1-.4 1.2-.8 1.1 .5 1.2-.3 1.1-1.8 1.2 2.1 1.1-1.6 1.2 1 1.1-1.6 1.2 1.4 1.1 .3 1.2-.5 1.1-1.7 1.2 2.4 1.1-1.7 1.2-.5 1.1 1.6 1.2 .6 1.1-.6 1.2-5.7 1.1 3.2 1.2-.5 1.1 1.4 1.2 .1 1.1 3.3 1.2-4.8 1.1 2.1 1.2 .5 1.1-2.8 1.2 .8 1.1-.5 1.2 1.2 1.1-4.6 1.2 2.2 1.1 1.6 1.2-3.3 1.1-.2 1.2 1.9 1.1 1.9 1.2-2.8 1.1 1.4 1.2-1.7 1.1-1 1.2 .5 1.1-.4 1.2 2.1 1.1-4.4 1.2 2.6 1.1 .7 1.2-1.7 1.1 0 1.2 1.8 1.1-2.1 1.2-.6 1.1 2.3 1.2-3.2 1.1 1.5 1.2-1.3 1.1-.7 1.2 .4 1.1-1.5 1.2 2.4 1.1-2.5 1.2 .9 1.1-.1 1.2 1.8 1.1-2.7 1.2-4 1.1 4.7 1.2 .9 1.1-1.3 1.2-2.8 1.1 .4 1.2 0 1.1 1.6 1.2-2 1.1 2.4 1.2-1.9 1.1-1.9 1.2-.4 1.1 .1 1.2 .5 1.1 1.2 1.2-1.3 1.1 .5 1.2-1 1.1-1.4 1.2 1.3 1.1-2.4 1.2-.9 1.1 3.4 1.2-3 1.1-.8 1.2 3.5 1.1-.9 1.2-7.1 1.1 3.2 1.2 3.3 1.1 2.2 1.2-2 1.1-2.7 1.2-1.6 1.1 .2 1.2 2.9 1.1 1.3 1.2-2.8 1.1-1.1 1.2-3.6 1.1 6 1.2-6.9 1.1 3.5M1166 416.3l1.2-4.9 1.1-2.3 1.2-1.5 1.1 7.5 1.2-13.4 1.1 8.7 1.2-5.2 1.1 8.9 1.2-7.1 1.1-1.4 1.2 2.9 1.1-3.2 1.2-.4 1.1 2.1 1.2 4.2 1.1-3.7 1.2 5.7 1.1-3.9 1.2-6 1.1-1.8 1.2 1.4 1.1 6.2 1.2 .8 1.1-5.2 1.2 7 1.1-11.6 1.2 1.5 1.1 2.7 1.2 13.6 1.1-14.2 1.2 .7 1.1 1.4 1.2-3.7 1.1-1.4 1.2-6.5 1.1 5.9 1.2 4.8 1.1-.5 1.2 2.3 1.1-4.6 1.2-5.3 1.1 3.2 1.2-1.2 1.1 3 1.2 5.1 1.1-10.1 1.2-2.6 1.1 5.3 1.2-.6 1.1-16 1.2 17.9 1.1-4.4 1.2 1.3 1.1-1.2 1.2-5.4 1.1 2.8 1.2-3 1.1 10.2 1.2-16.8 1.1 6.5 1.2 .5 1.1 7.2 1.2-6.8 1.1 .6 1.2-16.9 1.1 21.5 1.2-11.6 1.1 .7 1.2 11.4 1.1-4.2 1.2-5.9 1.1-4.5 1.2 12.6 1.1-11.3 1.2-8.3 1.1 6.9 1.2 5.2 1.1 1.7 1.2 6.5 1.1-3.8 1.2 .3 1.1-2.4 1.2-10.9 1.1-16.8 1.2 16 1.1 10.5 1.2 12.3 1.1-13.1 1.2-17.3 1.1 15.5 1.2 2.2 1.1-6.8 1.2-15.4 1.1 14.7 1.2 0 1.1-8.8 1.2 7 1.1-15.3 1.2 9.1 1.1-.6 1.2-14.4 1.1 26.7 1.2-15.6 1.1-6.7 1.2 19.2 1.1 13.2 1.2-17.8 1.1-5.8 1.2-6.2 1.1-5.9 1.2 13.5 1.1-5.2 1.2-18.5 1.1 14.9 1.2 10.8 1.1-1.3 1.2-10.5 1.1 6.3 1.2-13.4 1.1 17.6 1.2-5.1 1.1-3.8 1.2-13.5" stroke="#7a5bb0"/>
<path d="M687 402.2l1.6 1.2 1.6-.9 1.6 .5 1.6 .1 1.6 1.2 1.6-1.6 1.6 .4 1.6 .2 1.6-1.1 1.6 .7 1.6 .9 1.6-.6 1.6 1 1.6-.9 1.6 .5 1.6 0 1.6 0 1.6-.1 1.6 1 1.6-.2 1.6-.2 1.6-.3 1.6 .1 1.6 .1 1.6 .9 1.6-1.7 1.6 1.3 1.6-.2 1.6 .2 3-.2 3 .4 3 0 3 .6 3-.1 3 .3 3 .3 3-.1 3 0 3 .2 3-.2 3 .4 3 .2 3 .5 3 0 3 .1 3-.8 3 .6 3 .3 3-.1 3 .5 3 .3 3-.1 3 .1 3 0 3 .6 3-.4 3 .1 3 .2 3-.3 3 .3 3-.4 3 .5 3-.3 3 .2 3 .3 3-.2 3 .9 3-1.5 3-.1 3 1 3-.4 3 .1 3 .2 3-.3 3 0 3 0 3-.2 3 0 3 0 3 .1 3 0 3-.1 3 .2 3-.2 3 .1 3 0 3-.1 3-.3 3-.2 3 .7 3 .2 1.6-.9 1.6 1 1.6-.2 1.6-.9 1.6 .4 1.6 .4 1.6-.3 1.6-.6 1.6 .6 1.6-.1 1.6-.1 1.6 .8 1.6-1.5 1.6 1.1 1.6 .3 1.6-.5 1.6-.6 1.6-.1 1.6 .1 1.6 .1 1.6-.7 1.6 .8 1.6 .1 1.6 .5 1.6-.3 1.6-.1 1.6-1.2 1.6 .7 1.6-.4 1.6 1.9 1.6 .5 1.6-2 1.6-1.3 1.6-.8 1.6 1.9 1.6 .2 1.6-2.3 1.6 2.7 1.6-2 1.6 1.1 1.6-.2 1.6 1.5 1.6-1.9 1.6 .8 1.6 .6 1.6-1.4 1.6 1.6 1.6-2.2 1.6 .3 1.6-.2 1.6-.4 1.6 .2 1.6 .6 1.6-1.6 1.6 .1 1.6-.4 1.6-1.1 1.6-.1 1.6 1.1 1.6 1.6 1.1 .2 1.2 .7 1.1-2.6 1.2-.4 1.1 .2 1.2 .7 1.1 2.2 1.2-3.7 1.1-.1 1.2-.9 1.1 1.1 1.2-1.4 1.1 .7 1.2-1.4 1.1 1.1 1.2 .8 1.1 .1 1.2-2.3 1.1 1.1 1.2 .4 1.1-1.1 1.2 1.8 1.1-2.8 1.2-.7 1.1 1.5 1.2-1.3 1.1-1.2 1.2 1.1 1.1-1.9 1.2 2.3 1.1-.6 1.2-.9 1.1-.5 1.2-2.9 1.1 5.5 1.2-2.1 1.1-.5 1.2 .1 1.1 2 1.2-3.6 1.1 1.4 1.2-.1 1.1 .5 1.2-2.9 1.1 1.4 1.2-1 1.1 4.4 1.2 0 1.1-2.1 1.2-1.8 1.1-.2 1.2-.9 1.1 2.5 1.2-2.5 1.1 .8 1.2 3.9 1.1-4.5 1.2-2.2 1.1 1.2 1.2-.3 1.1-1.2 1.2-.7 1.1 1.6 1.2-.8 1.1 2.1 1.2-3.6 1.1 2.1 1.2-.9 1.1 1 1.2 2.7 1.1-8.8 1.2 4.1 1.1-2.2 1.2 3.5 1.1 .8 1.2-1.2 1.1-.3 1.2-1.2 1.1-1 1.2 .1 1.1-.5 1.2-.6 1.1-1.6 1.2 3.1 1.1 .9 1.2-3.7 1.1 3.9 1.2-1.3 1.1-6.6 1.2 3.2 1.1 2.1 1.2 .5 1.1 .6 1.2-1.7 1.1-2.1 1.2 2 1.1-2.2 1.2-4.8 1.1 6.7 1.2-1.1 1.1-.2 1.2 .8 1.1-6.6 1.2 3.2 1.1 3.3 1.2 .1 1.1-4.7 1.2 5.5 1.1-1.5 1.2-6.7 1.1 4.3 1.2-4.4 1.1 7.8 1.2-2.2 1.1-3.1 1.2 .4 1.1 .9 1.2-1.8 1.1 2.3 1.2-.2 1.1-2.7 1.2 .7 1.1-1.3 1.2-.6 1.1 0 1.2 1.4 1.1-.6M1166 379.8l1.2-1.9 1.1 1.2 1.2 2.3 1.1-5.9 1.2 2.1 1.1 .4 1.2-3.2 1.1-5.6 1.2 5.1 1.1 10 1.2-11.5 1.1 .8 1.2 1.9 1.1-7.8 1.2 5.3 1.1-2.6 1.2 5.8 1.1 1.6 1.2 .4 1.1-6.7 1.2 .3 1.1 1 1.2-4.9 1.1 5.3 1.2 0 1.1-.4 1.2 0 1.1-6.7 1.2 11.9 1.1-2.6 1.2 10.2 1.1-20.9 1.2 9.1 1.1 1.8 1.2-3.5 1.1-2.6 1.2 8.5 1.1-13.3 1.2 3.9 1.1 1.8 1.2-10.3 1.1 6.7 1.2 2.8 1.1-5.8 1.2 9.5 1.1 9 1.2-18.5 1.1 12.7 1.2-18.3 1.1 .3 1.2 6.5 1.1-.1 1.2 8.5 1.1-11.4 1.2 1.1 1.1 .4 1.2-10.8 1.1 8.7 1.2 1.1 1.1 .6 1.2-13.9 1.1 15.6 1.2-5.1 1.1 8.2 1.2-17 1.1 6.9 1.2-2.2 1.1 3.8 1.2 1.6 1.1-3 1.2-6.9 1.1 2.7 1.2 3.7 1.1 5.3 1.2-2.5 1.1-7.2 1.2 5.1 1.1-2 1.2 10.8 1.1-17 1.2 0 1.1 4.3 1.2-12.4 1.1-13.4 1.2 17.1 1.1 3 1.2-5.6 1.1 11 1.2 .3 1.1-9.7 1.2 14.2 1.1-4.5 1.2-7 1.1-7.7 1.2-.5 1.1 21.8 1.2-4.6 1.1-17.5 1.2-12.7 1.1 9.8 1.2-.4 1.1 10.7 1.2-15.5 1.1 1 1.2 9 1.1-4.3 1.2-4.1 1.1 1.4 1.2 18.6 1.1-19.7 1.2-8.6 1.1-6.4 1.2 28.6 1.1-20.3 1.2-3.8 1.1-25.4 1.2 48.2 1.1-17.4 1.2 18.8 1.1 5.6 1.2-15 1.1-20.3 1.2 8.1" stroke="#861619"/>
<path d="M687 480l1.6 .9 1.6-.5 1.6 1.3 1.6-1.1 1.6-.5 1.6 .6 1.6 .7 1.6-.1 1.6-.3 1.6-.3 1.6 .4 1.6-.6 1.6 .6 1.6-.4 1.6 .9 1.6-.1 1.6-.3 1.6 .3 1.6 .4 1.6 .2 1.6-.3 1.6 .2 1.6-.2 1.6 .3 1.6-.8 1.6 1.2 1.6-.7 1.6 0 1.6 .4 3 .2 3-.9 3 .9 3 0 3 .4 3 .5 3 .1 3-.1 3-.5 3 .7 3 .6 3-.8 3 .2 3 .1 3 .3 3 .2 3 0 3 .1 3-.1 3 .5 3-.3 3 0 3 .1 3 0 3 .5 3-.1 3-.2 3 .1 3-.5 3 1 3-.1 3-.2 3 .4 3-.1 3 .1 3-.1 3-.6 3 .2 3 .3 3 .1 3-.1 3 .2 3-.3 3 0 3-.1 3 0 3 0 3-.3 3-.2 3 .5 3-.4 3-.1 3 .4 3-.5 3-.4 3 .4 3 .1 3 .1 3-.4 3 0 3-.2 3-.1 1.6 .1 1.6 0 1.6 .4 1.6-.4 1.6-.1 1.6-.4 1.6 .4 1.6-.5 1.6 .8 1.6-.8 1.6 .2 1.6-.2 1.6-.6 1.6 .2 1.6 .1 1.6 .4 1.6 0 1.6-.3 1.6-.4 1.6 1 1.6 .1 1.6-.6 1.6-1.2 1.6-.3 1.6 .1 1.6 .2 1.6 .2 1.6 0 1.6 .4 1.6-.1 1.6-1.7 1.6 1.7 1.6-1.2 1.6 .9 1.6 .3 1.6-1.4 1.6 .4 1.6 .4 1.6-.3 1.6-.3 1.6-.5 1.6-.3 1.6 .9 1.6-.6 1.6 .7 1.6-.9 1.6-.3 1.6 .6 1.6-.9 1.6-.7 1.6 1.3 1.6 1.3 1.6-1.5 1.6-1.1 1.6 .2 1.6 1.4 1.6-1.4 1.6 .3 1.6-2.1 1.6 .2 1.1-.7 1.2 .7 1.1 .2 1.2 .3 1.1-2.7 1.2 2.5 1.1-1.3 1.2 .8 1.1-.1 1.2-.3 1.1-3.4 1.2 3.2 1.1 .5 1.2-.3 1.1-1.3 1.2 .1 1.1 0 1.2 0 1.1-.5 1.2-3.8 1.1 3.1 1.2-2.4 1.1 3 1.2-1.6 1.1 1.5 1.2 1.4 1.1-1.4 1.2-5.1 1.1 4 1.2-2.4 1.1 3.6 1.2-3 1.1 .1 1.2-1.9 1.1 3.6 1.2-4.3 1.1 2.7 1.2-.3 1.1-.1 1.2-1.8 1.1-2.7 1.2 2.4 1.1 .1 1.2 2 1.1 .3 1.2-1.6 1.1 .3 1.2 3.2 1.1-4.5 1.2-.1 1.1 1.4 1.2 .1 1.1 1.1 1.2-1.8 1.1-1.8 1.2 1.6 1.1 1 1.2-.1 1.1-3.9 1.2 5.6 1.1 .2 1.2-5 1.1 1.1 1.2-1.9 1.1-.9 1.2 2.4 1.1-.2 1.2-.8 1.1-1.8 1.2 .5 1.1 .7 1.2-.4 1.1-1 1.2-.2 1.1-2 1.2 3 1.1 .3 1.2-3.5 1.1 3 1.2-1.1 1.1-1.5 1.2 .6 1.1 .1 1.2-2.8 1.1 3.3 1.2-1.9 1.1 3.1 1.2-1 1.1 1.1 1.2-3.6 1.1 2.6 1.2-1.5 1.1-2.5 1.2 2.1 1.1 .1 1.2-.6 1.1-.1 1.2-1.1 1.1 0 1.2 .6 1.1 1.6 1.2-5.8 1.1 4 1.2-3 1.1 3.9 1.2-1.7 1.1-7.1 1.2 4.6 1.1 2.2 1.2 2.6 1.1-.1 1.2-1.8 1.1-1.5 1.2-1.3 1.1 .5 1.2 5.7 1.1-5.5 1.2 .4 1.1-2.8 1.2 1.3 1.1 .4 1.2-1.3 1.1-2.1 1.2 3.9 1.1-2.9 1.2 1.1 1.1-6.5M1166 456.3l1.2-.1 1.1-6.7 1.2-3.4 1.1 6.5 1.2-6.7 1.1 10.2 1.2 8 1.1-10.5 1.2-2.3 1.1-9.9 1.2 9.9 1.1 5.1 1.2-4.4 1.1 8.5 1.2-6.3 1.1-3 1.2-2.2 1.1 4.4 1.2 2.2 1.1-3.4 1.2-5.9 1.1 1.6 1.2-1.7 1.1-.2 1.2 7.5 1.1-14.3 1.2 7.7 1.1 5.4 1.2-4.3 1.1 4.9 1.2-5.9 1.1 10.4 1.2-10.6 1.1-4.4 1.2 7.4 1.1 7.6 1.2-11.4 1.1-1 1.2 4.1 1.1-7.5 1.2 3.1 1.1 .6 1.2 2.2 1.1-3.3 1.2 2.7 1.1-7.8 1.2 3.4 1.1-3.5 1.2 5.4 1.1 .7 1.2-1 1.1-4.3 1.2-15.1 1.1 14.7 1.2 .2 1.1 12.1 1.2-9.2 1.1 1.9 1.2-.5 1.1 1.3 1.2-7.4 1.1 6.5 1.2-9 1.1 1 1.2 9.2 1.1-5 1.2 9.3 1.1-10.1 1.2-5.5 1.1 2.6 1.2-9.3 1.1 15.3 1.2-7 1.1-.4 1.2 16.7 1.1-18.3 1.2 4.4 1.1-5.9 1.2-1.8 1.1 1.4 1.2-1.6 1.1 3.3 1.2-2.5 1.1-8.6 1.2 4 1.1 4.9 1.2 1.4 1.1-3.3 1.2 6.8 1.1-9.9 1.2 15.9 1.1-13.5 1.2-1.3 1.1-3.2 1.2 1.2 1.1 2 1.2-5.4 1.1 6.5 1.2 5.2 1.1-19.3 1.2 11.5 1.1 .6 1.2 16.5 1.1-23 1.2-12.8 1.1 25.6 1.2-7 1.1-1 1.2-20.8 1.1 20 1.2-4.8 1.1 7.4 1.2-12.5 1.1 7.5 1.2 8.1 1.1-7.9 1.2-1.2 1.1-6.9 1.2-1.4 1.1 1.9 1.2-6.8 1.1-3.4 1.2 11.5" stroke="#0a0a0a"/>
</g>
<line x1="694.5" y1="159" x2="694.5" y2="172" stroke="#000" stroke-width="3"/>
<line x1="694.5" y1="721.3" x2="694.5" y2="708.3" stroke="#000" stroke-width="3"/>
<line x1="774.6" y1="159" x2="774.6" y2="166" stroke="#000" stroke-width="3"/>
<line x1="774.6" y1="721.3" x2="774.6" y2="714.3" stroke="#000" stroke-width="3"/>
<line x1="854.7" y1="159" x2="854.7" y2="172" stroke="#000" stroke-width="3"/>
<line x1="854.7" y1="721.3" x2="854.7" y2="708.3" stroke="#000" stroke-width="3"/>
<line x1="934.8" y1="159" x2="934.8" y2="166" stroke="#000" stroke-width="3"/>
<line x1="934.8" y1="721.3" x2="934.8" y2="714.3" stroke="#000" stroke-width="3"/>
<line x1="1014.9" y1="159" x2="1014.9" y2="172" stroke="#000" stroke-width="3"/>
<line x1="1014.9" y1="721.3" x2="1014.9" y2="708.3" stroke="#000" stroke-width="3"/>
<line x1="1095" y1="159" x2="1095" y2="166" stroke="#000" stroke-width="3"/>
<line x1="1095" y1="721.3" x2="1095" y2="714.3" stroke="#000" stroke-width="3"/>
<line x1="1175.1" y1="159" x2="1175.1" y2="172" stroke="#000" stroke-width="3"/>
<line x1="1175.1" y1="721.3" x2="1175.1" y2="708.3" stroke="#000" stroke-width="3"/>
<line x1="1255.2" y1="159" x2="1255.2" y2="166" stroke="#000" stroke-width="3"/>
<line x1="1255.2" y1="721.3" x2="1255.2" y2="714.3" stroke="#000" stroke-width="3"/>
<line x1="645.5" y1="640.2" x2="653.5" y2="640.2" stroke="#000" stroke-width="2.4"/>
<line x1="1336.4" y1="640.2" x2="1316.9" y2="640.2" stroke="#000" stroke-width="1.5"/>
<line x1="645.5" y1="560.1" x2="657.5" y2="560.1" stroke="#000" stroke-width="2.4"/>
<line x1="1336.4" y1="560.1" x2="1315.4" y2="560.1" stroke="#000" stroke-width="2.4"/>
<line x1="645.5" y1="480" x2="653.5" y2="480" stroke="#000" stroke-width="2.4"/>
<line x1="1336.4" y1="480" x2="1330.4" y2="480" stroke="#000" stroke-width="2.4"/>
<line x1="645.5" y1="399.9" x2="657.5" y2="399.9" stroke="#000" stroke-width="2.4"/>
<line x1="1336.4" y1="399.9" x2="1324.4" y2="399.9" stroke="#000" stroke-width="2.4"/>
<line x1="645.5" y1="319.8" x2="653.5" y2="319.8" stroke="#000" stroke-width="2.4"/>
<line x1="1336.4" y1="319.8" x2="1330.4" y2="319.8" stroke="#000" stroke-width="2.4"/>
<line x1="645.5" y1="239.7" x2="657.5" y2="239.7" stroke="#000" stroke-width="2.4"/>
<line x1="1336.4" y1="239.7" x2="1324.4" y2="239.7" stroke="#000" stroke-width="2.4"/>
<path d="M645.5 158V721.3H1336.4V158" fill="none" stroke="#000" stroke-width="3" stroke-linejoin="miter"/>
<line x1="644" y1="159" x2="1337.9" y2="159" stroke="#000" stroke-width="2.1"/>
<text transform="translate(1347.54 732.78) scale(0.9100 1)" font-size="50.80" letter-spacing="-1.85">0.0</text>
<text transform="translate(1347.54 572.58) scale(0.9100 1)" font-size="50.80" letter-spacing="-1.41">0.2</text>
<text transform="translate(1347.54 412.38) scale(0.9100 1)" font-size="50.80" letter-spacing="-2.42">0.4</text>
<text transform="translate(1347.54 252.18) scale(0.9100 1)" font-size="50.80" letter-spacing="-2.06">0.6</text>
<text transform="translate(1483.00 496.65) rotate(-90) scale(1.0849 1)" font-size="94.08" font-style="italic">R</text>
<rect x="645.5" y="751.4" width="690.9" height="562.2" fill="#fff"/>
<clipPath id="cld"><rect x="645.5" y="751.4" width="690.9" height="564.2"/></clipPath>
<g clip-path="url(#cld)" fill="none" stroke-width="5.6" stroke-linejoin="miter" stroke-miterlimit="7">
<path d="M687 1297.7l1.6 .8 1.6-.1 1.6 0 1.6-.3 1.6 .2 1.6 .2 1.6-.6 1.6 1 1.6-.8 1.6 .1 1.6 .2 1.6-.6 1.6 1.1 1.6-.5 1.6-.4 1.6-.4 1.6 .7 1.6-.4 1.6 .2 1.6-.2 1.6 .3 1.6-.3 1.6 .1 1.6 .3 1.6-.5 1.6 .7 1.6-.9 1.6 1.2 1.6-.2 3-.8 3 .7 3-.2 3-.3 3 .2 3-.2 3 .1 3 .1 3 .2 3-.3 3-.4 3 .4 3-.3 3 .2 3 .4 3-.4 3-.1 3 .3 3 0 3-.3 3-.2 3 .3 3-.2 3-.2 3 .1 3 .3 3-.2 3-.4 3 .2 3 .2 3 .1 3 0 3 .2 3-.7 3 .3 3-.6 3 .2 3 .1 3 .2 3-.3 3-.1 3 .5 3 0 3-.6 3 0 3-.2 3 .1 3-.3 3 0 3-.2 3 .2 3-.2 3 .4 3-.4 3-.6 3 .6 3 0 3-.8 3 .8 3-.3 3-.4 3 0 1.6 .4 1.6-.3 1.6-.3 1.6 .1 1.6-.2 1.6 .3 1.6-.3 1.6 .4 1.6-.3 1.6 .5 1.6-.9 1.6 .5 1.6-.4 1.6 .2 1.6 .2 1.6-.9 1.6-.4 1.6 .8 1.6-.1 1.6 .2 1.6-.3 1.6-.8 1.6 .8 1.6-.4 1.6 0 1.6 .6 1.6-.2 1.6-.7 1.6 .9 1.6 0 1.6-1.3 1.6 1.3 1.6-.6 1.6-1.7 1.6 1.1 1.6-.9 1.6 .6 1.6-.1 1.6 .9 1.6 .2 1.6-1.2 1.6 .8 1.6 .5 1.6-1.8 1.6 .4 1.6-.3 1.6 .2 1.6-.5 1.6 1 1.6-1.1 1.6-.8 1.6 1 1.6-.5 1.6 0 1.6-.3 1.6 .6 1.6-1.5 1.6 1.3 1.6-.7 1.6 .6 1.1-1.3 1.2 .5 1.1-1.3 1.2 1.1 1.1-.5 1.2 .2 1.1 .8 1.2-3.2 1.1 3.6 1.2-1.5 1.1-.8 1.2 1.3 1.1 .1 1.2-1.6 1.1 1.7 1.2-1.9 1.1 .1 1.2 .9 1.1-1.1 1.2 .4 1.1-.5 1.2-.3 1.1 .4 1.2-.3 1.1 .3 1.2-.1 1.1 0 1.2 1.8 1.1-2.7 1.2 .6 1.1-.3 1.2-.5 1.1-.4 1.2 .7 1.1-.9 1.2-.3 1.1 1.3 1.2-2.3 1.1 2.1 1.2 1.7 1.1-3.7 1.2-1 1.1 2 1.2-1 1.1 .2 1.2-1.4 1.1 2 1.2-.4 1.1-.5 1.2 .2 1.1 .3 1.2-.1 1.1 1.2 1.2-1.9 1.1-1.2 1.2 1.3 1.1-2.3 1.2 .1 1.1 1.4 1.2-.3 1.1 1.2 1.2 .4 1.1 0 1.2-2 1.1 1.9 1.2-.7 1.1-.4 1.2 .4 1.1 .2 1.2-1.5 1.1 .1 1.2 .7 1.1 1.8 1.2-2.4 1.1 2.2 1.2-2.3 1.1 3.3 1.2-3.5 1.1 0 1.2-2.9 1.1 4.2 1.2-1.8 1.1-.3 1.2-2 1.1-1.3 1.2 2.9 1.1-.7 1.2 5 1.1-2.6 1.2 .1 1.1-2.9 1.2 2.5 1.1-3 1.2-1.6 1.1 2.2 1.2 1.8 1.1-1.6 1.2-.9 1.1 .2 1.2 .9 1.1 1.7 1.2-3.1 1.1-.5 1.2 2.6 1.1-2.6 1.2 2.6 1.1 1.1 1.2-3.8 1.1 2.4 1.2-3 1.1 1.2 1.2-3.2 1.1-.8 1.2 2.9 1.1-2.3 1.2 3 1.1-3 1.2 2.9 1.1-3.4 1.2 1.3 1.1-3.1 1.2 2.8 1.1-5 1.2 3.4 1.1-.2 1.2-.2 1.1-.3M1166 1276.3l1.2 6.2 1.1-3.4 1.2-7 1.1 1.2 1.2 2.5 1.1-.9 1.2 4.9 1.1 0 1.2-3.8 1.1-.5 1.2-2.6 1.1 1.6 1.2-1.3 1.1-7.8 1.2 12.7 1.1-3.4 1.2-4.4 1.1 .4 1.2 1.1 1.1-1.8 1.2 7.9 1.1-3.5 1.2-.1 1.1-.1 1.2-2.7 1.1-1.9 1.2 4.5 1.1-2.4 1.2 7.3 1.1-10.5 1.2 10.6 1.1-7.2 1.2 2.2 1.1-1.9 1.2-3.6 1.1 4.3 1.2 .7 1.1-6.9 1.2 6.6 1.1-3.9 1.2 .4 1.1-1.9 1.2-.3 1.1 .2 1.2-1.3 1.1 9.5 1.2-11.7 1.1 8.9 1.2-7.6 1.1-12.5 1.2 15 1.1 .5 1.2-2.7 1.1 1.4 1.2-9.8 1.1 9.6 1.2-1.1 1.1-1.4 1.2 7 1.1-6.8 1.2-2.4 1.1-.1 1.2-4.3 1.1-.8 1.2-3.3 1.1 2.1 1.2-5.2 1.1 9.5 1.2-.5 1.1-2.6 1.2-.2 1.1-5.1 1.2 .2 1.1 6.4 1.2-3 1.1 2.6 1.2-3.4 1.1-.3 1.2 .1 1.1 1.4 1.2 1.9 1.1 .6 1.2-10.6 1.1-6.3 1.2 9.2 1.1 .8 1.2-9.1 1.1 2.5 1.2 9.7 1.1-11.5 1.2 7.5 1.1 1.3 1.2-10.4 1.1-6.3 1.2 6.9 1.1 16.4 1.2-18.2 1.1-1.2 1.2-6.7 1.1 4.8 1.2-1.9 1.1 2.8 1.2 1.6 1.1-5.5 1.2 6.8 1.1-7.5 1.2 10.5 1.1 1 1.2-3.5 1.1-8.2 1.2-10.3 1.1 5 1.2-13.8 1.1 21 1.2 11.9 1.1-45.3 1.2 30.4 1.1-15.3 1.2 0 1.1 10.4 1.2 0 1.1-10 1.2-7" stroke="#3db54a"/>
<path d="M687 1267.1l1.6 1.2 1.6 .2 1.6-.2 1.6-1.1 1.6 0 1.6 .5 1.6 .5 1.6-.8 1.6 .8 1.6-1.5 1.6 1.2 1.6 0 1.6 .1 1.6 .1 1.6-1.5 1.6 1.4 1.6 .3 1.6-.7 1.6 .2 1.6-.4 1.6 .3 1.6-.2 1.6 0 1.6-.1 1.6 .1 1.6 .3 1.6 .2 1.6-.8 1.6 .3 3 .3 3-.3 3 .4 3-.6 3 .7 3-.8 3 .1 3 .5 3-.3 3-.1 3 0 3-.2 3-.3 3 .3 3-.2 3 .6 3-.3 3-.3 3 0 3 .1 3-.8 3 .8 3-.1 3 .1 3-.5 3 .5 3-.4 3 .1 3-.3 3 .5 3-.3 3-.2 3-.1 3 .2 3-.2 3 .2 3-.2 3-.3 3 .1 3 .4 3-.2 3-.1 3-.4 3 .3 3-.4 3-.4 3 .4 3 .2 3 0 3-.3 3 .2 3-.3 3 .1 3-.2 3-.5 3-.3 3 .5 3-.1 3-.1 3-.2 3 .1 3-.2 1.6 .3 1.6-.4 1.6 0 1.6-.2 1.6 .2 1.6-.4 1.6 0 1.6 .3 1.6 .7 1.6-1 1.6-.6 1.6 1 1.6-.5 1.6-.4 1.6-.1 1.6 0 1.6 .5 1.6-.4 1.6-.3 1.6-.2 1.6 .4 1.6 .2 1.6-.8 1.6-.3 1.6 1.3 1.6-.5 1.6-.4 1.6-.7 1.6 .5 1.6-.8 1.6 .9 1.6-.5 1.6-.1 1.6-.1 1.6 .1 1.6 .1 1.6 .2 1.6-.8 1.6-.1 1.6-.3 1.6-.7 1.6 .8 1.6-.9 1.6-.2 1.6-.4 1.6 2.2 1.6-.2 1.6-.5 1.6-2 1.6 1.5 1.6-1.7 1.6-.4 1.6 .8 1.6 .9 1.6-.5 1.6-1.5 1.6 1.7 1.6-.9 1.6-.2 1.6-.2 1.1-2.1 1.2 2.9 1.1-.7 1.2-.7 1.1-.9 1.2 1.4 1.1 2.1 1.2-.3 1.1-3.1 1.2 3 1.1-1.4 1.2-1.3 1.1 .8 1.2-1.1 1.1-.1 1.2 .9 1.1-.6 1.2-.7 1.1 .9 1.2 .4 1.1-4.1 1.2 3.2 1.1-.3 1.2 1.2 1.1-2.2 1.2 .8 1.1 .5 1.2-.9 1.1-.4 1.2-.1 1.1 .8 1.2 0 1.1-.8 1.2-.3 1.1-2.7 1.2 2.8 1.1 2.2 1.2-2.5 1.1-1.3 1.2 1.7 1.1-1.2 1.2 .6 1.1-2.1 1.2 1.5 1.1 .3 1.2-1.9 1.1 .7 1.2 1.5 1.1-1.3 1.2-1.2 1.1 1.3 1.2-.3 1.1-.8 1.2 .4 1.1 0 1.2-.3 1.1-1.8 1.2 0 1.1 1.7 1.2-4.4 1.1 3.7 1.2 .6 1.1-1 1.2-3.1 1.1 3.3 1.2-1.2 1.1 3.3 1.2 .1 1.1-5.3 1.2 1.3 1.1 4.3 1.2-5.2 1.1 4.3 1.2-6 1.1 4.8 1.2-2 1.1-2.4 1.2 2.1 1.1-2.3 1.2 3.3 1.1-1.3 1.2 .1 1.1-4.6 1.2 5.5 1.1-4 1.2 .4 1.1 .7 1.2 .7 1.1 1.2 1.2-5.5 1.1 2.9 1.2 2.9 1.1-3.2 1.2-.4 1.1 .1 1.2-.4 1.1 .1 1.2 2.1 1.1-3.5 1.2 1 1.1-2.1 1.2 .1 1.1 .4 1.2-.4 1.1-3 1.2 3.6 1.1 .1 1.2-.5 1.1 .4 1.2 2.1 1.1-2.4 1.2-5.5 1.1 2.2 1.2 3 1.1-1.4 1.2-1.1 1.1 0 1.2 1.4 1.1-5.8 1.2 6 1.1-4.9 1.2 3.2 1.1 .5 1.2-1.1 1.1-2.8 1.2 2 1.1 0M1166 1239.5l1.2-7.5 1.1 8.1 1.2-2.4 1.1-2.1 1.2-3.3 1.1 11.5 1.2-2.1 1.1-7.4 1.2 4.7 1.1 .4 1.2 3.7 1.1-4.6 1.2-4.8 1.1 4.6 1.2-6.9 1.1 4.2 1.2-4.3 1.1 5.5 1.2 1.1 1.1 5.4 1.2-1.8 1.1-9.4 1.2-2.8 1.1 4.1 1.2 2.1 1.1-10.5 1.2 7.9 1.1 6 1.2-9.1 1.1-1.1 1.2 5 1.1-3.6 1.2-2.8 1.1 8.9 1.2-4.8 1.1 .7 1.2-5.7 1.1-.8 1.2 1.7 1.1-1.8 1.2 4.2 1.1-6.3 1.2 15.5 1.1-14.3 1.2-3.5 1.1 11.3 1.2-9.1 1.1 2.5 1.2-1.5 1.1 1.1 1.2-7 1.1 8.9 1.2-5.7 1.1 5.5 1.2-5.2 1.1-3.9 1.2 1.8 1.1-4.1 1.2-2.1 1.1 6 1.2-5.6 1.1-6.9 1.2 1.3 1.1 3.5 1.2-3 1.1 1.6 1.2-.6 1.1 15.4 1.2-6.7 1.1-5.1 1.2-2.3 1.1-3.6 1.2-5.1 1.1 7.8 1.2-8.2 1.1 2.4 1.2 .3 1.1-5.6 1.2-4.1 1.1-5.8 1.2 14.9 1.1 .8 1.2-2.5 1.1 4.4 1.2-3.6 1.1-5.3 1.2 10.4 1.1-9.5 1.2-5.5 1.1 9.1 1.2-10.3 1.1-6.1 1.2 11.9 1.1 4.7 1.2-9.3 1.1 7.9 1.2-11 1.1-17.6 1.2 13.2 1.1 13.2 1.2-16.4 1.1 3.1 1.2-11 1.1 12.8 1.2 1.2 1.1-16.1 1.2 11.4 1.1 9.6 1.2-.6 1.1-14.3 1.2 17.9 1.1-19.9 1.2 1 1.1-5.1 1.2 15.3 1.1-9.3 1.2-16.5 1.1 4.1 1.2 12.5 1.1 13.4 1.2-12.4 1.1-21.4 1.2 1.5" stroke="#a0672b"/>
<path d="M687 1196.4l1.6-.7 1.6 .6 1.6-.7 1.6 .6 1.6-.2 1.6 .1 1.6 .4 1.6-.2 1.6-.6 1.6 1.1 1.6-.7 1.6 .2 1.6 .1 1.6 .3 1.6-.4 1.6-.5 1.6 .1 1.6 .7 1.6 .2 1.6-.8 1.6 .6 1.6-.9 1.6 .4 1.6 .1 1.6 .1 1.6-.4 1.6-.2 1.6 .9 1.6-.3 3-.1 3 .3 3-.3 3-.2 3-.3 3 .8 3-.1 3 0 3-.3 3 0 3 0 3 .2 3-.2 3 0 3 .2 3-.3 3-.2 3-.3 3 .3 3 0 3-.2 3 .2 3-.2 3-.2 3 .4 3-.1 3 0 3-.1 3 0 3 .3 3-.4 3-.2 3 0 3 0 3 .1 3 0 3-.2 3-.1 3 .1 3-.4 3-.1 3-.2 3 .3 3-.5 3 .1 3 .2 3-.1 3 0 3-.2 3-.3 3 .3 3-.5 3 0 3 .3 3-.1 3-.3 3 .2 3-.2 3-.2 3 .1 3-.3 3-.6 1.6 1.1 1.6 0 1.6-.8 1.6 0 1.6-.1 1.6-.3 1.6 .2 1.6-.5 1.6 .1 1.6 .3 1.6-.5 1.6 .8 1.6-.1 1.6 0 1.6-1.5 1.6 .5 1.6 .1 1.6-.3 1.6 .7 1.6-.4 1.6-.7 1.6-.9 1.6 .9 1.6 .2 1.6-.3 1.6 .3 1.6-.9 1.6 .3 1.6-1.1 1.6 2.1 1.6-1 1.6 .1 1.6-.1 1.6-.5 1.6 .5 1.6 .4 1.6-.7 1.6-.3 1.6 1.6 1.6-2.1 1.6 .6 1.6-.2 1.6-.4 1.6 .8 1.6-1.9 1.6-1.3 1.6 2.9 1.6-1.1 1.6 .2 1.6 0 1.6 1.1 1.6-1.4 1.6-.9 1.6-.3 1.6 .5 1.6 .5 1.6-2.2 1.6 1 1.6 0 1.6-1.7 1.1 .9 1.2-.2 1.1 .1 1.2-1.3 1.1 1.2 1.2-.8 1.1 1.8 1.2-2.4 1.1 .6 1.2-1.6 1.1 2.3 1.2-3 1.1 1.1 1.2 .2 1.1-.9 1.2 1 1.1 1.6 1.2-4.1 1.1-.1 1.2 2.9 1.1-.3 1.2-.2 1.1-.7 1.2-.4 1.1-1.3 1.2 .5 1.1-2.7 1.2 1.3 1.1-.4 1.2 1.9 1.1-.8 1.2-.2 1.1-1.9 1.2 1.2 1.1-1.2 1.2 .4 1.1-3 1.2 3.8 1.1 .5 1.2-2.6 1.1 .4 1.2-.8 1.1 .6 1.2 2.1 1.1-2.7 1.2 1 1.1-2 1.2-.1 1.1 1.3 1.2-1.8 1.1 1.1 1.2 .3 1.1 .8 1.2 .3 1.1-2.5 1.2-2 1.1 1.3 1.2-1.2 1.1 1.5 1.2-1.7 1.1 .2 1.2-2.3 1.1-.7 1.2 2.8 1.1 1.8 1.2-2.1 1.1-3.3 1.2 3.8 1.1-2.6 1.2 2.3 1.1-1.9 1.2 .1 1.1-3.6 1.2 4.6 1.1-1 1.2-.1 1.1-1.9 1.2 3.3 1.1-.2 1.2-2.5 1.1 .3 1.2-.2 1.1-1.4 1.2 .6 1.1-.6 1.2-.4 1.1-.2 1.2 .1 1.1-.3 1.2 1.4 1.1-5.6 1.2 3.9 1.1-1.6 1.2 5.6 1.1-6 1.2 1.3 1.1-2 1.2 3 1.1-.4 1.2-2.2 1.1-1.5 1.2-1.2 1.1 4 1.2-1.6 1.1 2.2 1.2-4.4 1.1-1.1 1.2 1.3 1.1 .7 1.2 .7 1.1-2.5 1.2-.6 1.1 1 1.2-7.1 1.1 4.5 1.2 1.2 1.1-1.3 1.2-.7 1.1-1.7 1.2 5.9 1.1-.9 1.2-6.8 1.1 1.6 1.2-4.6 1.1 3.6 1.2 .8 1.1-5.5M1166 1157.6l1.2-4.6 1.1 2.2 1.2-.6 1.1-2.8 1.2 4.1 1.1-2.5 1.2 2.2 1.1-7.2 1.2-4.7 1.1 5.6 1.2-.4 1.1-5.3 1.2 .6 1.1 5.1 1.2-3.9 1.1-5.8 1.2 1.3 1.1-4.8 1.2 9.6 1.1 4.7 1.2-4.2 1.1-8.6 1.2 7.7 1.1-1.4 1.2 3.3 1.1-6 1.2 5 1.1-5.9 1.2 5.5 1.1-6.9 1.2 1.1 1.1 2.8 1.2-2.8 1.1-.2 1.2-4.3 1.1 4.2 1.2-2.2 1.1-1.6 1.2-1 1.1 6.8 1.2-5.4 1.1-4.3 1.2 .4 1.1-2.1 1.2 1.4 1.1 7.6 1.2-5 1.1-5.2 1.2-1.4 1.1 4.5 1.2-2.1 1.1 3 1.2-3.4 1.1-2.6 1.2-1.5 1.1 1.8 1.2-2.9 1.1-10.4 1.2 6.2 1.1-3.4 1.2 10.6 1.1-9.5 1.2 1.5 1.1 2 1.2-5.4 1.1 2.8 1.2 2.7 1.1-3.1 1.2-3.6 1.1 2 1.2 .5 1.1-8.1 1.2-.9 1.1 13.5 1.2-8.3 1.1-4 1.2 12.4 1.1-14.6 1.2-8.8 1.1 9.3 1.2 5.5 1.1-9.2 1.2-1.1 1.1-2.8 1.2-.9 1.1 13.3 1.2-11.3 1.1 9.5 1.2-6.6 1.1-3.5 1.2-3.7 1.1-1 1.2-6 1.1 3 1.2-20 1.1 16.2 1.2 4.8 1.1 13.3 1.2-22.3 1.1-1.8 1.2 2.1 1.1 0 1.2-2.1 1.1 12.9 1.2-19.2 1.1 11.7 1.2-8.5 1.1-22.5 1.2 30.7 1.1-14.1 1.2 16.5 1.1-15.8 1.2-.7 1.1-4.9 1.2-4.9 1.1 10.3 1.2-.1 1.1-1.2 1.2 .4 1.1 .9 1.2-6.6 1.1 2.6 1.2-5.2" stroke="#2e6cb3"/>
<path d="M687 1135.8l1.6-1.2 1.6 0 1.6 1.1 1.6-.9 1.6 1 1.6-.6 1.6-.4 1.6 .3 1.6-.2 1.6 .7 1.6-.6 1.6-.1 1.6 0 1.6 .1 1.6 .2 1.6-.2 1.6-.5 1.6 .6 1.6-.6 1.6 .9 1.6 .3 1.6-.8 1.6-.1 1.6 .5 1.6-.4 1.6 .7 1.6-.6 1.6-.3 1.6-.2 3 .4 3 0 3-.1 3-.7 3 .5 3 .3 3 .4 3-.4 3-.3 3 .3 3 0 3 .1 3-.4 3 .4 3-.2 3-.2 3-.1 3 0 3-.5 3 .4 3-.1 3 .2 3-.1 3-.3 3-.3 3 .4 3-.4 3-.2 3 .1 3 0 3-.3 3 .1 3 .3 3-.1 3-.3 3-.1 3-.1 3-.2 3 .4 3 .4 3-.2 3-.7 3 0 3 .3 3-.6 3 .1 3-.4 3 .5 3-.6 3 .3 3 .2 3-.5 3 0 3-.1 3-.4 3 0 3 .1 3 0 3-.7 3 .2 3 0 3 .2 1.6-.1 1.6-.3 1.6 .6 1.6-.6 1.6-.2 1.6 .2 1.6-1.2 1.6 .3 1.6 .4 1.6 .1 1.6-.4 1.6 .3 1.6-.1 1.6-.1 1.6-.4 1.6 .4 1.6-.4 1.6-.2 1.6 1 1.6-.2 1.6-.7 1.6-.3 1.6 .3 1.6-.8 1.6-.2 1.6 1.2 1.6-.7 1.6-.3 1.6-1.3 1.6 1.8 1.6 .5 1.6-1.1 1.6-.1 1.6 .5 1.6-.2 1.6-.8 1.6 .1 1.6-.3 1.6 1.3 1.6-1.4 1.6 .5 1.6 .6 1.6-1.7 1.6 1.7 1.6-1.5 1.6-.9 1.6 .5 1.6-1.4 1.6 1.6 1.6 .1 1.6-.8 1.6-1 1.6 .2 1.6-1.6 1.6 1.4 1.6-.3 1.6-.2 1.6 .6 1.6-.9 1.6-1 1.1 .2 1.2 .8 1.1 .3 1.2-1.4 1.1 1 1.2-.7 1.1-1.2 1.2-.3 1.1 1.4 1.2-.5 1.1 0 1.2-.6 1.1-.3 1.2 0 1.1-1.6 1.2 2.1 1.1-1.4 1.2 1.7 1.1-1.4 1.2 .2 1.1-.1 1.2-1.4 1.1 0 1.2 1.3 1.1-.7 1.2-1.3 1.1 1.4 1.2-2.3 1.1 .4 1.2 .3 1.1-.4 1.2 1 1.1-2 1.2 .7 1.1-1.2 1.2-.1 1.1-.3 1.2 .2 1.1-.1 1.2 0 1.1 .6 1.2-1.1 1.1-2.1 1.2 2.4 1.1-.4 1.2-2.6 1.1 2.4 1.2-.5 1.1-2.6 1.2 1.1 1.1 1.5 1.2-.7 1.1-2.1 1.2 .1 1.1 1.4 1.2-3.2 1.1 2.7 1.2-1.3 1.1 1.8 1.2-1.3 1.1 1.8 1.2-1.5 1.1-1 1.2-.3 1.1-.1 1.2-.6 1.1-1.3 1.2 0 1.1-.7 1.2 1.8 1.1 .2 1.2-1.5 1.1-.1 1.2 .7 1.1-2 1.2-1.3 1.1 1.4 1.2-1.7 1.1-.2 1.2 2.2 1.1-.8 1.2-.9 1.1-3.5 1.2 2.2 1.1-1.4 1.2 2.3 1.1-3.9 1.2 1.1 1.1 .8 1.2-1.3 1.1 2.7 1.2-3.2 1.1 .1 1.2 .7 1.1-.8 1.2-1.1 1.1-1.4 1.2-1.2 1.1 2 1.2-.4 1.1-.1 1.2-2.2 1.1-3.4 1.2 3.9 1.1-1.7 1.2 1.3 1.1-2.3 1.2 .6 1.1-.7 1.2-.8 1.1 .4 1.2 3.6 1.1-4.8 1.2 .6 1.1-.2 1.2-1.6 1.1-4.8 1.2 3.9 1.1 .3 1.2-2.3 1.1 .5 1.2-2.6 1.1 4.6 1.2-1.5 1.1-3.6 1.2 2.4 1.1-2.3M1166 1090.2l1.2 5.1 1.1-8.7 1.2-1.1 1.1-5 1.2 9.2 1.1-.7 1.2-2 1.1-2.2 1.2-2.9 1.1 1.7 1.2 3.9 1.1-9.5 1.2 7.3 1.1-1.6 1.2 1.4 1.1-1.8 1.2-2.6 1.1 1.9 1.2-2.8 1.1 10.2 1.2-8 1.1-2.7 1.2 1.1 1.1-2.4 1.2 4.1 1.1-2.5 1.2 1 1.1-6.1 1.2 2 1.1-.3 1.2-4.5 1.1 4.1 1.2 4.3 1.1-2.3 1.2-.7 1.1-.3 1.2-5.8 1.1 2.2 1.2-3.6 1.1 8.1 1.2-1.5 1.1-1.9 1.2-1.7 1.1-8.2 1.2 5.1 1.1-2.7 1.2 4.4 1.1-.8 1.2-6.4 1.1 2.6 1.2-.8 1.1-5.7 1.2 .4 1.1 1.1 1.2-5.2 1.1 3.1 1.2-.3 1.1 1.7 1.2 .5 1.1 .3 1.2-4.1 1.1 5 1.2-19 1.1 25 1.2-14.8 1.1 1.3 1.2 2.9 1.1-3.1 1.2-14.9 1.1 8.4 1.2-1.3 1.1 .6 1.2 4.2 1.1-2.8 1.2-4.3 1.1-2.3 1.2 7.8 1.1-9.2 1.2 11.3 1.1-9.7 1.2 1.7 1.1-12.8 1.2 11.4 1.1-3.4 1.2-1.6 1.1 .7 1.2 2.5 1.1-8.9 1.2 .5 1.1-4.9 1.2-.9 1.1 16 1.2-13.5 1.1-6.9 1.2 3.3 1.1-6.1 1.2 2.6 1.1 5 1.2-7.3 1.1-5.6 1.2-4.1 1.1 8.4 1.2-5.4 1.1-3.9 1.2 7 1.1-7.1 1.2 11.5 1.1-6.1 1.2-14.9 1.1 15.6 1.2-6 1.1 8.4 1.2-14.2 1.1-6.3 1.2-7.1 1.1 11.4 1.2-9.8 1.1 3.2 1.2 3.7 1.1-15.9 1.2 4.3 1.1 7.3 1.2-2.6" stroke="#861619"/>
<path d="M687 1094.2l1.6-.2 1.6 1 1.6-1.1 1.6 .1 1.6-.1 1.6 .6 1.6-.5 1.6 .7 1.6 .5 1.6-.5 1.6-.6 1.6 .3 1.6 0 1.6 .1 1.6-.4 1.6 0 1.6 .7 1.6-.5 1.6-.1 1.6 .3 1.6 .3 1.6-.5 1.6 .7 1.6-.7 1.6 .7 1.6-.5 1.6 .4 1.6-.8 1.6 .6 3-.6 3 .6 3-.2 3-.5 3 .5 3-.1 3-.1 3-.1 3 .1 3 .5 3-.2 3-.2 3 0 3-.1 3 0 3 0 3-.2 3-.1 3 0 3-.6 3 .5 3-.2 3-.1 3-.4 3 .5 3 0 3-.3 3-.3 3 .2 3 .1 3-.3 3-.1 3 .2 3-.4 3-.1 3 .2 3-.1 3-.2 3 0 3-.3 3 1 3-.7 3-.2 3-.2 3-.1 3 0 3-.1 3 0 3 .1 3-.5 3 .2 3 .3 3-.5 3-.2 3 .2 3 .1 3-.4 3 0 3-.1 3-.6 3 .4 3-1 1.6 .4 1.6 .2 1.6-.1 1.6 .6 1.6 0 1.6-1.1 1.6 .4 1.6-.3 1.6-.1 1.6 .4 1.6-.7 1.6 1 1.6-.9 1.6-.1 1.6 0 1.6 .3 1.6-.9 1.6 .6 1.6-.2 1.6 1.3 1.6-1 1.6-.2 1.6-.1 1.6-.3 1.6 .7 1.6-1.2 1.6 .7 1.6-.3 1.6 .3 1.6-.9 1.6-.3 1.6 .3 1.6-.6 1.6-.4 1.6-.8 1.6 1.2 1.6 .8 1.6-1.1 1.6-.4 1.6 .7 1.6-.4 1.6-.5 1.6 .8 1.6-.2 1.6 1 1.6-1.1 1.6-.2 1.6-1.3 1.6 .9 1.6-1 1.6 0 1.6 .1 1.6-.8 1.6 0 1.6-1.4 1.6 .7 1.6-1.3 1.6 1.3 1.6-1 1.6-.6 1.1 1 1.2-.3 1.1 .9 1.2 .4 1.1-2 1.2-.5 1.1 1.6 1.2-1.1 1.1-1 1.2 .5 1.1-.5 1.2-.2 1.1-1.3 1.2 1.6 1.1-.2 1.2-.9 1.1-.2 1.2-.5 1.1-1.4 1.2 1.6 1.1-2.6 1.2 .1 1.1 .5 1.2 .8 1.1 0 1.2 .4 1.1-.8 1.2-.1 1.1-.6 1.2 .3 1.1-1.3 1.2 0 1.1-1.7 1.2 2 1.1-.3 1.2-1.6 1.1-.1 1.2 .9 1.1 3.1 1.2-.2 1.1-3.3 1.2-1 1.1 2 1.2-2.2 1.1 .9 1.2-4.4 1.1 3.8 1.2-1.2 1.1 .7 1.2-2.1 1.1 3.2 1.2-2.2 1.1-1.6 1.2 .1 1.1 1.7 1.2-.2 1.1-2.1 1.2 2 1.1-2.8 1.2-.7 1.1 2.8 1.2-.4 1.1-3.7 1.2 2.6 1.1-1.6 1.2-1.2 1.1 2.3 1.2 .5 1.1-3.2 1.2 1.1 1.1 .1 1.2-.2 1.1-.7 1.2-.4 1.1-1.6 1.2 3.8 1.1-3.6 1.2 3.7 1.1-4.9 1.2 2.8 1.1-3.1 1.2-3.6 1.1 .9 1.2 3.1 1.1 .1 1.2 1 1.1-4.1 1.2 1.4 1.1 1.4 1.2-1.5 1.1-2.5 1.2-2.5 1.1 4.4 1.2-.5 1.1 .2 1.2-2.9 1.1-.6 1.2 .2 1.1 2.5 1.2-1.3 1.1 2.2 1.2-3.5 1.1 1.1 1.2-1.5 1.1-.4 1.2-2.5 1.1 1.9 1.2-2.7 1.1 2.5 1.2-1.9 1.1-.6 1.2 1.6 1.1-6.2 1.2 4.2 1.1-1.3 1.2 1.9 1.1-4.1 1.2 2.6 1.1 .3 1.2 1.1 1.1-2.4 1.2-1.5 1.1 .1 1.2-2.1 1.1 1.1 1.2-1 1.1-1.6M1166 1051.6l1.2-5.7 1.1-.1 1.2 2.9 1.1-3.7 1.2 4.8 1.1-8.6 1.2 .4 1.1 3.3 1.2 1.1 1.1-2.3 1.2 .2 1.1-5 1.2 5 1.1-4 1.2 3.4 1.1-3.7 1.2 3.1 1.1-4.6 1.2 1.6 1.1 1.5 1.2-1.9 1.1-1.2 1.2 3.6 1.1-3.8 1.2-3 1.1 9.5 1.2-5.4 1.1 2.4 1.2-9.3 1.1 4.1 1.2 .4 1.1 8.7 1.2-12.9 1.1-.5 1.2-1.2 1.1 1.1 1.2-2.3 1.1 1.3 1.2 4.4 1.1-3.4 1.2-1 1.1-1.7 1.2 1 1.1-4.3 1.2 4.9 1.1-11.7 1.2-.2 1.1 3.1 1.2-2.3 1.1-1.9 1.2 7.2 1.1 8.5 1.2-15.4 1.1 8.3 1.2-7.2 1.1-7.5 1.2 2 1.1 1.5 1.2 4.6 1.1-3 1.2 .5 1.1-4 1.2 9.8 1.1-10.8 1.2-2.2 1.1-1.8 1.2-7.9 1.1 8.3 1.2-3.9 1.1-7.2 1.2 11.4 1.1-7.9 1.2 .9 1.1 7.1 1.2-15.1 1.1 11.7 1.2-9.2 1.1-9.9 1.2 9.1 1.1 1.4 1.2-4.5 1.1-13.5 1.2 .6 1.1 .7 1.2 9.4 1.1-14.2 1.2-4.8 1.1 6.4 1.2 8.4 1.1-10.5 1.2 .1 1.1-4.2 1.2-9.8 1.1 5.1 1.2-4.9 1.1 11.9 1.2-5.3 1.1 3.3 1.2-11.2 1.1 2.3 1.2-1 1.1 .1 1.2-3.7 1.1-3 1.2-14.1 1.1 12.6 1.2-18 1.1 11.3 1.2-4 1.1 5.8 1.2-7.3 1.1 7.6 1.2-9.1 1.1 8 1.2-22.5 1.1 26.2 1.2-5.7 1.1-21.3 1.2 2 1.1-5.9 1.2 7.3 1.1-2.5 1.2-2.9" stroke="#7a5bb0"/>
<path d="M687 1032.6l1.6 .2 1.6 .2 1.6 .3 1.6 .5 1.6-.5 1.6-.8 1.6 .9 1.6 0 1.6 .5 1.6-.2 1.6 .3 1.6 .7 1.6-.5 1.6-.2 1.6 0 1.6 .1 1.6-.1 1.6 1.6 1.6-1.1 1.6-.1 1.6 .3 1.6-.2 1.6 0 1.6 .1 1.6 .2 1.6-.1 1.6 0 1.6-1 1.6 1.4 3-1 3-.4 3 .9 3-.1 3-1.1 3-.3 3-.5 3-.2 3-1.5 3-.4 3-.7 3-.4 3-.4 3-.9 3 .2 3-.1 3 .6 3-.2 3 0 3 .3 3 0 3 .1 3 .2 3 0 3-.2 3 .9 3 .4 3-.2 3 .5 3-.6 3 .8 3-.4 3 .1 3 .2 3-.3 3 .6 3-.5 3 .2 3-.5 3 .2 3-.1 3 0 3 .2 3-.2 3 .3 3-.6 3 .5 3-.6 3 .1 3 .4 3-.6 3 .4 3-.6 3 0 3-.7 3 .7 3-.1 3 .2 3-.3 3-.3 3 .1 3 .1 1.6-.2 1.6-.1 1.6-.2 1.6 0 1.6-.1 1.6-.4 1.6-.2 1.6 .8 1.6-.6 1.6 .3 1.6 .2 1.6 0 1.6-.3 1.6 .1 1.6-.5 1.6-.3 1.6 .4 1.6-.5 1.6-.2 1.6 .2 1.6 .1 1.6-.1 1.6 .5 1.6-.9 1.6 0 1.6-.1 1.6 .1 1.6 .6 1.6-1.1 1.6 .3 1.6-.1 1.6 .6 1.6-1.3 1.6 .6 1.6-.7 1.6-.4 1.6 .4 1.6-.4 1.6 1 1.6-.3 1.6-.6 1.6-.2 1.6-.7 1.6 2.3 1.6-1.8 1.6-.6 1.6-.6 1.6 .4 1.6-.5 1.6-.2 1.6 .2 1.6 .1 1.6-.2 1.6-1 1.6-.7 1.6-.6 1.6 1.3 1.6-.1 1.6-.5 1.6-3.4 1.1 1.3 1.2 .1 1.1-.2 1.2-.3 1.1-.4 1.2 .6 1.1-.9 1.2-1.2 1.1 1.3 1.2 .4 1.1-.7 1.2 .3 1.1-.9 1.2-.8 1.1-1 1.2 .5 1.1 1.4 1.2-1.3 1.1-2.1 1.2 1.7 1.1-.9 1.2 .7 1.1-.9 1.2 .5 1.1-1.2 1.2-.3 1.1-.7 1.2 .1 1.1 1.1 1.2 0 1.1-1.9 1.2-.4 1.1 1.3 1.2-1.5 1.1 0 1.2 .8 1.1-1.4 1.2-1.4 1.1-2.1 1.2 1.3 1.1-.3 1.2 2.4 1.1 .8 1.2-2 1.1-.4 1.2 1.7 1.1-1.9 1.2-2.5 1.1 1.9 1.2-2.8 1.1 2.5 1.2 2.7 1.1-1.7 1.2-1 1.1 0 1.2 1.2 1.1-2.6 1.2-.6 1.1 1.1 1.2-1.2 1.1 0 1.2 1.5 1.1-1.5 1.2 1.2 1.1-1.4 1.2 1.4 1.1-2.7 1.2 .7 1.1 1.2 1.2-1.7 1.1 .1 1.2-2 1.1 3.3 1.2-3.5 1.1 1.2 1.2 .3 1.1 .8 1.2-.9 1.1-.3 1.2 1 1.1-.4 1.2-1.7 1.1-2.6 1.2 2.4 1.1 1 1.2-.7 1.1 1.5 1.2 .4 1.1-5.1 1.2 1.5 1.1 .7 1.2-1.8 1.1-.2 1.2 1.6 1.1-2.5 1.2 1.4 1.1 .2 1.2-.1 1.1-3.2 1.2 2 1.1-.3 1.2 2.3 1.1 .6 1.2-4.1 1.1 .3 1.2 1.7 1.1-5.9 1.2 1.9 1.1-3.1 1.2 3.2 1.1-1.7 1.2 .8 1.1 4.1 1.2-4.1 1.1-1.7 1.2-.6 1.1-2 1.2 1.7 1.1 .6 1.2-2.5 1.1 .3 1.2-.5 1.1-2.4 1.2 .7 1.1-.5 1.2 .9 1.1-4M1166 994.6l1.2-3.1 1.1 3.8 1.2-18.1 1.1 6.4 1.2-1.9 1.1-.1 1.2 4.8 1.1-5.1 1.2-.1 1.1 4.2 1.2-3.9 1.1-5 1.2 2.9 1.1 1.7 1.2-3.1 1.1-.6 1.2 3.8 1.1-10.8 1.2 7.8 1.1-3 1.2 .3 1.1-.5 1.2 .3 1.1 1.4 1.2-1.7 1.1-4.7 1.2 2.6 1.1-4.7 1.2 4.1 1.1 1.8 1.2-3 1.1-3.5 1.2 .5 1.1 3.6 1.2-4 1.1-6.7 1.2 4.2 1.1 3.5 1.2-6.5 1.1 2.1 1.2-.9 1.1-.5 1.2 9.6 1.1-11.8 1.2-4.9 1.1 2.3 1.2 2.5 1.1-4.9 1.2 8.1 1.1-8.2 1.2-6.5 1.1 2 1.2-8.1 1.1 12.4 1.2-2.6 1.1-3.4 1.2-7.9 1.1 3.6 1.2-.9 1.1 7.5 1.2-5.1 1.1-.7 1.2 5.4 1.1-7.3 1.2-2.2 1.1 4.2 1.2-7.9 1.1 4.6 1.2-15.4 1.1 4.2 1.2 4.5 1.1 .3 1.2-15.1 1.1 10.3 1.2-10.1 1.1 5.7 1.2 2.6 1.1-6.3 1.2 1.7 1.1-3 1.2-7.3 1.1-1.9 1.2 5.7 1.1-3 1.2-4.9 1.1-5.7 1.2 2 1.1 .8 1.2-3.1 1.1 10.8 1.2-13 1.1-3.2 1.2-3.2 1.1 8.1 1.2-7.3 1.1-3.5 1.2-6.5 1.1-4.3 1.2 9.1 1.1-17.7 1.2 6.2 1.1-3.9 1.2-4.7 1.1 3.5 1.2-3.6 1.1-2.3 1.2 7.1 1.1-16.3 1.2-3.7 1.1-.8 1.2 3.4 1.1-19.9 1.2 6.5 1.1 8.3 1.2-24.5 1.1 8.6 1.2 6.9 1.1-10.9 1.2 6.5 1.1-19.5 1.2 6.9 1.1 .9 1.2-6 1.1-2 1.2-5.8 1.1 1 1.2-14.2 1.1 14.9 1.2-16.4 1.1-12.5 1.2 33.9 1.1-26.6 1.2 12.5 1.1-1.6 1.2-11.6 1.1 11.4 1.2-4.7 1.1 12.9 1.2 5.7 1.1-9.3 1.2 14.1 1.1-14.3 1.2 2" stroke="#0a0a0a"/>
</g>
<line x1="694.5" y1="751.4" x2="694.5" y2="764.4" stroke="#000" stroke-width="3"/>
<line x1="694.5" y1="1313.6" x2="694.5" y2="1300.6" stroke="#000" stroke-width="3"/>
<line x1="774.6" y1="751.4" x2="774.6" y2="758.4" stroke="#000" stroke-width="3"/>
<line x1="774.6" y1="1313.6" x2="774.6" y2="1306.6" stroke="#000" stroke-width="3"/>
<line x1="854.7" y1="751.4" x2="854.7" y2="764.4" stroke="#000" stroke-width="3"/>
<line x1="854.7" y1="1313.6" x2="854.7" y2="1300.6" stroke="#000" stroke-width="3"/>
<line x1="934.8" y1="751.4" x2="934.8" y2="758.4" stroke="#000" stroke-width="3"/>
<line x1="934.8" y1="1313.6" x2="934.8" y2="1306.6" stroke="#000" stroke-width="3"/>
<line x1="1014.9" y1="751.4" x2="1014.9" y2="764.4" stroke="#000" stroke-width="3"/>
<line x1="1014.9" y1="1313.6" x2="1014.9" y2="1300.6" stroke="#000" stroke-width="3"/>
<line x1="1095" y1="751.4" x2="1095" y2="758.4" stroke="#000" stroke-width="3"/>
<line x1="1095" y1="1313.6" x2="1095" y2="1306.6" stroke="#000" stroke-width="3"/>
<line x1="1175.1" y1="751.4" x2="1175.1" y2="764.4" stroke="#000" stroke-width="3"/>
<line x1="1175.1" y1="1313.6" x2="1175.1" y2="1300.6" stroke="#000" stroke-width="3"/>
<line x1="1255.2" y1="751.4" x2="1255.2" y2="758.4" stroke="#000" stroke-width="3"/>
<line x1="1255.2" y1="1313.6" x2="1255.2" y2="1306.6" stroke="#000" stroke-width="3"/>
<line x1="645.5" y1="1218.8" x2="653.5" y2="1218.8" stroke="#000" stroke-width="2.4"/>
<line x1="645.5" y1="1125.3" x2="657.5" y2="1125.3" stroke="#000" stroke-width="2.4"/>
<line x1="1336.4" y1="1125.3" x2="1324.4" y2="1125.3" stroke="#000" stroke-width="2.4"/>
<line x1="645.5" y1="1031.8" x2="653.5" y2="1031.8" stroke="#000" stroke-width="2.4"/>
<line x1="645.5" y1="938.3" x2="657.5" y2="938.3" stroke="#000" stroke-width="2.4"/>
<line x1="1336.4" y1="938.3" x2="1324.4" y2="938.3" stroke="#000" stroke-width="2.4"/>
<line x1="645.5" y1="844.8" x2="653.5" y2="844.8" stroke="#000" stroke-width="2.4"/>
<path d="M645.5 750.4V1313.6H1336.4V750.4" fill="none" stroke="#000" stroke-width="3" stroke-linejoin="miter"/>
<line x1="644" y1="751.4" x2="1337.9" y2="751.4" stroke="#000" stroke-width="2.1"/>
<text transform="translate(1347.54 1324.78) scale(0.9100 1)" font-size="50.80" letter-spacing="-1.85">0.0</text>
<text transform="translate(1347.54 1137.78) scale(0.9100 1)" font-size="50.80" letter-spacing="-1.41">0.2</text>
<text transform="translate(1347.54 950.78) scale(0.9100 1)" font-size="50.80" letter-spacing="-2.42">0.4</text>
<text transform="translate(1483.00 1123.95) rotate(-90) scale(1.0849 1)" font-size="94.08" font-style="italic">R</text>
<rect x="645.5" y="1414.4" width="690.9" height="562.3" fill="#fff"/>
<clipPath id="clf"><rect x="645.5" y="1414.4" width="690.9" height="564.3"/></clipPath>
<g clip-path="url(#clf)" fill="none" stroke-width="5.6" stroke-linejoin="miter" stroke-miterlimit="7">
<path d="M687 1710.7l1.6-.4 1.6-.8 1.6-.2 1.6 .4 1.6-1.9 1.6 1.1 1.6 0 1.6-.9 1.6 .1 1.6 .4 1.6-.5 1.6 .4 1.6-1.4 1.6 1.3 1.6-.2 1.6-.7 1.6 1 1.6-1.3 1.6-.2 1.6 .4 1.6 0 1.6 0 1.6-.2 1.6 1.3 1.6-1.1 1.6-.3 1.6 .9 1.6 .7 1.6-1 3 2.1 3-1.1 3 .1 3 .5 3-.1 3 .8 3 .7 3 .8 3-.5 3 1.3 3 1.2 3 .3 3 .3 3 .9 3 .8 3 .9 3 0 3 2.9 3-.2 3 .9 3 1.7 3 1.6 3 1.2 3 2.8 3 1 3 1.5 3 2.2 3 1.6 3 1.9 3 2.3 3 2.6 3 1 3 3.2 3 2 3 2.4 3 1.7 3 1.8 3 2.3 3 1.9 3 1.8 3 2.1 3 2.3 3 1.6 3 1.8 3 1.6 3 1.8 3 2 3 .5 3 2.2 3 1.7 3 1.6 3 1.3 3 1.2 3 1.6 3 1.5 3 .5 3 1.8 3 1.4 3-.5 3 1.5 3 .8 3-.3 1.6 1.5 1.6 1.1 1.6 0 1.6 .5 1.6-1.1 1.6 .7 1.6 .5 1.6 1.4 1.6-.3 1.6-.2 1.6 .1 1.6 .2 1.6-.3 1.6 1.1 1.6 .2 1.6 .1 1.6-.5 1.6 1.1 1.6-.2 1.6-.6 1.6 0 1.6 .1 1.6-.1 1.6 1.8 1.6-1.6 1.6 2.2 1.6-.6 1.6 1 1.6-1.3 1.6 .8 1.6 .1 1.6 1 1.6 .8 1.6-.7 1.6 0 1.6 1.4 1.6 .7 1.6-1.4 1.6-.2 1.6-.3 1.6 1.4 1.6 .6 1.6 1.3 1.6-1.7 1.6 .6 1.6 2.9 1.6-1.6 1.6-2.7 1.6 1.8 1.6 1.2 1.6 2.4 1.6-1.7 1.6 1.3 1.6 .7 1.6 1.2 1.6 .2 1.6 .2 1.6-1 1.6 2.3 1.6-1.5 1.1 2.8 1.2-2.8 1.1 .9 1.2 3.6 1.1 .6 1.2-2.5 1.1 1.9 1.2 1.4 1.1-.7 1.2 2.3 1.1-2.1 1.2 2 1.1-.1 1.2 .7 1.1 .2 1.2 2.2 1.1-.8 1.2 4.4 1.1-6.5 1.2 1 1.1 2.7 1.2 1.7 1.1-1.9 1.2 1.4 1.1 .2 1.2-2.3 1.1 3.8 1.2 2.3 1.1-1.1 1.2-1.1 1.1 1.7 1.2-1.1 1.1 .5 1.2 .9 1.1-3.2 1.2 5.3 1.1-3.2 1.2 1.4 1.1 2.9 1.2 2.2 1.1-1.8 1.2 .1 1.1 4 1.2 .2 1.1-3.8 1.2 2.8 1.1-1.6 1.2 1.5 1.1 3.8 1.2-1.1 1.1 1.8 1.2 1.8 1.1-4 1.2 6.5 1.1 1.1 1.2-6.1 1.1 1.2 1.2 1.9 1.1 3.6 1.2-.1 1.1-3.4 1.2 4.7 1.1-.9 1.2 2.5 1.1-2.5 1.2 3.4 1.1 2.8 1.2 1.9 1.1-3.5 1.2-.1 1.1 1.7 1.2 2.5 1.1 5.2 1.2-5.3 1.1 1.6 1.2-1.2 1.1 2.1 1.2-2.2 1.1 5.5 1.2 2 1.1-2.3 1.2 2.8 1.1-6 1.2 5.9 1.1-1.4 1.2 3.5 1.1 2 1.2-.7 1.1 2.4 1.2 1.5 1.1-4 1.2 2.1 1.1 1.5 1.2-5.5 1.1 10.8 1.2-3.1 1.1 2.3 1.2 0 1.1 3.2 1.2-2.9 1.1 1.7 1.2-2.6 1.1 1.4 1.2 4.9 1.1 .6 1.2-2.9 1.1-1.2 1.2-.8 1.1 4.6 1.2-4.4 1.1 5.7 1.2-2.6 1.1 1.6 1.2-1.3 1.1-1.4 1.2 .2 1.1 3.8 1.2-3.4 1.1 7.1 1.2-7.4 1.1 6.5 1.2-2.8 1.1-.6 1.2-4.3 1.1 2 1.2 2.4 1.1 1.4M1166 1875.4l1.2 2.3 1.1-3.5 1.2-2 1.1 .6 1.2 15.8 1.1-23.5 1.2 8.8 1.1-5.5 1.2 3.5 1.1-.3 1.2-15.5 1.1 25.6 1.2-11.3 1.1 4 1.2 1.8 1.1-11.6 1.2 11.2 1.1-9.3 1.2 1.3 1.1 4.3 1.2-3.2 1.1 1.1 1.2 2 1.1-8.8 1.2 3.1 1.1-.1 1.2-8.7 1.1 25.1 1.2-8.9 1.1-4 1.2-7.6 1.1 10.5 1.2 1.5 1.1-4.6 1.2 3.4 1.1-9.1 1.2 1.6 1.1-2.4 1.2 12.7 1.1-6.7 1.2 3.5 1.1 2.7 1.2-1.5 1.1-8.1 1.2 6.5 1.1-16.4 1.2 7.9 1.1 2.9 1.2-1.8 1.1-5.1 1.2-2.6 1.1 28.9 1.2-20.5 1.1 11.2 1.2-12.9 1.1-.6 1.2 4.5 1.1-7.5 1.2 14.5 1.1-8.8 1.2 4.5 1.1-3.9 1.2-3.2 1.1-4.5 1.2 11.2 1.1 1 1.2 6.1 1.1 11.3 1.2-25.7 1.1 12.3 1.2-2.5 1.1-3.5 1.2 9.9 1.1-9.3 1.2-2.4 1.1 4 1.2 9.7 1.1-11.4 1.2-3.4 1.1 12.4 1.2-15.5 1.1 21.2 1.2-19 1.1-2.8 1.2-1.5 1.1 2.1 1.2-1.9 1.1 8.5 1.2 24.9 1.1-11.6 1.2-7.3 1.1-1 1.2 5.1 1.1-16.7 1.2 2.1 1.1-15.1 1.2 8 1.1 2.9 1.2 28.5 1.1-13.8 1.2-7 1.1 8.7 1.2-4.4 1.1-7.8 1.2-5.9 1.1 5.9 1.2 2.2 1.1 1.4 1.2-2.3 1.1 3.2 1.2 10 1.1-14.1 1.2 12.1 1.1-20.1 1.2 20.1 1.1 5.2 1.2-11.2 1.1-6.3 1.2-13.1 1.1 8.1 1.2 8 1.1 11.6 1.2-10.1" stroke="#0a0a0a"/>
<path d="M687 1683.4l1.6-2.1 1.6 .1 1.6 .7 1.6-1.1 1.6 .3 1.6-1.3 1.6 1.3 1.6-1.6 1.6 1.6 1.6 .5 1.6-1.2 1.6-.9 1.6 1.5 1.6-.4 1.6 .9 1.6-1.6 1.6 1.6 1.6-.2 1.6-.4 1.6 .5 1.6 0 1.6-1.5 1.6 1 1.6 .4 1.6-.4 1.6 .3 1.6 0 1.6 .2 1.6 .8 3 0 3 .8 3-1.2 3-1 3 .4 3 .8 3-.2 3-.1 3-.1 3 0 3-.1 3-.1 3 .8 3-.1 3-.1 3 .2 3-.1 3 1.1 3-.4 3 1.1 3 .4 3 .9 3 .6 3 .8 3 .9 3 1.4 3 .3 3 1.4 3 1.3 3 1.4 3 2.4 3 .7 3 2.1 3 1.1 3 2.9 3 .9 3 2.2 3 1 3 1.5 3 2.2 3 1.9 3 2.5 3 1.8 3 1.9 3 1.8 3 2.5 3 2.3 3 3.1 3 2.1 3 2.9 3 2 3 2.8 3 2.8 3 2.8 3 1.5 3 2.6 3 2.2 3 2.9 3 1.7 3 1.3 3 3.6 3 2.4 1.6 .4 1.6 1.4 1.6 1.3 1.6 .8 1.6 1.8 1.6 .6 1.6 1.7 1.6-.4 1.6 1.9 1.6 1.3 1.6 1.1 1.6 .2 1.6 2.1 1.6 .8 1.6 .2 1.6 .4 1.6 1.7 1.6 .3 1.6 .5 1.6 .5 1.6 1.6 1.6 .6 1.6 .7 1.6 .3 1.6 .6 1.6 1 1.6 .2 1.6 1.2 1.6-1.8 1.6 2.6 1.6 1.2 1.6 .3 1.6 .6 1.6-.8 1.6 1.9 1.6-1.5 1.6 1.3 1.6 1.8 1.6-3 1.6 2.3 1.6 .1 1.6-.7 1.6 2.1 1.6-2.7 1.6 .5 1.6 .5 1.6 1.5 1.6-1.3 1.6 .4 1.6 .5 1.6 2.6 1.6-1.4 1.6-1.9 1.6-.9 1.6 .9 1.6-.2 1.6 .9 1.6-1.7 1.6 2.6 1.6-3.4 1.1 3.5 1.2-2.9 1.1-.3 1.2 2.4 1.1-2.3 1.2 2.9 1.1 .5 1.2-1.6 1.1 2.1 1.2-5.2 1.1 3.1 1.2-1.3 1.1 1.2 1.2-3.3 1.1 5 1.2 .6 1.1-1.4 1.2-.5 1.1-.6 1.2 2.3 1.1 .3 1.2 0 1.1-2.3 1.2 1.4 1.1-.9 1.2 4.4 1.1 1.3 1.2-6.4 1.1 6.2 1.2-1.6 1.1-2.7 1.2 .6 1.1 2.8 1.2-1.2 1.1-2.4 1.2 .3 1.1 3 1.2-1.4 1.1-1.4 1.2 1.2 1.1 0 1.2 .1 1.1-1.8 1.2 4 1.1-1.4 1.2-1 1.1 1.5 1.2 .3 1.1-.2 1.2 .1 1.1-.9 1.2-2.3 1.1 6.5 1.2-2.8 1.1-.1 1.2 1.2 1.1 1.2 1.2 3 1.1-2.6 1.2-2.9 1.1-2 1.2 8 1.1-2.4 1.2 .4 1.1 1.8 1.2 3.6 1.1-6.1 1.2 2.8 1.1 1.8 1.2-4.1 1.1 4.2 1.2 2.4 1.1 1.5 1.2-3.1 1.1 6.2 1.2-5.4 1.1 7.2 1.2 .3 1.1-3.1 1.2-3.5 1.1 4.3 1.2 .7 1.1 1.1 1.2 4.3 1.1-3.8 1.2-2.5 1.1 3 1.2 2.3 1.1 2.3 1.2-.7 1.1 .6 1.2 5 1.1-.6 1.2-3.6 1.1 3.5 1.2-.2 1.1 1.2 1.2-1 1.1-.5 1.2 6.7 1.1-3.9 1.2 3.4 1.1-1.3 1.2 1.6 1.1 1.5 1.2 .8 1.1 2 1.2 1.2 1.1-3.5 1.2 .9 1.1 4.1 1.2 2.9 1.1-8.1 1.2 6.5 1.1-2.4 1.2-.4 1.1 3 1.2 2.1 1.1 .4 1.2 1.1 1.1-1 1.2 1.3 1.1-3.5 1.2 2.7 1.1 5.6 1.2-5.2 1.1 1.1M1166 1838.6l1.2 9.5 1.1-1.3 1.2 5.4 1.1-10.5 1.2 7.6 1.1-6.1 1.2 2.5 1.1 9.7 1.2-9.9 1.1-1 1.2 10 1.1 2.7 1.2-2.1 1.1 1.4 1.2 5.2 1.1-2.6 1.2-.8 1.1 2.8 1.2 3.4 1.1-4.5 1.2 .7 1.1-4.9 1.2 .5 1.1 4.3 1.2 1.3 1.1-7.7 1.2-1.3 1.1 8.8 1.2 1.2 1.1 4.8 1.2-10.7 1.1 2.2 1.2 3.2 1.1-2.2 1.2 3 1.1 16.7 1.2-12.7 1.1-9.7 1.2-1.4 1.1 4.1 1.2-2.4 1.1 3.1 1.2 1.4 1.1 5 1.2-14.8 1.1 11.3 1.2 3.6 1.1-7.5 1.2 8.3 1.1 1.4 1.2 2.3 1.1-16.4 1.2 6.2 1.1-13.1 1.2 20.7 1.1 7.3 1.2-11.6 1.1 1.7 1.2 6.2 1.1 5.5 1.2-13.2 1.1 5 1.2 1.3 1.1-6.1 1.2 2.1 1.1-.6 1.2-1.6 1.1 1.5 1.2 1 1.1-.5 1.2 8.5 1.1-12.2 1.2 4.9 1.1 2.8 1.2 2.7 1.1-10.3 1.2-5.6 1.1 10.3 1.2-4 1.1 3.2 1.2 12 1.1-18 1.2 .3 1.1 13.1 1.2-1.6 1.1-3.9 1.2 3 1.1 1.2 1.2-4.4 1.1 2.8 1.2 .8 1.1 5.7 1.2-18.2 1.1 16.8 1.2-7 1.1 .8 1.2-13.4 1.1 14.2 1.2 16.6 1.1-21.4 1.2 11.7 1.1-6.1 1.2-7.6 1.1 12.1 1.2-9.3 1.1-.2 1.2-13 1.1-6.3 1.2 14.4 1.1-.4 1.2 0 1.1 21.4 1.2-37.4 1.1 38 1.2 1.1 1.1-8.9 1.2 2.6 1.1-11.2 1.2 40.4 1.1-37 1.2 21.5 1.1-32.6 1.2 18.6" stroke="#252b7c"/>
<path d="M687 1629l1.6-1.7 1.6 1.1 1.6-.8 1.6 1.2 1.6 1.1 1.6-.6 1.6 .3 1.6-.2 1.6 .2 1.6 .4 1.6-1.3 1.6 1.8 1.6 .5 1.6 .6 1.6 .7 1.6-.2 1.6 .6 1.6 .3 1.6 .6 1.6-1.9 1.6 2.1 1.6 .7 1.6-.1 1.6 .8 1.6 .4 1.6 .8 1.6 .8 1.6-.8 1.6 .2 3 .1 3 .5 3 .6 3-1.4 3 1.3 3 1 3-.6 3 .8 3 .1 3-.5 3-.3 3-.2 3 .3 3 .3 3-.3 3-.3 3 .7 3-.1 3 0 3 .2 3 0 3 .3 3-.4 3 1.1 3 .5 3 .7 3 .2 3-.2 3 1 3 .2 3 .3 3-.1 3 1 3 .7 3 .8 3 .5 3 .9 3 1.1 3 .3 3 1.3 3 1.1 3 1.1 3 .9 3 1 3 1.6 3 1.9 3 1.6 3 2.1 3 2 3 1.8 3 2.6 3 1.7 3 1.8 3 2 3 3.1 3 2.8 3 1.7 3 3.3 3 2.5 3 2.8 3 1.1 3 3.2 1.6 2.2 1.6 .9 1.6 1.8 1.6 1.4 1.6 .5 1.6 2.6 1.6-.1 1.6 2.6 1.6 2 1.6 1.2 1.6 1.4 1.6 1.4 1.6 2.3 1.6 .5 1.6 1.6 1.6 2.2 1.6 .4 1.6 3.8 1.6 .3 1.6 1.9 1.6 .4 1.6 1 1.6 2.3 1.6 1.7 1.6 1.6 1.6 1.2 1.6-.8 1.6 .4 1.6 3.6 1.6 2.9 1.6-.7 1.6 .7 1.6 2.5 1.6 .4 1.6 3.7 1.6-.6 1.6 1.2 1.6-.1 1.6 2.7 1.6 1.3 1.6 3.9 1.6-.7 1.6-.9 1.6 1.8 1.6 .8 1.6 2.6 1.6 1.4 1.6 1.2 1.6 .1 1.6 2.8 1.6-1.1 1.6-1.2 1.6 4.1 1.6 0 1.6 2.9 1.6 .5 1.6 1.1 1.6 .4 1.6 .5 1.6-.5 1.1 3.9 1.2 .4 1.1 1.3 1.2-.9 1.1 1.1 1.2 .1 1.1 1.5 1.2 2.7 1.1 .3 1.2-1.8 1.1 2.1 1.2 1.7 1.1 0 1.2-1.6 1.1 3.2 1.2-2.2 1.1 2.9 1.2 .3 1.1 4.3 1.2-5.6 1.1 1.7 1.2 3.1 1.1-1.6 1.2 3.1 1.1-1.8 1.2 3.6 1.1-1.3 1.2-1 1.1 .4 1.2 3.7 1.1-3.8 1.2 1.9 1.1-1.2 1.2 3.9 1.1-2.3 1.2 1.9 1.1 .9 1.2-3.3 1.1 2.7 1.2 .9 1.1-3.4 1.2 2.4 1.1 .5 1.2-2.2 1.1-.1 1.2 2.8 1.1 1.8 1.2-3.1 1.1 2.8 1.2 1.9 1.1-2.4 1.2 .6 1.1-2 1.2 1 1.1 1.6 1.2 3 1.1-4.5 1.2 1.8 1.1-.4 1.2-1.2 1.1-.6 1.2-1.4 1.1 3.2 1.2 .1 1.1-.1 1.2-.2 1.1-.4 1.2 .3 1.1 3.7 1.2 1 1.1 1.6 1.2-3.9 1.1 3 1.2-1.3 1.1-.3 1.2-1.2 1.1 2 1.2-3.5 1.1 1.3 1.2 1.1 1.1 3.5 1.2-4.3 1.1 1.5 1.2-3 1.1 2.8 1.2-.9 1.1 3.8 1.2-2.6 1.1 .8 1.2-4.6 1.1 3.4 1.2 .1 1.1 2.9 1.2-4.1 1.1 2.4 1.2-2 1.1 1.2 1.2-5.8 1.1 3.9 1.2 1.1 1.1-2.8 1.2 4.9 1.1 3.8 1.2-7.9 1.1 .8 1.2 .3 1.1 4.5 1.2-1.9 1.1-2.2 1.2-2 1.1 .2 1.2 3 1.1-4.3 1.2 3.2 1.1-5.3 1.2 4.4 1.1-3 1.2 1.7 1.1-2.8 1.2-4.8 1.1 4.7 1.2 2 1.1 1.6 1.2-2.3 1.1 1.1 1.2 1.2 1.1-3.3M1166 1781.2l1.2 20 1.1-.2 1.2 5.7 1.1-4.1 1.2-6.8 1.1 3.6 1.2 4 1.1-1.2 1.2 2.7 1.1 1.5 1.2-3.1 1.1-2.6 1.2 2.9 1.1 10 1.2-10.9 1.1 1.7 1.2 3.3 1.1-6.1 1.2-.2 1.1 14.7 1.2-11.1 1.1 .4 1.2 0 1.1 1.5 1.2 5.3 1.1-4.9 1.2-5.7 1.1 9.5 1.2-16.1 1.1 9.6 1.2-5.2 1.1 8.2 1.2-6.4 1.1 4.3 1.2-8 1.1 3.8 1.2-.8 1.1 10.9 1.2-8.5 1.1 3.1 1.2 1.3 1.1 2.5 1.2-4 1.1 6.7 1.2-4.6 1.1 1.2 1.2-2.2 1.1 8.9 1.2-8.3 1.1 6.1 1.2 5.3 1.1-5.9 1.2 1.1 1.1 4.5 1.2-4.9 1.1-8.1 1.2-.7 1.1 10.7 1.2-4.1 1.1-2.6 1.2 8.6 1.1-13.3 1.2 11.8 1.1-7.7 1.2 15.7 1.1-7.3 1.2-14.1 1.1 20.5 1.2-6.8 1.1-1.6 1.2-2 1.1 3.8 1.2-1.4 1.1 7.6 1.2 1.1 1.1-12.3 1.2 13.8 1.1-18.1 1.2 16.3 1.1-2.6 1.2-22.6 1.1 .2 1.2 12.5 1.1 9.7 1.2-4.8 1.1 6.8 1.2 7.6 1.1-8 1.2-27.7 1.1 14 1.2 20.3 1.1-12.2 1.2-1.3 1.1 4.8 1.2 21.1 1.1-23.4 1.2 7.1 1.1 3.1 1.2-11.2 1.1 6.6 1.2-14.3 1.1 2.9 1.2-7.2 1.1 44.6 1.2-18.7 1.1-10.9 1.2-2.4 1.1 43.4 1.2-45 1.1-30.4 1.2 32.8 1.1 32 1.2-20.8 1.1-10.5 1.2 8.3 1.1 .9 1.2 4.4 1.1 6.4 1.2 4.8 1.1 14.5 1.2-26.5 1.1-27.1 1.2 24.3" stroke="#861619"/>
<path d="M687 1580l1.6 2.9 1.6 .2 1.6 0 1.6-.1 1.6 2.5 1.6 1.4 1.6 .8 1.6-.3 1.6-.1 1.6 1.7 1.6 .6 1.6 1.8 1.6 .3 1.6 1.6 1.6 .1 1.6 1 1.6 .8 1.6 .6 1.6 1.2 1.6 1.4 1.6 .9 1.6-.4 1.6 2 1.6-.2 1.6 2.5 1.6-.5 1.6 .7 1.6 .2 1.6 2.7 3 .5 3 .7 3 1.3 3 .8 3 .1 3 1.8 3-.2 3 1.4 3 .5 3 .5 3-.6 3 1.1 3 1 3-.2 3 1.2 3 .5 3 0 3 .7 3 .4 3 .6 3 .2 3 1 3 .3 3 .5 3 .5 3 .4 3 .2 3 .4 3 1.1 3 0 3 .5 3 .2 3 .7 3 .8 3 0 3 .2 3 1 3-.5 3 .8 3 .5 3 1.2 3-.7 3 .4 3 .3 3 .4 3 .5 3 .6 3 1.3 3 0 3-.5 3 1.7 3 .6 3 .7 3 .9 3 .3 3 1.6 3 .6 3 1.1 3 1.6 3 .7 3 1.2 3 1.6 1.6 1.1 1.6-.5 1.6 1.6 1.6 1.8 1.6-.9 1.6 1.3 1.6 .9 1.6 1 1.6 1.6 1.6 .2 1.6 1.5 1.6 .3 1.6-.4 1.6 3.1 1.6 1.5 1.6 1 1.6 1.2 1.6 1.2 1.6 1.8 1.6 .1 1.6 2.2 1.6 1.4 1.6 1.5 1.6 1.2 1.6 .4 1.6 .5 1.6 3.9 1.6 1.1 1.6 1.1 1.6-1.7 1.6 3.7 1.6 1.3 1.6 1.9 1.6 2.1 1.6-.3 1.6 .9 1.6 3.1 1.6 .7 1.6-.2 1.6 2.3 1.6 .2 1.6 1.4 1.6 1.4 1.6 3.2 1.6 1.3 1.6 1 1.6 1.3 1.6 1.9 1.6 1.6 1.6 .7 1.6 3 1.6-.4 1.6 3.4 1.6 1 1.6 3.1 1.6 1.6 1.6 0 1.6-.3 1.6 3.8 1.6 2.2 1.1 1.6 1.2 .1 1.1 2.4 1.2 .4 1.1 2.5 1.2 .4 1.1 1 1.2 1.5 1.1 .1 1.2 2.6 1.1 .6 1.2-1.7 1.1 4 1.2 1.4 1.1 .8 1.2 .2 1.1 2.1 1.2-.8 1.1 2.8 1.2-1.7 1.1 3 1.2 2.8 1.1 .2 1.2 .6 1.1 1.5 1.2 1.7 1.1 1.1 1.2 1.9 1.1 .6 1.2-3 1.1 4.8 1.2 .9 1.1 .9 1.2-.1 1.1 1.2 1.2 .2 1.1 3.4 1.2 1 1.1-.3 1.2-1.8 1.1 1.3 1.2 2.8 1.1-4.1 1.2 5.2 1.1 2.1 1.2 .6 1.1 2.7 1.2-2.2 1.1-1.5 1.2 6.7 1.1-2.8 1.2 8 1.1-4.7 1.2 .6 1.1 1.5 1.2-.3 1.1 3.7 1.2-1.6 1.1 1.1 1.2 .2 1.1 2.5 1.2-.1 1.1 2.2 1.2-1.7 1.1-.1 1.2 3.7 1.1 .8 1.2 .1 1.1-1.3 1.2-.1 1.1 8.3 1.2 .2 1.1-4 1.2 5 1.1-6.3 1.2 10.8 1.1-5.1 1.2 1.4 1.1-.6 1.2 2 1.1 3.8 1.2-.2 1.1 .1 1.2 5.7 1.1-5.2 1.2 1.5 1.1 2.8 1.2-.6 1.1 1.5 1.2 2.9 1.1-1.8 1.2 .9 1.1-6.4 1.2 6.7 1.1 .9 1.2-1.9 1.1 2.1 1.2 0 1.1 2.6 1.2 .2 1.1 1 1.2 2.6 1.1-.4 1.2 6 1.1-8.9 1.2 2.9 1.1 2.1 1.2-.3 1.1 1.5 1.2 .3 1.1 .8 1.2-.1 1.1 .4 1.2 3.2 1.1 .2 1.2 .4 1.1-.2 1.2-6.5 1.1 6.3 1.2-5.4 1.1 8.4 1.2-5 1.1 5.1 1.2-2.3 1.1 1.5 1.2-2.1 1.1 4.4M1166 1827.9l1.2 13.2 1.1-23.2 1.2 7.8 1.1 1 1.2 .4 1.1 .9 1.2 7.1 1.1-2.8 1.2-.5 1.1-5.3 1.2 2.2 1.1 5.5 1.2-18.6 1.1 12.9 1.2 6 1.1-3.6 1.2-.9 1.1 1.1 1.2 3.4 1.1-6.9 1.2-3.8 1.1 14 1.2-10.4 1.1-8.9 1.2 18.2 1.1 1.6 1.2-4.2 1.1 9.2 1.2-9.3 1.1-4.9 1.2-7.1 1.1 6.3 1.2-8.5 1.1-1.9 1.2 14 1.1 2 1.2 0 1.1-12.6 1.2 8.1 1.1-6.2 1.2-5.2 1.1 12.4 1.2 .9 1.1-.7 1.2 4 1.1-20.1 1.2 2.8 1.1 9.5 1.2 4.4 1.1-14.5 1.2 .6 1.1 19 1.2-16.1 1.1 3.1 1.2-7.3 1.1-3.6 1.2 11.4 1.1 2.2 1.2-6 1.1 6.2 1.2-1.2 1.1-3.4 1.2-4.9 1.1 4 1.2-5.9 1.1 2.3 1.2-.3 1.1-5 1.2-15.5 1.1 22.3 1.2-11.4 1.1 4.5 1.2 1.7 1.1-9.9 1.2-14.4 1.1 20.8 1.2 12.5 1.1-26.9 1.2 26 1.1-19.3 1.2 13.8 1.1 11 1.2-14.2 1.1-6.3 1.2 7.3 1.1-5.6 1.2 3 1.1-4 1.2 10.9 1.1-7.3 1.2-15.4 1.1 26 1.2-14.8 1.1-17.7 1.2-8.3 1.1 15.1 1.2-16.3 1.1 9.5 1.2 14.5 1.1 18 1.2-25.8 1.1 14.5 1.2-4.9 1.1-29.4 1.2 14.6 1.1 2.1 1.2 4.4 1.1 6.5 1.2-1.2 1.1-.6 1.2 7.3 1.1-8.1 1.2 24.4 1.1-6.3 1.2 2.4 1.1-18.3 1.2-36 1.1 19 1.2-4.7 1.1 13.6 1.2 8.7 1.1-28.8 1.2 3.2" stroke="#2e6cb3"/>
<path d="M687 1501.9l1.6 1.1 1.6-.2 1.6 1.6 1.6 .7 1.6 2.1 1.6 .5 1.6 .5 1.6 1.7 1.6 1.4 1.6 .2 1.6 .7 1.6 2 1.6 1.1 1.6 1.9 1.6 2.7 1.6 .4 1.6 .1 1.6 3.5 1.6-.7 1.6 3 1.6 1 1.6 1.7 1.6 1.9 1.6 1.9 1.6 1.2 1.6 2.1 1.6 .9 1.6 2.2 1.6 1.7 3 3.3 3 2.3 3 4.1 3 1.3 3 3.2 3 2.4 3 2.3 3 2.9 3 2.9 3 2.9 3 1.8 3 3.1 3 1.4 3 3.1 3 2.3 3 2.4 3 2.2 3 2.4 3 2.8 3 1.2 3 3.3 3 2.7 3 2.9 3 2.6 3 2.2 3 1.8 3 2 3 2 3 1 3 1.8 3 2.1 3 1.2 3 1 3 1.7 3 .5 3 1.9 3 .1 3 1.4 3 .8 3 .3 3 1.3 3 1.4 3 .8 3 .1 3 1.1 3 1.6 3 1.1 3 .6 3 1.6 3 1.1 3 1.4 3 .4 3 1.4 3 .5 3 .5 3 .9 3 1.6 3-.4 3 1 3 .1 3-.3 3 .7 1.6 .5 1.6-.1 1.6-.2 1.6 1.5 1.6-.6 1.6-.6 1.6 .6 1.6-.2 1.6 1.2 1.6-.8 1.6 .6 1.6 0 1.6 .6 1.6 .3 1.6 .3 1.6 .3 1.6 .8 1.6 .5 1.6-.8 1.6 2.3 1.6 .4 1.6-.1 1.6 1.4 1.6-.2 1.6 1.8 1.6-1.2 1.6 2.1 1.6-.6 1.6 .5 1.6 3.1 1.6-1.5 1.6 .3 1.6-1.2 1.6 2 1.6 1.3 1.6 .3 1.6-1.3 1.6 1.9 1.6-1 1.6 2.7 1.6-.5 1.6 .9 1.6-.4 1.6 .5 1.6-.7 1.6 2.7 1.6-.4 1.6-.3 1.6 .9 1.6-.1 1.6 .3 1.6 .8 1.6 .8 1.6-2.8 1.6 2.1 1.6 .7 1.6 .4 1.6-1.6 1.6 1.5 1.6 .1 1.1 1 1.2 .8 1.1-.4 1.2 2.5 1.1-.4 1.2-.1 1.1 .5 1.2 0 1.1-.2 1.2 1.2 1.1-1 1.2 3.4 1.1 0 1.2 .9 1.1 1.6 1.2 .2 1.1 .1 1.2 .9 1.1 .1 1.2 0 1.1 1 1.2 .5 1.1-1.6 1.2 3.6 1.1 .4 1.2 0 1.1 .4 1.2 .1 1.1-1.8 1.2 3.4 1.1-1 1.2 2.3 1.1-1.9 1.2 3.8 1.1 2.7 1.2-1.6 1.1-.6 1.2-1.5 1.1 1.1 1.2 3.3 1.1 2.4 1.2-2 1.1 .7 1.2-1.5 1.1-2.6 1.2 7.9 1.1-2 1.2 1.3 1.1-.2 1.2-.6 1.1 3.7 1.2 .8 1.1 1.6 1.2-3.1 1.1 4.8 1.2-1.2 1.1-.6 1.2 .2 1.1 .6 1.2 2.8 1.1 .8 1.2-1.5 1.1-.5 1.2 1.3 1.1 4.3 1.2 .4 1.1 3 1.2-.6 1.1 .2 1.2-1.7 1.1 3.9 1.2 1.4 1.1 .7 1.2 1.5 1.1 .5 1.2 2.8 1.1-2.6 1.2 3.4 1.1 3 1.2-.3 1.1-.1 1.2 .8 1.1-1.5 1.2-2.7 1.1 4.3 1.2 3.9 1.1 2.3 1.2-2.9 1.1 5.9 1.2-6.5 1.1 2 1.2 4.5 1.1 6.8 1.2-3.4 1.1-4.5 1.2 2.4 1.1 1.6 1.2 .9 1.1-1.4 1.2 1.7 1.1 4 1.2 .8 1.1-2.6 1.2 6.4 1.1-1.1 1.2-.9 1.1 2.2 1.2 .3 1.1 5.8 1.2-3.7 1.1 1.5 1.2 .1 1.1 3.6 1.2-3.1 1.1 5.4 1.2-1.5 1.1 2.8 1.2-.8 1.1 4.2 1.2 1.2 1.1 .8 1.2-6.5 1.1 15.3 1.2-4.5 1.1 2.8 1.2-5.1 1.1 3.4M1166 1771.8l1.2-7.6 1.1 9.6 1.2-3.5 1.1 3.2 1.2-.2 1.1-2.4 1.2 11.6 1.1 5 1.2-6.9 1.1 8.4 1.2 4.1 1.1-7.5 1.2-.9 1.1 7.5 1.2 0 1.1 3.3 1.2 7.3 1.1-14.9 1.2-.9 1.1 5.7 1.2-.1 1.1 .9 1.2 14.6 1.1-17 1.2 3.5 1.1 4.9 1.2 2.7 1.1-4.5 1.2 3.2 1.1-4.2 1.2-5.1 1.1 14.3 1.2-11.7 1.1 13.7 1.2 3.6 1.1-1.1 1.2-9.8 1.1 13.4 1.2 8.1 1.1-11.6 1.2 10.6 1.1-1.9 1.2 4.7 1.1-6.7 1.2-16.9 1.1 34.8 1.2-15.7 1.1-2.5 1.2 5.6 1.1 10.4 1.2-12.5 1.1 4.9 1.2-2.1 1.1 13.2 1.2-10.5 1.1 2.5 1.2-.7 1.1 2.7 1.2-8.8 1.1 12.4 1.2-8.1 1.1 8 1.2 6.9 1.1-16 1.2 19.1 1.1-3.1 1.2 2.4 1.1-18.1 1.2 17.2 1.1-4.2 1.2 2.9 1.1 8 1.2-5.9 1.1 0 1.2-17.9 1.1 26.7 1.2-4.1 1.1 0 1.2-21.7 1.1 14.9 1.2-3.6 1.1 6.8 1.2-2.1 1.1 1.4 1.2 4.6 1.1 27.2 1.2-29.6 1.1 12.5 1.2-11.5 1.1 0 1.2 2.4 1.1-10.5 1.2-5.4 1.1 21.1 1.2 9.2 1.1-3 1.2-14 1.1 30 1.2-18.3 1.1-11.2 1.2 9.5 1.1-6 1.2-7.4 1.1 16.9 1.2-17.4 1.1 43.3 1.2-15.2 1.1-1.4 1.2-30.6 1.1 23 1.2 14.3 1.1-35.3 1.2 12 1.1 5.5 1.2-10.3 1.1 14.8 1.2-12.8 1.1 5.6 1.2 13.9 1.1 3.7 1.2-11.8 1.1-4.6 1.2 13.7" stroke="#a0672b"/>
<path d="M687 1445.8l1.6 1.5 1.6 1.1 1.6 1.6 1.6-.4 1.6 2.6 1.6 .1 1.6 1.6 1.6 1.1 1.6 .8 1.6 2 1.6 .7 1.6 1 1.6 2.3 1.6 1.3 1.6 1 1.6 1.8 1.6 .4 1.6 2 1.6 1.2 1.6 1.6 1.6 1.8 1.6 1.5 1.6 1.2 1.6 .4 1.6 2.5 1.6 2.4 1.6 1.5 1.6 1.3 1.6 1.6 3 3.4 3 3 3 3.6 3 3.5 3 3.6 3 3.5 3 3.2 3 4.6 3 2.9 3 4.5 3 2.9 3 4.7 3 3.4 3 4.4 3 3.9 3 4.1 3 3.5 3 4 3 4.5 3 2.7 3 4.8 3 3.1 3 3.6 3 3.4 3 3.7 3 3 3 3.5 3 2.8 3 2.9 3 2.8 3 2.8 3 2.5 3 3.2 3 2.4 3 2 3 1.9 3 2.8 3 1.8 3 1.7 3 2.5 3 1.2 3 2.8 3 2 3 1.6 3 2 3 1.6 3 1.6 3 2.2 3 1.8 3 1.6 3 1.1 3 1.3 3 1.8 3 .6 3 .5 3 1.5 3 1 3 .8 3 .6 3 1.1 3 .4 3 .9 1.6-.4 1.6 .5 1.6 .6 1.6-.4 1.6 .9 1.6 .1 1.6 .9 1.6-.7 1.6 1.9 1.6-1.6 1.6 1 1.6-.4 1.6 .4 1.6-.1 1.6 1.5 1.6-1.6 1.6 1.5 1.6-.9 1.6 .8 1.6-1.1 1.6 3.1 1.6-1.3 1.6-.7 1.6 1.9 1.6 0 1.6 .1 1.6-.7 1.6 .5 1.6 .3 1.6 .8 1.6-.9 1.6 1.5 1.6-.1 1.6 1.2 1.6-1.7 1.6 .6 1.6 1.5 1.6-2.1 1.6-.1 1.6 2.8 1.6-1.9 1.6 .9 1.6 .2 1.6-1.6 1.6 .7 1.6-.5 1.6 1.3 1.6-.1 1.6-2.2 1.6-2.1 1.6 2.2 1.6 0 1.6-.2 1.6 1.4 1.6-1.1 1.6-2.9 1.6 2.3 1.6 .7 1.6-.3 1.6 1.6 1.1-.8 1.2-.7 1.1 3.1 1.2-1.7 1.1 2.5 1.2-5 1.1 1.8 1.2 2.2 1.1 2.6 1.2-2.4 1.1 .2 1.2 0 1.1 .3 1.2 .9 1.1 .6 1.2 0 1.1 .2 1.2-1.6 1.1-2.4 1.2 6 1.1-3.4 1.2 .8 1.1-.7 1.2 2.4 1.1-1.2 1.2-.5 1.1 3.5 1.2-.1 1.1-1 1.2 .4 1.1 2.6 1.2-4.4 1.1 3.3 1.2 .1 1.1-3.1 1.2 0 1.1-2 1.2 6.5 1.1-1.3 1.2 .2 1.1-2.4 1.2 .9 1.1-.2 1.2 3.4 1.1-2 1.2 2.5 1.1-1.1 1.2-2.3 1.1 5 1.2-4.6 1.1 3.6 1.2-4.5 1.1 4.6 1.2 1 1.1-4.2 1.2 3.5 1.1 1.2 1.2-.1 1.1-1.5 1.2 .3 1.1 .3 1.2 5.6 1.1-2.7 1.2-1 1.1 2.1 1.2-2.1 1.1 .4 1.2 3.3 1.1-3 1.2 2.3 1.1-2.9 1.2 2 1.1 4.5 1.2-2.4 1.1-.3 1.2 1.3 1.1-5 1.2 11.2 1.1-6.6 1.2 3.8 1.1-2.9 1.2 1.5 1.1 2 1.2-1.4 1.1 2.2 1.2-.6 1.1-1 1.2-.3 1.1 .8 1.2 3 1.1-.4 1.2-.9 1.1-.6 1.2 4.8 1.1-2.9 1.2 1 1.1 .8 1.2-1.5 1.1 3.5 1.2-3.3 1.1 5.1 1.2-2.4 1.1 6.4 1.2-6 1.1 1 1.2-1.9 1.1 3.9 1.2 2 1.1-.5 1.2-.8 1.1 7.6 1.2-5.3 1.1-.2 1.2 .5 1.1-2.6 1.2 2.6 1.1 4 1.2-2.5 1.1 5.6 1.2-4.2 1.1 5 1.2-.7 1.1 .7 1.2-4.8 1.1 5.2 1.2 .8 1.1 6.7M1166 1705.7l1.2-2.3 1.1-6.8 1.2 17.1 1.1-2.4 1.2 5.3 1.1-5.5 1.2 3.1 1.1 4.8 1.2-10.5 1.1 2.1 1.2 1.8 1.1 3.4 1.2-.9 1.1 .4 1.2-4.5 1.1 .8 1.2 14.9 1.1-4.9 1.2-2.9 1.1-7.2 1.2 9.3 1.1 2.6 1.2-.8 1.1-.4 1.2 .9 1.1 3.4 1.2 6.3 1.1-6.8 1.2-5.2 1.1 7.6 1.2-10.3 1.1 15.7 1.2 6.3 1.1-6.1 1.2 1.2 1.1-7.1 1.2 7.3 1.1-4.5 1.2 8.7 1.1-2.1 1.2 2.8 1.1 4.7 1.2-7.7 1.1 .5 1.2 6.1 1.1 13.4 1.2-20.8 1.1 7.8 1.2 .4 1.1 5.4 1.2 2.3 1.1-20.7 1.2 21.3 1.1 4.7 1.2 .3 1.1-1.5 1.2 12.6 1.1-9.6 1.2 10.6 1.1-.2 1.2-7.7 1.1-6.6 1.2 11.7 1.1-5.9 1.2 9.1 1.1-.5 1.2-1.6 1.1-11.8 1.2 5.7 1.1 15.3 1.2-12.8 1.1 11.9 1.2-7.3 1.1 1.1 1.2 2.8 1.1 24.7 1.2-12.7 1.1-1.7 1.2-9.3 1.1 16.7 1.2-5.5 1.1 1.5 1.2 8.6 1.1 2 1.2-12.9 1.1 13.2 1.2 19.8 1.1-45 1.2 13.8 1.1 22.4 1.2-4.4 1.1-8.4 1.2 4.9 1.1 15.6 1.2-19.9 1.1 14.9 1.2-1 1.1-23.3 1.2 29 1.1-14.5 1.2-11.9 1.1 11.1 1.2 5.7 1.1 11.4 1.2 8.5 1.1-27 1.2 13.2 1.1 14.2 1.2 3.2 1.1-6.4 1.2-1.5 1.1-1.9 1.2 6.5 1.1 7 1.2-12.9 1.1-6.5 1.2 3.9 1.1-.4 1.2 12.4 1.1-.3 1.2-3 1.1-2.6 1.2-14.5" stroke="#3db54a"/>
</g>
<line x1="694.5" y1="1414.4" x2="694.5" y2="1427.4" stroke="#000" stroke-width="3"/>
<line x1="694.5" y1="1976.7" x2="694.5" y2="1963.7" stroke="#000" stroke-width="3"/>
<line x1="774.6" y1="1414.4" x2="774.6" y2="1421.4" stroke="#000" stroke-width="3"/>
<line x1="774.6" y1="1976.7" x2="774.6" y2="1969.7" stroke="#000" stroke-width="3"/>
<line x1="854.7" y1="1414.4" x2="854.7" y2="1427.4" stroke="#000" stroke-width="3"/>
<line x1="854.7" y1="1976.7" x2="854.7" y2="1963.7" stroke="#000" stroke-width="3"/>
<line x1="934.8" y1="1414.4" x2="934.8" y2="1421.4" stroke="#000" stroke-width="3"/>
<line x1="934.8" y1="1976.7" x2="934.8" y2="1969.7" stroke="#000" stroke-width="3"/>
<line x1="1014.9" y1="1414.4" x2="1014.9" y2="1427.4" stroke="#000" stroke-width="3"/>
<line x1="1014.9" y1="1976.7" x2="1014.9" y2="1963.7" stroke="#000" stroke-width="3"/>
<line x1="1095" y1="1414.4" x2="1095" y2="1421.4" stroke="#000" stroke-width="3"/>
<line x1="1095" y1="1976.7" x2="1095" y2="1969.7" stroke="#000" stroke-width="3"/>
<line x1="1175.1" y1="1414.4" x2="1175.1" y2="1427.4" stroke="#000" stroke-width="3"/>
<line x1="1175.1" y1="1976.7" x2="1175.1" y2="1963.7" stroke="#000" stroke-width="3"/>
<line x1="1255.2" y1="1414.4" x2="1255.2" y2="1421.4" stroke="#000" stroke-width="3"/>
<line x1="1255.2" y1="1976.7" x2="1255.2" y2="1969.7" stroke="#000" stroke-width="3"/>
<line x1="645.5" y1="1873.6" x2="653.5" y2="1873.6" stroke="#000" stroke-width="2.4"/>
<line x1="1336.4" y1="1873.6" x2="1330.4" y2="1873.6" stroke="#000" stroke-width="2.4"/>
<line x1="645.5" y1="1771.5" x2="657.5" y2="1771.5" stroke="#000" stroke-width="2.4"/>
<line x1="1336.4" y1="1771.5" x2="1324.4" y2="1771.5" stroke="#000" stroke-width="2.4"/>
<line x1="645.5" y1="1669.4" x2="653.5" y2="1669.4" stroke="#000" stroke-width="2.4"/>
<line x1="1336.4" y1="1669.4" x2="1330.4" y2="1669.4" stroke="#000" stroke-width="2.4"/>
<line x1="645.5" y1="1567.3" x2="657.5" y2="1567.3" stroke="#000" stroke-width="2.4"/>
<line x1="1336.4" y1="1567.3" x2="1324.4" y2="1567.3" stroke="#000" stroke-width="2.4"/>
<line x1="645.5" y1="1465.2" x2="653.5" y2="1465.2" stroke="#000" stroke-width="2.4"/>
<line x1="1336.4" y1="1465.2" x2="1330.4" y2="1465.2" stroke="#000" stroke-width="2.4"/>
<path d="M645.5 1413.4V1976.7H1336.4V1413.4" fill="none" stroke="#000" stroke-width="3" stroke-linejoin="miter"/>
<line x1="644" y1="1414.4" x2="1337.9" y2="1414.4" stroke="#000" stroke-width="2.1"/>
<text transform="translate(1347.54 1988.18) scale(0.9100 1)" font-size="50.80" letter-spacing="-1.85">0.0</text>
<text transform="translate(1347.54 1783.98) scale(0.9100 1)" font-size="50.80" letter-spacing="-1.41">0.2</text>
<text transform="translate(1347.54 1579.78) scale(0.9100 1)" font-size="50.80" letter-spacing="-2.42">0.4</text>
<text transform="translate(1483.00 1775.45) rotate(-90) scale(1.0849 1)" font-size="94.08" font-style="italic">R</text>
<rect x="645.5" y="2011.8" width="690.9" height="561.8" fill="#fff"/>
<clipPath id="clh"><rect x="645.5" y="2011.8" width="690.9" height="563.8"/></clipPath>
<g clip-path="url(#clh)" fill="none" stroke-width="5.6" stroke-linejoin="miter" stroke-miterlimit="7">
<path d="M687 2138.1l1.6-.3 1.6-1.5 1.6 .1 1.6 .3 1.6-.6 1.6-.6 1.6-.8 1.6 .1 1.6-.6 1.6 1.1 1.6-2.4 1.6 1.4 1.6-1.4 1.6 1 1.6-1.3 1.6-.6 1.6 .2 1.6-1.2 1.6 .8 1.6 .3 1.6-1 1.6 .5 1.6-.6 1.6 1 1.6-1.4 1.6 .6 1.6 .7 1.6-.9 1.6-.1 3 .2 3 .4 3-.8 3 .7 3 .5 3 0 3 1.1 3-.3 3-.3 3 .3 3 0 3 1 3 .7 3-.4 3 .8 3 1 3-.1 3 2.3 3 1.3 3 1.9 3 1.8 3 2.5 3 1.8 3 2.5 3 3.1 3 3.7 3 3.6 3 4.2 3 4 3 4 3 3.7 3 4.9 3 2.3 3 4.4 3 2.7 3 3 3 3.9 3 4.1 3 3 3 4.2 3 3.6 3 5.1 3 2.4 3 4.8 3 3.9 3 2.9 3 2.8 3 3 3 3.3 3 2.5 3 2.2 3 3.4 3 1 3 2.6 3 1.1 3 1.4 3 .3 3 1.5 3-.1 3 .3 3 .6 3 .3 1.6 .3 1.6-.6 1.6-.6 1.6 .6 1.6 1.4 1.6-.1 1.6 .1 1.6 .6 1.6-.6 1.6 .6 1.6 .4 1.6 .7 1.6-.3 1.6 1.1 1.6-.2 1.6 .9 1.6 1.2 1.6-.5 1.6-1.1 1.6 1.5 1.6 1.2 1.6 .8 1.6 1.4 1.6-.4 1.6-.4 1.6 2.9 1.6-.6 1.6 1.5 1.6 .4 1.6 0 1.6-.6 1.6 1.3 1.6 1 1.6 .2 1.6 2 1.6-1.9 1.6 2.4 1.6 .3 1.6-.5 1.6 1.4 1.6 1.5 1.6-1.6 1.6 2.5 1.6-.1 1.6 .8 1.6 1.6 1.6-1.5 1.6 2.4 1.6 .9 1.6 .3 1.6 .3 1.6 .6 1.6 1 1.6-.3 1.6 .3 1.6 2.2 1.6 1.5 1.6 .8 1.6-.5 1.6 1.5 1.1 .2 1.2 1.6 1.1 .4 1.2 1.9 1.1-1.9 1.2 .9 1.1 1.6 1.2 .9 1.1 2.5 1.2 .5 1.1-2.3 1.2-.5 1.1 2.3 1.2-1.6 1.1 1.9 1.2 4.6 1.1 3.6 1.2-4.8 1.1 2 1.2 .7 1.1-1 1.2 2.8 1.1 1.4 1.2-1.3 1.1 6 1.2-3.8 1.1 1 1.2-.9 1.1 4.8 1.2 1.1 1.1-1.9 1.2-1 1.1 3.6 1.2-.7 1.1 4.1 1.2-.2 1.1 3.3 1.2-1.2 1.1 2.6 1.2-1.5 1.1 3.1 1.2 .6 1.1 2.2 1.2 1.4 1.1 1.1 1.2 1.7 1.1-.9 1.2 2.7 1.1 .4 1.2-1.2 1.1 2.6 1.2 .5 1.1-2.1 1.2 6.1 1.1 1.3 1.2 1.5 1.1-4.2 1.2 7.3 1.1-3.6 1.2 1.8 1.1 3.4 1.2 1.6 1.1 3.3 1.2-.4 1.1 2.8 1.2 .9 1.1-6 1.2 6.8 1.1-.5 1.2-1.2 1.1 6.6 1.2-4.8 1.1 2.7 1.2 .8 1.1 7 1.2 .4 1.1-3.1 1.2 1.8 1.1 3 1.2-4.6 1.1 3.6 1.2-.1 1.1 1.2 1.2 6.9 1.1-5.6 1.2 7.3 1.1-6.6 1.2 2.5 1.1-4.6 1.2 2.1 1.1 5.3 1.2-2.3 1.1 .4 1.2-2.7 1.1 5.7 1.2-1.5 1.1-.2 1.2-3.3 1.1 3.5 1.2 .8 1.1 3.4 1.2-1.9 1.1-4.7 1.2 11.3 1.1-6.7 1.2 3.5 1.1 .5 1.2-2.1 1.1-4.2 1.2 .7 1.1-1.2 1.2 7.6 1.1-4.1 1.2-.4 1.1 4.6 1.2-6.6 1.1 2.2 1.2-1 1.1 2.3 1.2-.8 1.1 3 1.2-6.5 1.1 1.9 1.2 1.6 1.1 3.3 1.2 3.9 1.1-4.2M1166 2399.2l1.2-24.8 1.1 6.4 1.2-9 1.1 14.1 1.2-13.1 1.1 8.8 1.2 4.8 1.1-4.3 1.2-16.2 1.1 13.6 1.2 8.6 1.1-15.9 1.2-3.3 1.1 4.4 1.2-4.3 1.1 .7 1.2 11.3 1.1-.5 1.2-5.6 1.1-4.7 1.2 8.6 1.1 7.5 1.2-5.2 1.1-1.8 1.2 2.1 1.1-.4 1.2 5.3 1.1-.7 1.2-9.6 1.1 6.2 1.2 0 1.1-10.8 1.2 8.3 1.1-2.7 1.2 3.7 1.1 4.1 1.2-12.5 1.1-16.3 1.2 17.9 1.1 2.5 1.2 6 1.1-4.1 1.2-22.7 1.1 24.7 1.2-12.5 1.1 .4 1.2-6.6 1.1 14.4 1.2-12.4 1.1 3.9 1.2 8.5 1.1 17 1.2-32 1.1 9.9 1.2-1.3 1.1 .8 1.2-12.4 1.1 2.2 1.2 4.4 1.1-7.1 1.2 .4 1.1 1.5 1.2 5.4 1.1 4.9 1.2 3.7 1.1-24.5 1.2 .3 1.1 9.4 1.2-6.7 1.1 .8 1.2 17.6 1.1-19.2 1.2 7.7 1.1-3.5 1.2 .6 1.1-4.9 1.2 11 1.1-6.3 1.2-15.2 1.1 8.8 1.2 28 1.1-16.7 1.2 .8 1.1-20.8 1.2 21.2 1.1-6.9 1.2 27.8 1.1-60.2 1.2 29.4 1.1 5 1.2-24.8 1.1 10.7 1.2-6.6 1.1-9.2 1.2 25.8 1.1 1 1.2-20.1 1.1 17 1.2-17.9 1.1 2.8 1.2-13.9 1.1-17.1 1.2 6 1.1 11 1.2-21 1.1 36.3 1.2-41.7 1.1 1.9 1.2-10.7 1.1-15.5 1.2 20.8 1.1-29.2 1.2 36.2 1.1-37.7 1.2-2 1.1 6.8 1.2-36.6 1.1 16.8 1.2-2.3 1.1 19.4 1.2 .3 1.1 14.4 1.2-9.3" stroke="#0a0a0a"/>
<path d="M687 2146.5l1.6-1.5 1.6 1.4 1.6-1 1.6-1.3 1.6 2 1.6 1.4 1.6-.6 1.6 .1 1.6 .5 1.6-.5 1.6 .9 1.6-.2 1.6 1.2 1.6 .4 1.6 .5 1.6 .7 1.6 .7 1.6 .5 1.6 1.2 1.6 .2 1.6 0 1.6 2.1 1.6 .1 1.6 1.5 1.6 1.1 1.6 2.1 1.6 .6 1.6 1.9 1.6 .4 3 3.5 3 2.9 3 2.2 3 1.4 3 2.5 3 1.2 3 3.7 3 2.4 3 3.1 3 2.1 3 3.4 3 .6 3 3 3 2.2 3 3.1 3 2.9 3 1.1 3 2.8 3 2.6 3 2 3 2.9 3 2.4 3 1.8 3 3.1 3 2.4 3 2 3 2 3 1.9 3 2.4 3 1.3 3 1.9 3 1.3 3 3 3 1.1 3 1.2 3 1.2 3 1.6 3 .4 3 1.4 3 2.3 3 .6 3 1.2 3 1.1 3 0 3 2.2 3 .4 3 2.6 3 .9 3-.1 3 1.4 3 1.2 3-.4 3-.2 3 .2 3-.6 3 1.3 3 .9 3-1 3 .6 3 .9 3-.3 3-.2 1.6 .7 1.6 .3 1.6-.9 1.6 .7 1.6 1.8 1.6-2.1 1.6 .4 1.6 .4 1.6 1.7 1.6-2.3 1.6 1.9 1.6-1.3 1.6 .8 1.6-.8 1.6 1.4 1.6 .8 1.6-.5 1.6 3 1.6-2.2 1.6 1.9 1.6 .1 1.6 2.1 1.6-1.5 1.6-.7 1.6 1.4 1.6 .3 1.6 .6 1.6-.5 1.6 1.7 1.6 .2 1.6 .4 1.6 .4 1.6 1.1 1.6-.3 1.6 .2 1.6 2 1.6 .7 1.6 2.5 1.6-1.2 1.6 1.1 1.6-.6 1.6 .2 1.6 2.3 1.6 .8 1.6 .6 1.6 .1 1.6 1.6 1.6 4 1.6-2.3 1.6 1.7 1.6-1.4 1.6 1.8 1.6 1.2 1.6 1 1.6 .6 1.6-.3 1.6 2 1.6 1.2 1.6 2.7 1.6 1 1.1-.9 1.2 1.2 1.1 0 1.2 2.6 1.1-.1 1.2 .5 1.1-.6 1.2 2.2 1.1 2.8 1.2-3.3 1.1 2.6 1.2 2 1.1 .8 1.2 1.8 1.1 0 1.2 1 1.1-3.1 1.2 6.6 1.1 1.8 1.2-.7 1.1 3.2 1.2-.8 1.1 7.6 1.2-4 1.1 .6 1.2 3.1 1.1 .4 1.2 1.9 1.1 1.1 1.2 1.1 1.1 3.4 1.2 1 1.1 0 1.2 3.9 1.1 1.5 1.2 .8 1.1 .3 1.2 2 1.1 2.5 1.2-1.7 1.1 1.6 1.2 1.9 1.1-1.4 1.2 2.2 1.1 3.6 1.2 1.5 1.1-4.9 1.2 5.2 1.1 1.7 1.2-.7 1.1 2.4 1.2 3 1.1 3.3 1.2-4 1.1 3 1.2-.9 1.1-1.5 1.2 5.2 1.1 1.9 1.2 5.9 1.1-8.2 1.2 5.2 1.1 2 1.2 .2 1.1 5.3 1.2-9.3 1.1 10.2 1.2 0 1.1 .8 1.2 1.4 1.1-1.6 1.2 2.4 1.1 2.3 1.2 1.6 1.1 6 1.2-5 1.1 1.7 1.2 .4 1.1 1.5 1.2 4.3 1.1-3.9 1.2-5.2 1.1 7.9 1.2 3.7 1.1 5.3 1.2-5.4 1.1 1.9 1.2-3.4 1.1 3.9 1.2-4.4 1.1 8.3 1.2-1.2 1.1 2.7 1.2 1.3 1.1-4.7 1.2 8.7 1.1-4.9 1.2-2.3 1.1 7.5 1.2-.7 1.1 1.6 1.2-1.5 1.1 1.4 1.2-.1 1.1 .8 1.2 .9 1.1 2.3 1.2-7.7 1.1 4.2 1.2 .5 1.1 2.9 1.2 1.4 1.1 .8 1.2-2.6 1.1-5.7 1.2 4.2 1.1-1.6 1.2 2.3 1.1-5.7 1.2 5.4 1.1-1.8 1.2 5.5 1.1-2.5 1.2 5 1.1-5.2 1.2 3 1.1-.8M1166 2419.8l1.2-2.6 1.1 .7 1.2-8.6 1.1 20.9 1.2-19.6 1.1 13 1.2-1.4 1.1-4.6 1.2-3.4 1.1 11.6 1.2-3.8 1.1-2.1 1.2 5.4 1.1-6.8 1.2-10 1.1 13.2 1.2-.2 1.1 .4 1.2 5.8 1.1-9.1 1.2 16.3 1.1-15.9 1.2-7.1 1.1-3.1 1.2-.4 1.1 22.4 1.2-16.1 1.1 4.9 1.2-19.2 1.1 2 1.2 12.1 1.1-4.4 1.2 6.6 1.1-7.2 1.2-2.7 1.1 8.5 1.2 3.3 1.1-30.7 1.2 18.2 1.1 1.9 1.2 7.7 1.1-7.2 1.2 1.3 1.1-.7 1.2-2.6 1.1-16.1 1.2 20.7 1.1-11.3 1.2 10.6 1.1-4.3 1.2-10 1.1 4.4 1.2-11.5 1.1 15.1 1.2-6 1.1 .4 1.2 3.6 1.1 4.5 1.2-5.9 1.1-4.2 1.2 .8 1.1 5 1.2-6.9 1.1-5.3 1.2 9.3 1.1 7 1.2-1.4 1.1-6.5 1.2-1.2 1.1 .1 1.2 9.5 1.1-2.6 1.2-26.2 1.1 25.8 1.2-.7 1.1-15.7 1.2-16.5 1.1 24 1.2 2.4 1.1-19.9 1.2 14.2 1.1 8.8 1.2-15 1.1 19.1 1.2-13.8 1.1-16.6 1.2 28.9 1.1-19.5 1.2-5.9 1.1-.2 1.2-14 1.1 14.4 1.2-7.1 1.1 13.3 1.2-12 1.1 17.9 1.2-16.9 1.1 8.8 1.2 .2 1.1 .7 1.2-11.8 1.1-6.1 1.2-16.8 1.1 15 1.2-13.3 1.1-21 1.2 6.1 1.1 5.8 1.2-33.5 1.1 8.9 1.2 11.4 1.1-33 1.2 13.1 1.1-5.5 1.2-1.8 1.1-8.2 1.2 27 1.1 30.4 1.2-53.7 1.1 40.5 1.2-2.9 1.1-10.4 1.2-7" stroke="#7a5bb0"/>
<path d="M687 2150.8l1.6-.2 1.6 1.2 1.6 .2 1.6-1.6 1.6 1.7 1.6-.9 1.6 .8 1.6-.6 1.6 1.8 1.6-.5 1.6-.2 1.6 .9 1.6 .4 1.6 .4 1.6 .8 1.6-1.9 1.6 3.1 1.6-1.5 1.6 2.3 1.6 1.5 1.6-.3 1.6 3 1.6 .7 1.6 2.3 1.6 0 1.6 2.9 1.6 .5 1.6 2.9 1.6 1.2 3 3.5 3 3.8 3 3.4 3 3.5 3 4.2 3 4.7 3 3.7 3 4.4 3 5.1 3 4.3 3 5.3 3 4 3 5.1 3 5 3 4.5 3 5.1 3 4.5 3 4.4 3 5.6 3 3.8 3 3.9 3 5.8 3 4.5 3 4.7 3 3.6 3 3 3 2.3 3 3.3 3 2.2 3 2.3 3 2.5 3 2.1 3 1.9 3 1.8 3 .5 3 1.7 3 .4 3 1.7 3 .3 3 .9 3 .4 3 .8 3-.1 3 .9 3-.6 3 1.2 3-.2 3 0 3-.7 3 .7 3-.7 3 .2 3 1.1 3-1.4 3-.4 3-1 3-1.3 3-.1 3-2.7 3 0 3-1.6 3-1.2 1.6-.9 1.6-.1 1.6-.8 1.6-1 1.6 .3 1.6-.9 1.6-2.2 1.6-.8 1.6-.2 1.6-1 1.6-.3 1.6-1.6 1.6 .2 1.6-1.5 1.6-.4 1.6-.7 1.6-.5 1.6-.4 1.6-.8 1.6-.7 1.6-.2 1.6 1.1 1.6-1.6 1.6-1.4 1.6 .6 1.6 1.8 1.6-2.5 1.6 .1 1.6-.2 1.6-.8 1.6-.5 1.6-.1 1.6-.5 1.6 .8 1.6 .3 1.6 .7 1.6-1.7 1.6 .4 1.6-1.1 1.6-1.1 1.6 .5 1.6 1 1.6-1.6 1.6 2.7 1.6 .4 1.6-.8 1.6 2.5 1.6-1.9 1.6 2.4 1.6-1.4 1.6 1.3 1.6 .2 1.6 1.6 1.6-.6 1.6 1.8 1.6 2.5 1.6 .3 1.6-1.4 1.6 .7 1.6 .2 1.1 1.4 1.2 1.1 1.1 .7 1.2 3 1.1-1.7 1.2 2.1 1.1 .7 1.2 3.6 1.1-4.4 1.2 2.4 1.1-.1 1.2 3.1 1.1-1.5 1.2 4.1 1.1 .9 1.2-.9 1.1 .6 1.2 .8 1.1 4.2 1.2 .7 1.1 2.4 1.2-4.6 1.1 2 1.2 2.3 1.1 5.5 1.2 .8 1.1-1 1.2 3.2 1.1 0 1.2 .7 1.1 3.9 1.2 .5 1.1 .8 1.2 3.7 1.1-1.5 1.2 6.2 1.1-2.3 1.2 4.4 1.1-1.6 1.2 6 1.1 .7 1.2 .9 1.1-.5 1.2 5.4 1.1 1.1 1.2 2 1.1 1.9 1.2-.6 1.1 2.6 1.2 2.6 1.1 2.6 1.2 1.9 1.1 4.3 1.2-2.8 1.1 6.1 1.2 0 1.1-1.3 1.2 4 1.1 1.5 1.2 4.8 1.1 1.4 1.2-1.9 1.1 .1 1.2 12.3 1.1-4.2 1.2 1.6 1.1 1 1.2 .5 1.1 5.5 1.2 1 1.1 2.1 1.2-1.4 1.1 2 1.2 8 1.1-3.6 1.2 4.8 1.1-1.1 1.2 4.7 1.1 2.9 1.2-8.5 1.1 8.7 1.2 7.2 1.1-4.6 1.2 5.7 1.1-4.1 1.2 5.3 1.1 0 1.2 0 1.1 8.1 1.2-3.8 1.1 4.7 1.2 2.2 1.1 2.7 1.2-5.5 1.1 8 1.2-9.9 1.1 9.4 1.2 1.8 1.1-1.2 1.2 3.7 1.1-2 1.2 .9 1.1 6 1.2 1.5 1.1 2.8 1.2-6.7 1.1 5.9 1.2-1.8 1.1 2.4 1.2-2.8 1.1 1.5 1.2 11.1 1.1-6.6 1.2-5.6 1.1 5.9 1.2 1.1 1.1 2 1.2 1.9 1.1 5.2 1.2-5.3 1.1 .4 1.2 6.8 1.1-3.9 1.2-1.2 1.1 1.6 1.2 .2 1.1-8.3M1166 2468.7l1.2 12.9 1.1-4.4 1.2-.4 1.1-2.2 1.2 2.7 1.1-1.9 1.2 5.3 1.1 .4 1.2 2.7 1.1-1.3 1.2-9.2 1.1 12.7 1.2-7.3 1.1 3.6 1.2 3.2 1.1 1 1.2-12.6 1.1 11.8 1.2-4.7 1.1 10.3 1.2-6.8 1.1-17.1 1.2 5.1 1.1 7.8 1.2 4.1 1.1-.7 1.2-4.1 1.1-8.1 1.2 .2 1.1 13.3 1.2-13.3 1.1 7.5 1.2 1.5 1.1-8.5 1.2 7.7 1.1-12.3 1.2 9 1.1 6.6 1.2-11.3 1.1-2.9 1.2-3.2 1.1 5.7 1.2 9.9 1.1-21 1.2 8.3 1.1 .5 1.2-3.9 1.1 3.3 1.2 4.3 1.1-10.4 1.2-3 1.1 7.1 1.2-7.5 1.1 7.9 1.2-8 1.1-18.5 1.2 20.8 1.1-10 1.2 4.7 1.1 3.1 1.2-5.3 1.1 15.8 1.2 2 1.1-19.4 1.2 8 1.1-15.7 1.2 8.3 1.1 3.2 1.2 3.6 1.1-.1 1.2-.9 1.1-13.7 1.2 5.8 1.1 14.9 1.2-11.1 1.1-6.3 1.2 6.3 1.1-16.9 1.2 2.5 1.1 7.1 1.2-7.3 1.1 2.2 1.2-4 1.1-1.7 1.2 17.2 1.1-14 1.2-15.9 1.1 17.4 1.2-26.2 1.1 23.1 1.2 8.4 1.1 5.8 1.2-29.1 1.1 21.1 1.2-16.1 1.1-8.3 1.2 14.4 1.1 4.9 1.2-14.3 1.1-2.6 1.2-6.8 1.1-2.8 1.2 4.5 1.1-9.9 1.2 25.2 1.1-17.3 1.2 .7 1.1-10.4 1.2 8.3 1.1-6.5 1.2-19 1.1 13.4 1.2 21.2 1.1-14.7 1.2 21.5 1.1-4.8 1.2 3.7 1.1-29.5 1.2 13.5 1.1 23.5 1.2-36.4 1.1-6.1 1.2 21.9" stroke="#861619"/>
<path d="M687 2147.6l1.6 1 1.6-1.5 1.6 1.8 1.6-.9 1.6 .1 1.6 .5 1.6 .2 1.6 0 1.6-1 1.6 2.8 1.6-1.3 1.6-1.1 1.6-.6 1.6 2.8 1.6-.1 1.6-1.5 1.6 1.2 1.6 .8 1.6 .7 1.6 1.4 1.6 1 1.6 .7 1.6 .2 1.6 4.1 1.6-.2 1.6 2 1.6 1 1.6 2.9 1.6 2.2 3 3.1 3 4.1 3 4 3 3.4 3 5.1 3 4.6 3 4.9 3 5 3 5.8 3 5.7 3 5.1 3 6.5 3 4.8 3 6.3 3 6.1 3 6.6 3 6.5 3 5.3 3 6.9 3 6.4 3 7.3 3 6.9 3 5.9 3 7.6 3 5.8 3 6.4 3 6.9 3 5.7 3 6.8 3 6.4 3 6.7 3 6.4 3 5.6 3 5 3 4.5 3 4.3 3 5 3 2.5 3 3.6 3 3.5 3 2.9 3 2.8 3 .7 3 2.6 3 2.6 3 .6 3 2.9 3 .3 3 0 3 2 3-.6 3 .1 3-.5 3-.8 3-1.7 3-.8 3-1.5 3-2 3-1.6 3-2 3-2.2 3-3.3 1.6-2.3 1.6-1.9 1.6-2.3 1.6-1.4 1.6-2.1 1.6-3.6 1.6-1.2 1.6-2.5 1.6-1 1.6-3.2 1.6-2 1.6-2.9 1.6-1 1.6-2.2 1.6-2.7 1.6-1.4 1.6-2.2 1.6-3.7 1.6-.7 1.6-1.7 1.6-3.1 1.6-2.4 1.6-.5 1.6-2.3 1.6-2.1 1.6-2 1.6-2.6 1.6-1.6 1.6-2.7 1.6 .1 1.6-2 1.6-2.1 1.6 .4 1.6-1.8 1.6-4.6 1.6-.7 1.6-.5 1.6-3.2 1.6-.2 1.6-2 1.6-.7 1.6 .1 1.6-.4 1.6-3.1 1.6-2 1.6-1.1 1.6 0 1.6-.3 1.6-3.5 1.6 1 1.6-.3 1.6-3 1.6 0 1.6 .2 1.6 1.6 1.6-2.3 1.6-2.1 1.6 1.6 1.6 2.4 1.6-3 1.1 .1 1.2-.7 1.1-2.4 1.2 3.2 1.1-1.1 1.2 .6 1.1-1.2 1.2 2.2 1.1-1.7 1.2-.6 1.1-.2 1.2-2.6 1.1 3.8 1.2-.9 1.1 .9 1.2-1.5 1.1 2.9 1.2-1.2 1.1-.8 1.2 0 1.1 2.2 1.2-4.1 1.1 3.5 1.2-1.8 1.1 .7 1.2 1.2 1.1-.5 1.2 3.9 1.1-3 1.2 2.9 1.1-2.3 1.2-.7 1.1 2.8 1.2 .1 1.1 .7 1.2 1.1 1.1 2.9 1.2-3.4 1.1 3.6 1.2 1.2 1.1 .2 1.2 4.2 1.1-2.1 1.2-.6 1.1 2.7 1.2 2.6 1.1-1.2 1.2 5.9 1.1-3.6 1.2 6.3 1.1 1.4 1.2 5.2 1.1-1.7 1.2 .9 1.1 1.6 1.2 3.1 1.1 1.8 1.2 2.5 1.1-.2 1.2 3.5 1.1 4.6 1.2-2.9 1.1 5.5 1.2-3.7 1.1 1.1 1.2 5.9 1.1 3.6 1.2 .8 1.1-1.4 1.2 5.3 1.1 2.5 1.2 1.5 1.1 .4 1.2 9.2 1.1-4.7 1.2 4.5 1.1-1.4 1.2 4.2 1.1 .3 1.2 6.2 1.1 3.1 1.2 2.5 1.1-3.7 1.2 6.4 1.1 6 1.2-5.6 1.1 7.4 1.2 5.8 1.1 .4 1.2 2.3 1.1 .8 1.2 1.1 1.1 5.4 1.2 5.2 1.1-3.8 1.2 7.3 1.1 7.3 1.2-4.3 1.1 3.4 1.2 2.8 1.1 5.6 1.2-2.8 1.1 2.9 1.2 3.1 1.1 9.3 1.2-6.1 1.1 6.6 1.2-3.6 1.1 7.8 1.2 2.6 1.1 2.2 1.2-.9 1.1 7.5 1.2 3.6 1.1 .2 1.2 8.7 1.1-3.8 1.2 3.1 1.1 5.5 1.2 .9 1.1 2 1.2 .8 1.1-.7 1.2 10.6 1.1-1.8 1.2 5.9 1.1-2.7M1166 2499.4l1.2 11.9 1.1 10.3 1.2-4.7 1.1-3.6 1.2 3.8 1.1 7 1.2-12.1 1.1 15.3 1.2 .3 1.1 3.3 1.2-1.8 1.1-1.1 1.2 1.5 1.1 6.5 1.2-7 1.1 3.5 1.2 7.5 1.1-3.9 1.2 18.9 1.1-13.2 1.2-7.2 1.1 11.3 1.2-10.4 1.1 7.1 1.2 5.8 1.1 0 1.2 4.6 1.1 14.2 1.2-11.1 1.1 4.5 1.2-6.9 1.1-23 1.2 25.3 1.1 2 1.2-18.4 1.1 16.5 1.2-.1 1.1-1.6 1.2-11.3 1.1 8.2 1.2-3.3 1.1 3.7 1.2 3.5 1.1-3.7 1.2-1.9 1.1-1.6 1.2 8.7 1.1 6.3 1.2-11.8 1.1-1.9 1.2-18 1.1 19.6 1.2 .9 1.1-1.7 1.2 6.2 1.1-9.7 1.2-9.5 1.1-16.6 1.2 14.3 1.1-7.4 1.2 18.8 1.1-27 1.2 21.6 1.1 1.7 1.2-9 1.1-18.5 1.2 19.6 1.1-9.2 1.2 18.7 1.1-20.7 1.2-13.4 1.1 22.1 1.2-17.8 1.1 4.5 1.2-11.7 1.1 2.7 1.2-2.2 1.1 8.4 1.2 2.2 1.1-26.8 1.2 10 1.1 6.7 1.2-17 1.1 6.7 1.2 4.1 1.1-23.4 1.2 .1 1.1 10.1 1.2-22.2 1.1 24.1 1.2 0 1.1-29.5 1.2 35.8 1.1-4.4 1.2-2.4 1.1-1.7 1.2-19.7 1.1-16.6 1.2 29.2 1.1 1.9 1.2-21.2 1.1-6.9 1.2 20.6 1.1 1.5 1.2-9.2 1.1-16.2 1.2 22.7 1.1-41.8 1.2 43 1.1-25.9 1.2 29.7 1.1-19.4 1.2-13.1 1.1 1.8 1.2 17.2 1.1 12.9 1.2-33.3 1.1 2.2 1.2-7.1 1.1 10 1.2-12.5 1.1-3.5 1.2-5.1" stroke="#2e6cb3"/>
<path d="M687 2157.2l1.6-.8 1.6-1.5 1.6-1.7 1.6-1.3 1.6-2.2 1.6-3.8 1.6 1 1.6-2.2 1.6 .9 1.6-1.4 1.6-.8 1.6-2.6 1.6 1.3 1.6-.7 1.6 .8 1.6-.1 1.6-2 1.6-.2 1.6-1.2 1.6-.5 1.6 .4 1.6-.2 1.6 .6 1.6-.7 1.6 .9 1.6-.5 1.6 .1 1.6 2.8 1.6-1.4 3 2.8 3 .7 3 3.4 3 1.9 3 3.6 3 4 3 3.4 3 4 3 5.3 3 5.1 3 4.8 3 5.3 3 5.3 3 6.3 3 6.4 3 6.1 3 7.1 3 7 3 6.8 3 8.2 3 7.3 3 8 3 7.7 3 8.9 3 7.9 3 8.9 3 9.2 3 8.7 3 9.5 3 10.4 3 9.3 3 12.5 3 10 3 11.1 3 10 3 9.6 3 8.5 3 9.2 3 7.7 3 9.2 3 7.9 3 7.8 3 7.1 3 6.5 3 5.9 3 6.6 3 4.4 3 6.8 3 5.9 3 4.7 3 4.9 3 2.2 3 2.6 3 1.2 3 1.8 3 1.3 3 1.3 3 0 3 .7 3-.8 3-1.2 3-1.5 1.6-2.2 1.6-.4 1.6-.9 1.6-1.3 1.6-1.4 1.6-.9 1.6-2.5 1.6-2.2 1.6-2.5 1.6-2.8 1.6-2.8 1.6-1 1.6-4.1 1.6-3.4 1.6-2.1 1.6-4 1.6-3.6 1.6-5.1 1.6-.9 1.6-3.5 1.6-2.8 1.6-2.4 1.6-3.5 1.6-2.1 1.6-4.9 1.6-4.3 1.6-4.3 1.6-1.7 1.6-3.6 1.6-5.9 1.6-3.4 1.6-1.4 1.6-5 1.6-1.2 1.6-7.1 1.6-4 1.6-2.5 1.6-2.9 1.6-5.5 1.6-2.6 1.6-2.4 1.6-4.4 1.6-5.1 1.6-3.1 1.6-4.5 1.6-3.1 1.6-3.8 1.6-5 1.6-.3 1.6-4.4 1.6 2.1 1.6-5 1.6-5.5 1.6-1.1 1.6-1.1 1.6-1.6 1.6-3.8 1.6-1.5 1.6 .8 1.6-1.6 1.1-2.8 1.2 .8 1.1-5 1.2-.1 1.1-4.5 1.2 2.4 1.1-2.1 1.2-1.3 1.1-.9 1.2 .2 1.1-2 1.2-1.9 1.1-.9 1.2-2.4 1.1-.3 1.2 0 1.1-3.8 1.2 .5 1.1-2.7 1.2 .3 1.1-.9 1.2-2.9 1.1 4.2 1.2-5.8 1.1-1.7 1.2 .6 1.1-2.3 1.2 0 1.1-1.4 1.2 .2 1.1-1.5 1.2-.4 1.1 2.2 1.2-2.6 1.1-4.7 1.2 1.6 1.1 0 1.2-2.5 1.1-3.9 1.2 1.3 1.1-1.6 1.2-1.1 1.1 2 1.2-3.3 1.1 1.8 1.2-.4 1.1-2.2 1.2 2.5 1.1 3.6 1.2-3.9 1.1 2.6 1.2 2 1.1 .6 1.2-1 1.1-.8 1.2 4.4 1.1 .3 1.2-.7 1.1 4.1 1.2 0 1.1 .7 1.2 2.6 1.1 .8 1.2-6.9 1.1 6.7 1.2 0 1.1 7.7 1.2-2.1 1.1 4.1 1.2-9.2 1.1 8.9 1.2 2.5 1.1-1.5 1.2 4.6 1.1 2.1 1.2 .2 1.1 1 1.2 5.4 1.1 .8 1.2 1.2 1.1 .9 1.2-2.4 1.1 .1 1.2 .8 1.1 11.2 1.2 5.3 1.1-7.4 1.2 .1 1.1 1.8 1.2 9.8 1.1-6.9 1.2 3.4 1.1 8 1.2 5.5 1.1 .1 1.2 2.1 1.1-1.8 1.2 1.4 1.1 7.6 1.2 .4 1.1 3.8 1.2 6.5 1.1-6.2 1.2 8.1 1.1-1.3 1.2 4.9 1.1 1.4 1.2 3.2 1.1 1.3 1.2 7.9 1.1-1.7 1.2 2.2 1.1 6 1.2-.9 1.1 7.3 1.2 1.2 1.1 3.2 1.2 4.4 1.1-4.4 1.2 8.8 1.1 2.9 1.2 1.2 1.1 5.7 1.2-.7 1.1 4.1 1.2-.1 1.1 6.8M1166 2433.4l1.2 33.4 1.1-4.9 1.2-18.4 1.1 25 1.2-5.3 1.1-7.8 1.2 6.6 1.1 10.8 1.2 4.4 1.1 8.7 1.2-2.1 1.1-4.8 1.2 14.6 1.1-18.2 1.2 17 1.1 4.1 1.2-7.9 1.1 14 1.2 2.3 1.1-3.4 1.2 8.8 1.1-8.9 1.2 19.3 1.1-1.2 1.2-2.6 1.1 15.7 1.2-31.9 1.1 29.8 1.2-2.6 1.1-.7 1.2 8.2 1.1-1.2 1.2-1.8 1.1-10.9 1.2 2.4 1.1 11.1 1.2 5.1 1.1-3.2 1.2-1.7 1.1 9.9 1.2-3.2 1.1-7.8 1.2-3.9 1.1 16.9 1.2 5.1 1.1-2.8 1.2 1.5 1.1 12.9 1.2-15.9 1.1-1.1 1.2 1.7 1.1 2.5 1.2 4.1 1.1 8.5 1.2-12.1 1.1-11.6 1.2 16.7 1.1-9.3 1.2-2 1.1 .4 1.2 10 1.1 20.3 1.2-25.4 1.1 5.1 1.2 11.5 1.1-7.1 1.2 3.1 1.1-9.5 1.2-3.6 1.1 2.5 1.2 11.6 1.1-.8 1.2 1.9 1.1-12.4 1.2-24.6 1.1 15.3 1.2 15.3 1.1-1.4 1.2 5.1 1.1-39.4 1.2 28.2 1.1 4.6 1.2-15.8 1.1 29.1 1.2-10.7 1.1-12.7 1.2 6.6 1.1-12.7 1.2-2.7 1.1-7.6 1.2 11.9 1.1-9.4 1.2-13.1 1.1 9 1.2 2.3 1.1-14.9 1.2-11.2 1.1-24.1 1.2 48.9 1.1-31.6 1.2 1.4 1.1-10.9 1.2-6.8 1.1 20.9 1.2-20.2 1.1-17.6 1.2-3.4 1.1 10.5 1.2-33.3 1.1 22.2 1.2 3.4 1.1-1.8 1.2-22 1.1 15.9 1.2 1.8 1.1-28.6 1.2 27.4 1.1-46.5 1.2 18.8 1.1 .8 1.2-4 1.1-2.6 1.2-21.2" stroke="#a0672b"/>
<path d="M687 2130.4l1.6-4.3 1.6-3.5 1.6-1.7 1.6-2.1 1.6-2.5 1.6-1.9 1.6-1.8 1.6-2.2 1.6-1.3 1.6-2.3 1.6 .1 1.6-1.9 1.6-2.3 1.6 .2 1.6-.9 1.6-1.9 1.6-.7 1.6-.6 1.6-.9 1.6-1 1.6-1.4 1.6 .2 1.6-.4 1.6-1.3 1.6-.1 1.6-.4 1.6-.1 1.6 .4 1.6-.7 3 2.4 3 1.2 3 2.1 3 2.5 3 1 3 2.2 3 1.6 3 3.3 3 3 3 3.7 3 4 3 3.8 3 4.7 3 4.4 3 5 3 5.7 3 6 3 7.7 3 6.4 3 8.3 3 7.5 3 7.7 3 8 3 9.1 3 8.7 3 8.7 3 8.5 3 9.9 3 10.8 3 9.8 3 10.7 3 10.7 3 10.4 3 11.3 3 12 3 12.3 3 11.3 3 12.4 3 12 3 9.5 3 11 3 10.9 3 10.8 3 10.2 3 10.4 3 8.8 3 10.4 3 9 3 8.8 3 9.1 3 9.5 3 7.3 3 8 3 7.7 3 5.7 3 4.8 3 3.8 3 4 3 2.1 3 3.4 3 2 3-.1 1.6 .2 1.6-.3 1.6 0 1.6-.4 1.6-1.2 1.6-.8 1.6 .3 1.6-.3 1.6-2.5 1.6-3 1.6 .7 1.6-1.9 1.6-1.4 1.6-2.4 1.6-1.4 1.6-2.3 1.6-2.8 1.6-3.7 1.6-3.6 1.6-3.5 1.6-1.3 1.6-4.8 1.6-3.6 1.6-3.5 1.6-3.6 1.6-3.7 1.6-3.5 1.6-4.2 1.6-3.3 1.6-3.9 1.6-3.4 1.6-5.9 1.6-5.8 1.6-1.3 1.6-6.1 1.6-6.8 1.6-4.8 1.6-4.7 1.6-3.4 1.6-6 1.6-4.5 1.6-3.1 1.6-5 1.6-5 1.6-4.2 1.6-6.6 1.6-4.2 1.6-3.3 1.6-3.1 1.6-5.8 1.6-4.3 1.6-4.4 1.6-5.5 1.6-5.1 1.6-3 1.6-6.8 1.6 1.3 1.6-8.6 1.6-4.5 1.6-.7 1.1-4 1.2-.4 1.1-2.2 1.2-5.2 1.1 1.8 1.2-3.5 1.1-1.9 1.2-4.8 1.1-.1 1.2-1.4 1.1-3.7 1.2-1.2 1.1-3.4 1.2-4.3 1.1 .3 1.2-1.2 1.1-1.7 1.2-3.4 1.1-4 1.2-2.9 1.1 1.5 1.2-1.6 1.1-4.5 1.2-2.8 1.1-1.5 1.2-1.9 1.1-2.3 1.2-3.4 1.1 .2 1.2-1.4 1.1-3.8 1.2-.6 1.1-1.4 1.2-2.8 1.1-1.3 1.2-.1 1.1 .9 1.2-5.5 1.1 3.6 1.2-6.1 1.1 4.6 1.2-1.3 1.1-4.6 1.2 1.7 1.1 .7 1.2-3.2 1.1 2.9 1.2-1.1 1.1-4.6 1.2 2.5 1.1 1.3 1.2 1.2 1.1-.1 1.2-5.4 1.1 3.5 1.2-.8 1.1 0 1.2 1.3 1.1 1 1.2-4.3 1.1 3.2 1.2-1.8 1.1 .1 1.2 2.4 1.1-.6 1.2-1.3 1.1-2.1 1.2-.5 1.1 1.5 1.2 4.4 1.1 1.5 1.2-5.5 1.1-3.1 1.2 2.9 1.1 7.5 1.2-1.4 1.1-4.5 1.2 5.3 1.1 .1 1.2 1.2 1.1 1.5 1.2-.2 1.1 4.5 1.2-5 1.1 3.1 1.2 6.4 1.1-3.1 1.2-.6 1.1 2.5 1.2 2.8 1.1 2.7 1.2 6.3 1.1-8.8 1.2 7.5 1.1 3.2 1.2-.7 1.1-1 1.2 8.6 1.1-3.1 1.2 6.3 1.1 .6 1.2-1.5 1.1 5.5 1.2 .9 1.1 4.4 1.2 6.6 1.1 2.9 1.2 0 1.1-5.9 1.2 11 1.1 .2 1.2 4.8 1.1 .2 1.2 3.6 1.1 1.2 1.2 .8 1.1 .6 1.2 5.1 1.1 5.8 1.2 5.1 1.1-2 1.2 1.4 1.1 4 1.2 6 1.1 4.2 1.2 1.9 1.1 7.2M1166 2367.4l1.2 3.8 1.1 4.7 1.2 8 1.1 4.1 1.2 2.5 1.1 4 1.2-1.1 1.1 5.3 1.2 1.5 1.1 11.9 1.2-4.8 1.1 20.1 1.2-12.8 1.1 7.2 1.2 16.1 1.1 0 1.2-12.7 1.1 14.9 1.2 3.9 1.1 9.5 1.2-1.7 1.1 3.4 1.2-6.8 1.1 9.8 1.2-8.9 1.1 34.4 1.2-15 1.1 1.8 1.2 8.4 1.1-4.1 1.2 8.2 1.1-3.8 1.2 10.7 1.1 11.2 1.2-15.8 1.1 5.8 1.2 1.4 1.1 2.3 1.2 3.7 1.1 6.8 1.2 1.3 1.1-4.2 1.2-4.6 1.1 9.8 1.2-1.4 1.1 5.9 1.2 3.5 1.1 4.3 1.2 7.1 1.1-8.8 1.2-3.5 1.1 6.3 1.2 2.8 1.1 15.9 1.2-20.8 1.1 6.4 1.2-6.4 1.1 20.7 1.2-9.1 1.1-7.8 1.2-.2 1.1-2.5 1.2 11 1.1-16.5 1.2 7.6 1.1-7.4 1.2 1.8 1.1 10.5 1.2-.6 1.1 3.4 1.2-10.3 1.1 21.6 1.2-27.3 1.1-2.2 1.2 11.8 1.1 15.4 1.2-17.8 1.1 7.9 1.2 5.5 1.1-5.6 1.2-17.8 1.1 5.2 1.2-.7 1.1-2 1.2 3.2 1.1 7.4 1.2-9.3 1.1 11.5 1.2-9.9 1.1 6 1.2-27.3 1.1-2.1 1.2-10.4 1.1 15.4 1.2-3.9 1.1 7.7 1.2 3 1.1-25.2 1.2 18.6 1.1-29.8 1.2-8.5 1.1 1.9 1.2-4.2 1.1-3.6 1.2-28.5 1.1 6.2 1.2-7.5 1.1 41.7 1.2-78.5 1.1 21.7 1.2-16.2 1.1-1.2 1.2-49.4 1.1 48.1 1.2-35.5 1.1 17.4 1.2-4.7 1.1-10.1 1.2 4.7 1.1 1.7 1.2-18.7 1.1 15.6 1.2-12.2" stroke="#3db54a"/>
</g>
<line x1="694.5" y1="2011.8" x2="694.5" y2="2024.8" stroke="#000" stroke-width="3"/>
<line x1="694.5" y1="2573.6" x2="694.5" y2="2560.6" stroke="#000" stroke-width="3"/>
<line x1="774.6" y1="2011.8" x2="774.6" y2="2018.8" stroke="#000" stroke-width="3"/>
<line x1="774.6" y1="2573.6" x2="774.6" y2="2566.6" stroke="#000" stroke-width="3"/>
<line x1="854.7" y1="2011.8" x2="854.7" y2="2024.8" stroke="#000" stroke-width="3"/>
<line x1="854.7" y1="2573.6" x2="854.7" y2="2560.6" stroke="#000" stroke-width="3"/>
<line x1="934.8" y1="2011.8" x2="934.8" y2="2018.8" stroke="#000" stroke-width="3"/>
<line x1="934.8" y1="2573.6" x2="934.8" y2="2566.6" stroke="#000" stroke-width="3"/>
<line x1="1014.9" y1="2011.8" x2="1014.9" y2="2024.8" stroke="#000" stroke-width="3"/>
<line x1="1014.9" y1="2573.6" x2="1014.9" y2="2560.6" stroke="#000" stroke-width="3"/>
<line x1="1095" y1="2011.8" x2="1095" y2="2018.8" stroke="#000" stroke-width="3"/>
<line x1="1095" y1="2573.6" x2="1095" y2="2566.6" stroke="#000" stroke-width="3"/>
<line x1="1175.1" y1="2011.8" x2="1175.1" y2="2024.8" stroke="#000" stroke-width="3"/>
<line x1="1175.1" y1="2573.6" x2="1175.1" y2="2560.6" stroke="#000" stroke-width="3"/>
<line x1="1255.2" y1="2011.8" x2="1255.2" y2="2018.8" stroke="#000" stroke-width="3"/>
<line x1="1255.2" y1="2573.6" x2="1255.2" y2="2566.6" stroke="#000" stroke-width="3"/>
<line x1="645.5" y1="2411.9" x2="653.5" y2="2411.9" stroke="#000" stroke-width="2.4"/>
<line x1="645.5" y1="2252.3" x2="657.5" y2="2252.3" stroke="#000" stroke-width="2.4"/>
<line x1="1336.4" y1="2252.3" x2="1324.4" y2="2252.3" stroke="#000" stroke-width="2.4"/>
<line x1="645.5" y1="2092.7" x2="653.5" y2="2092.7" stroke="#000" stroke-width="2.4"/>
<path d="M645.5 2010.8V2573.6H1336.4V2010.8" fill="none" stroke="#000" stroke-width="3" stroke-linejoin="miter"/>
<line x1="644" y1="2011.8" x2="1337.9" y2="2011.8" stroke="#000" stroke-width="2.1"/>
<text transform="translate(1347.54 2583.98) scale(0.9100 1)" font-size="50.80" letter-spacing="-1.85">0.0</text>
<text transform="translate(1347.54 2264.78) scale(0.9100 1)" font-size="50.80" letter-spacing="-1.41">0.2</text>
<text transform="translate(1483.00 2371.95) rotate(-90) scale(1.0849 1)" font-size="94.08" font-style="italic">R</text>
<text transform="translate(655.06 235.19) scale(1.0116 1)" font-size="86.46">(b)</text>
<text transform="translate(655.06 831.19) scale(1.0116 1)" font-size="86.46">(d)</text>
<text transform="translate(655.18 1490.80) scale(1.0167 1)" font-size="85.50">(f)</text>
<text transform="translate(655.16 2083.59) scale(1.0116 1)" font-size="86.46">(h)</text>
<text transform="translate(667.74 136.98) scale(0.9100 1)" font-size="50.80" letter-spacing="-2.42">0.5</text>
<text transform="translate(667.72 2620.27) scale(0.9100 1)" font-size="51.24" letter-spacing="-2.68">0.5</text>
<text transform="translate(830.64 136.98) scale(0.9100 1)" font-size="50.80" letter-spacing="-3.11">1.0</text>
<text transform="translate(830.60 2620.27) scale(0.9100 1)" font-size="51.24" letter-spacing="-3.36">1.0</text>
<text transform="translate(991.91 136.98) scale(0.9100 1)" font-size="51.16" letter-spacing="-4.39">1.5</text>
<text transform="translate(991.87 2620.27) scale(0.9100 1)" font-size="51.61" letter-spacing="-4.64">1.5</text>
<text transform="translate(1150.67 136.98) scale(0.9100 1)" font-size="50.80" letter-spacing="-2.30">2.0</text>
<text transform="translate(1150.65 2620.27) scale(0.9100 1)" font-size="51.24" letter-spacing="-2.56">2.0</text>
<text transform="translate(1310.26 136.98) scale(0.9100 1)" font-size="51.02" letter-spacing="-2.40">2.5</text>
<text transform="translate(1310.24 2620.27) scale(0.9100 1)" font-size="51.46" letter-spacing="-2.66">2.5</text>
<line x1="958.9" y1="568.2" x2="1057.7" y2="568.2" stroke="#3db54a" stroke-width="7"/>
<text transform="translate(1063.19 582.01) scale(0.9000 1)" font-size="50.68" letter-spacing="-0.68">70°</text>
<line x1="1153.1" y1="568.2" x2="1251.9" y2="568.2" stroke="#a0672b" stroke-width="7"/>
<text transform="translate(1258.44 582.01) scale(0.9000 1)" font-size="50.68" letter-spacing="-1.26">65°</text>
<line x1="958.9" y1="624.55" x2="1057.7" y2="624.55" stroke="#2e6cb3" stroke-width="7"/>
<text transform="translate(1063.55 638.36) scale(0.9000 1)" font-size="50.68" letter-spacing="-0.88">55°</text>
<line x1="1153.1" y1="624.55" x2="1251.9" y2="624.55" stroke="#861619" stroke-width="7"/>
<text transform="translate(1259.51 638.36) scale(0.9000 1)" font-size="50.68" letter-spacing="-1.85">45°</text>
<line x1="958.9" y1="680.9" x2="1057.7" y2="680.9" stroke="#7a5bb0" stroke-width="7"/>
<text transform="translate(1064.02 694.71) scale(0.9000 1)" font-size="50.68" letter-spacing="-1.14">35°</text>
<line x1="1153.1" y1="680.9" x2="1251.9" y2="680.9" stroke="#0a0a0a" stroke-width="7"/>
<text transform="translate(1257.75 694.71) scale(0.9000 1)" font-size="50.68" letter-spacing="0.92">5°</text>
</svg>
</body></html>
